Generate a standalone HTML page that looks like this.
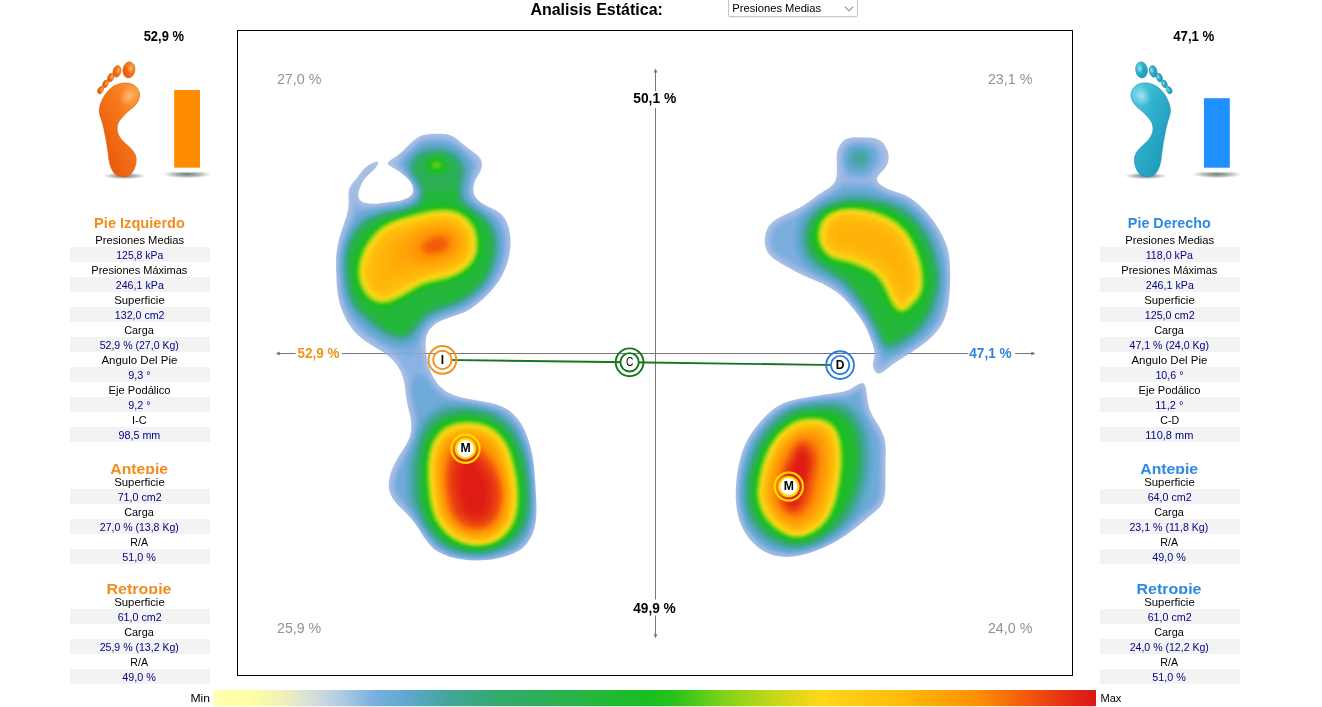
<!DOCTYPE html><html lang="es"><head><meta charset="utf-8"><title>Analisis Estática</title><style>
html,body{margin:0;padding:0;background:#fff}
body{width:1322px;height:707px;position:relative;overflow:hidden;font-family:"Liberation Sans",sans-serif;font-size:11px;color:#000}
.t{position:absolute;white-space:pre;line-height:1;transform-origin:50% 50%}
.b{font-weight:bold}
.sel{position:absolute;left:728px;top:-5px;width:128px;height:20px;border:1px solid #c6c6c6;border-radius:2px;background:#fff;box-shadow:0 1px 1px rgba(0,0,0,.06)}
.panel{position:absolute;top:0;width:140px;height:707px}
.panel div{position:absolute;left:0;width:140px}
.lb{height:15px;color:#000}
.vl{height:15px;color:#00008b;background:#f3f3f3}
svg{position:absolute;left:0;top:0}
svg text{font-family:"Liberation Sans",sans-serif}
</style></head><body>
<svg width="1322" height="707" viewBox="0 0 1322 707">
<defs><linearGradient id="cb" x1="0" y1="0" x2="1" y2="0"><stop offset="0.000" stop-color="rgb(255,255,176)"/><stop offset="0.040" stop-color="rgb(255,255,164)"/><stop offset="0.080" stop-color="rgb(238,240,185)"/><stop offset="0.120" stop-color="rgb(205,218,222)"/><stop offset="0.150" stop-color="rgb(168,200,228)"/><stop offset="0.183" stop-color="rgb(118,175,222)"/><stop offset="0.220" stop-color="rgb(95,168,205)"/><stop offset="0.262" stop-color="rgb(70,165,160)"/><stop offset="0.320" stop-color="rgb(50,170,110)"/><stop offset="0.410" stop-color="rgb(40,180,70)"/><stop offset="0.495" stop-color="rgb(25,190,30)"/><stop offset="0.523" stop-color="rgb(40,195,25)"/><stop offset="0.580" stop-color="rgb(130,210,25)"/><stop offset="0.636" stop-color="rgb(200,215,25)"/><stop offset="0.690" stop-color="rgb(255,215,25)"/><stop offset="0.784" stop-color="rgb(255,185,10)"/><stop offset="0.869" stop-color="rgb(255,140,5)"/><stop offset="0.925" stop-color="rgb(240,86,13)"/><stop offset="0.982" stop-color="rgb(224,34,20)"/><stop offset="1.000" stop-color="rgb(220,24,20)"/></linearGradient><filter id="hb" x="0" y="0" width="100%" height="100%" color-interpolation-filters="sRGB"><feGaussianBlur stdDeviation="0.9"/></filter></defs>
<rect x="237.5" y="30.5" width="835" height="645" fill="#fff" stroke="#000" stroke-width="1"/>
<g stroke="#767676" stroke-width="1" fill="#767676">
<path fill="none" d="M655.5,71 V91 M655.5,108 V599.5 M655.5,615.5 V636 M279,353.5 H295.6 M341.9,353.5 H968.5 M1015.1,353.5 H1032"/>
<path stroke="none" d="M655.5,68.6 L657.4,72.6 L653.6,72.6 Z M655.5,638.3 L657.4,634.3 L653.6,634.3 Z M275.8,353.5 L279.8,351.6 L279.8,355.4 Z M1035.3,353.5 L1031.3,351.6 L1031.3,355.4 Z"/>
</g>
<clipPath id="hc"><path d="M427.8,134.2L434.5,133.7L441.3,133.7L447.8,134.6L450.8,135.5L453.6,136.8L456.3,138.5L466.5,147.0L475.1,153.3L477.7,155.5L479.8,157.8L481.3,160.5L481.9,163.5L481.8,166.7L480.9,170.0L479.5,173.0L476.2,178.6L474.8,181.6L473.8,184.9L473.4,188.3L473.5,191.6L474.3,194.7L475.8,197.5L478.0,200.0L480.5,202.2L486.4,205.7L495.4,210.1L498.1,211.8L500.7,213.6L502.9,215.9L504.8,218.5L506.4,221.4L507.7,224.5L508.7,227.7L510.1,234.2L510.6,240.7L510.4,247.2L509.0,256.9L507.3,263.2L505.0,269.4L502.2,275.3L498.8,280.9L495.0,286.2L490.8,291.3L484.0,298.2L476.5,304.6L471.1,308.4L465.5,311.7L462.5,313.0L444.0,319.5L438.1,322.3L435.4,324.1L432.8,326.2L430.5,328.6L428.6,331.3L427.2,334.2L426.2,337.3L425.7,340.5L425.6,347.1L426.2,353.7L427.3,360.2L428.8,366.5L431.0,372.6L434.0,378.5L437.8,383.9L440.0,386.3L445.0,390.6L447.7,392.3L453.7,395.1L459.9,397.0L466.3,398.5L488.8,402.6L495.2,404.1L501.4,406.3L507.2,409.3L509.9,411.1L514.8,415.5L517.0,417.9L520.9,423.2L522.5,426.0L525.4,431.9L527.8,438.0L529.8,444.3L532.2,453.8L533.7,463.4L534.9,476.4L536.3,499.2L536.5,509.0L536.1,518.8L535.1,525.3L533.4,531.7L530.8,537.8L527.2,543.3L525.1,545.8L522.7,548.0L520.1,550.0L514.4,553.1L508.2,555.6L501.8,557.4L492.2,559.4L485.7,560.1L476.0,560.5L469.5,560.3L463.0,559.6L456.5,558.5L450.0,556.9L443.8,554.6L438.0,551.7L435.3,549.9L432.8,547.9L428.3,543.1L424.4,537.9L417.3,526.7L413.6,521.4L409.4,516.5L397.7,504.9L393.5,499.7L391.8,497.0L390.4,494.0L389.4,491.0L388.9,487.8L388.7,484.5L389.0,481.2L390.3,474.6L392.4,468.3L395.2,462.4L398.4,456.8L405.6,445.7L408.6,439.9L409.7,436.9L410.5,433.8L411.1,430.5L411.3,427.2L411.0,420.6L409.8,414.2L406.8,401.5L404.7,385.3L403.4,378.9L401.2,372.7L398.2,366.9L396.4,364.2L392.1,359.2L389.7,357.0L384.5,353.0L367.8,342.7L362.5,338.9L357.5,334.7L355.2,332.4L351.1,327.3L347.4,321.9L343.0,313.1L339.7,303.8L337.7,294.3L336.7,284.5L336.0,268.2L336.1,258.3L336.6,251.9L337.6,245.5L339.1,239.1L340.9,232.8L346.2,217.3L347.8,211.0L348.6,204.5L348.5,194.4L348.8,191.2L349.5,188.1L351.0,185.2L352.9,182.6L357.2,177.6L362.6,170.2L365.0,167.7L368.4,165.3L372.4,163.1L376.0,161.7L378.3,161.8L378.1,163.9L376.1,167.2L373.7,170.0L366.8,176.5L364.8,178.8L363.0,181.3L361.4,184.2L360.1,187.4L359.0,190.8L358.4,194.3L358.6,197.5L360.0,200.1L362.7,201.9L366.1,202.9L369.6,203.5L376.2,203.7L398.5,200.9L401.8,200.2L405.0,199.1L408.2,197.6L410.9,195.6L412.7,193.0L413.2,189.9L412.7,186.6L411.3,183.3L409.4,180.5L407.1,178.1L399.9,172.1L397.3,170.2L390.7,166.5L388.1,164.7L387.8,162.7L389.9,160.5L396.7,156.1L399.5,153.9L404.1,149.7L410.7,142.9L415.8,138.7L418.6,136.9L421.5,135.6L424.6,134.7ZM851.3,137.6L856.5,137.3L867.2,137.4L874.0,138.0L877.1,138.9L879.9,140.3L881.3,141.3L883.6,143.6L885.6,146.5L887.8,151.3L888.7,156.3L888.6,159.7L887.8,163.0L886.3,166.2L884.1,169.2L879.0,174.7L877.3,177.4L876.9,178.7L876.9,180.0L877.4,181.3L878.3,182.6L880.9,185.0L885.7,188.0L890.6,190.1L902.9,194.2L905.9,195.5L910.2,197.9L914.3,200.7L918.2,204.0L925.6,211.2L929.9,216.3L934.9,222.9L939.4,230.0L942.6,235.9L945.3,242.0L947.5,248.3L948.7,253.2L949.6,259.8L950.2,269.8L950.2,281.6L949.8,291.5L948.8,301.5L947.7,308.2L946.0,314.6L943.6,320.9L941.2,325.3L938.4,329.5L934.1,334.6L929.3,339.3L924.1,343.5L911.7,352.2L893.9,363.5L883.3,371.8L880.2,373.3L878.8,373.6L877.5,373.4L876.2,372.8L875.1,371.6L873.5,368.4L873.0,366.6L872.9,363.2L874.4,355.0L874.2,350.1L872.4,343.6L868.2,332.5L864.6,325.1L860.3,318.0L855.3,311.2L848.8,303.5L844.2,298.6L840.6,295.2L836.7,292.1L831.1,288.4L822.3,283.6L803.9,275.7L796.4,272.1L781.8,263.9L774.5,259.2L770.6,256.0L767.6,252.2L766.1,249.2L764.9,244.3L764.7,239.2L765.1,235.7L765.9,232.4L767.0,229.2L768.6,226.3L771.8,222.5L774.3,220.4L778.6,217.7L797.0,208.9L804.2,204.9L808.3,202.2L819.0,194.3L829.2,187.7L831.8,185.6L833.9,183.2L835.5,180.4L836.7,175.5L837.0,170.4L836.5,157.0L837.1,152.0L838.1,148.6L840.5,144.0L842.7,141.4L843.9,140.3L846.6,138.8ZM863.2,383.2L864.6,384.5L865.9,388.1L868.2,403.8L869.1,407.4L870.2,410.8L873.0,416.5L879.2,426.6L881.7,431.2L884.1,437.1L885.2,442.0L885.8,449.8L885.5,464.2L885.4,488.9L885.0,494.2L884.3,498.1L883.2,501.8L882.1,504.1L879.9,507.2L876.2,510.8L857.2,526.7L848.0,533.7L840.4,538.8L833.7,542.7L825.6,546.7L817.2,550.2L808.6,553.2L801.1,555.2L793.4,556.5L786.9,557.0L780.5,556.6L774.1,555.4L767.9,553.3L762.1,550.3L756.9,546.5L752.1,542.0L747.9,537.0L744.3,531.6L741.4,525.8L739.1,519.7L737.5,513.4L736.3,505.7L735.7,496.7L735.8,487.6L736.7,477.3L738.0,468.3L740.0,459.4L742.6,450.7L745.5,443.5L749.2,436.7L752.7,431.3L756.7,426.1L761.8,420.1L766.3,415.3L770.1,411.8L774.1,408.6L778.4,405.8L781.8,404.0L785.3,402.5L790.2,400.8L799.1,398.7L814.8,396.0L838.8,392.5L843.7,391.5L847.4,390.3L850.0,389.2L857.9,384.5L860.3,383.4L862.3,383.0Z"/></clipPath>
<g clip-path="url(#hc)"><g filter="url(#hb)"><rect x="320" y="120" width="650" height="455" fill="rgb(148,175,219)" fill-opacity="0.75"/>
<path fill="rgb(140,174,224)" fill-opacity="0.26" d="M491.2,560.9L482.2,561.7L472.8,561.8L461.2,560.6L448.2,557.5L441.2,554.5L436.2,551.6L431.8,548L425.9,541.2L410.2,518.4L397.3,504.2L392.4,497.2L390.1,491.8L389.2,486.8L389.5,480.8L390.6,475.2L392.5,469.8L395.4,463.2L407.8,441.4L409.8,435.6L410.8,430.2L411,418.8L406.8,399.8L404.3,378.8L402.2,372.8L398.8,366.2L396.2,362.6L391.8,358L386.7,353.8L363.8,339.2L356.2,332.6L352.4,328.2L346.7,319.8L342.4,311.2L339.5,302.8L337.4,293.2L335.7,273.8L335.7,257.8L336.4,250.8L339.5,237.2L348.8,210.8L349.5,206.2L349.7,192.8L350.5,189.2L351.8,186.2L364.1,170.8L370.2,166.2L373.8,165L374.3,165.2L374.6,166.2L373.5,168.8L364.5,178.2L361.8,182.3L359.9,186.2L358.5,191.8L358.1,195.8L358.8,198.8L360.7,201.2L362.8,202.5L365.3,203.2L374.2,203.8L397.6,200.8L404.6,198.8L408.6,196.8L410.8,194.8L412,192.2L412,188.8L410.7,185.2L408.2,181.3L398.5,171.2L391.5,165.8L390.6,164.2L390.6,162.8L392.1,160.8L400.2,153.9L414.2,140.4L420.8,136.6L426.8,134.9L438.8,134.3L446.8,135L451.8,136.6L455.8,138.6L459.8,141.4L472.2,151.6L478.2,157.2L480.8,161.8L481.3,166.2L480.1,171.2L475.8,180.5L474.4,184.8L473.8,190.2L474.8,194.7L476.8,197.9L480.3,201.2L485.3,204.8L495.2,210.1L502.2,215.8L505.1,219.8L507.5,224.8L509,229.2L510.1,234.8L510.5,239.8L510.3,248.2L509.5,255.2L507.5,263.2L503,274.8L495.1,287.2L490.9,292.2L479.8,302.7L471.2,308.9L464.8,312.5L457.8,315.5L442.8,320.8L437.8,323.2L434.1,325.8L430.6,329.2L427.8,334L426.2,338.2L425.1,344.8L426.2,357.5L427.7,364.8L429.2,369.5L435.2,380.7L440.6,387.2L447.8,392.7L452.2,394.7L462.8,397.5L486.2,401.6L494.2,403.4L499.2,405.1L506.2,408.5L513.2,413.4L520.5,421.8L525.6,430.8L530,441.8L532.6,450.8L534.6,460.8L536.2,474.2L537.8,500.8L537.6,515.2L536.4,523.8L534.6,530.8L532,537.2L528.6,542.8L525.2,546.7L521.2,550L515.2,553.6L509.8,556L501.8,558.6ZM879.8,372.6L878.2,372.5L876.7,371.8L875.4,370.2L874.4,368.2L873.9,364.8L874.6,356.2L874.2,351.7L872.2,344.6L866.2,329.8L862.8,323.2L858.8,317.1L852.8,309L845.2,300.3L839,294.2L831.3,288.8L821.2,283.2L796.2,271.5L781.2,263L775.2,259L771.2,255.7L768.5,252.2L766.7,248.2L765.6,243.2L765.8,236.8L767.5,230.8L769.9,226.2L773.2,222.6L779.2,218.3L793.1,211.8L802.8,206.2L830.6,187.2L834.8,183.3L837.2,179.8L838.1,176.8L837.2,157.2L837.6,153.2L839,148.8L841.6,144.2L844.2,141.5L848.2,139.4L853.2,138.2L866.2,138.1L873.2,139L878.8,141.2L883.2,145.2L885.4,148.8L886.7,152.2L887.4,156.8L887.2,160.8L885,166.2L877,176.8L876.3,179.2L876.7,181.2L880.1,184.8L886.1,188.2L902.2,193.9L909.2,197.5L915.8,201.9L927.1,212.8L933.1,220.2L937.6,226.8L944,238.8L948,249.8L950.1,261.2L950.9,270.8L951,280.2L949.4,299.2L948.1,307.2L946.1,314.8L944,320.2L941,325.8L933.3,335.8L929.2,339.8L923.2,344.5L912.8,352L892.6,364.2L883.8,371ZM762.8,550.9L757.2,546.9L752.2,542.3L747.9,537.2L744.6,532.2L741.4,526.2L738.9,519.8L737.1,512.8L735.8,505.2L735.2,497.8L735.2,490.8L735.9,480.2L737.5,469.2L739.6,459.8L742.4,450.8L745.5,443.2L749,436.8L757.1,425.2L766.6,414.8L774.8,407.9L783.2,403L791.8,400L802.2,397.5L843.8,391.9L849.8,389.8L859.8,384.5L861.8,384.2L863.5,384.8L865,386.2L866,388.8L868.2,403.4L870.2,410.8L873.2,417L882.1,432.2L884.1,437.2L885.3,442.8L886.1,451.8L885.6,460.8L885.5,490.2L884.4,498.2L882,504.2L876.2,511L855.8,528.5L845.2,536.6L832.8,544.5L820.2,550.5L804.8,555.5L795.8,557.1L788.8,557.7L782.8,557.5L776.8,556.5L768.8,554Z"/>
<path fill="rgb(134,173,227)" fill-opacity="0.23" d="M490.8,559.8L482.2,560.6L473.2,560.8L461.8,559.6L448.8,556.5L441.8,553.5L436.8,550.4L432.2,546.8L426.6,540.2L410.8,516.9L398.1,502.8L393.6,496.2L391.6,491.2L390.8,486.8L391.1,481.2L392.1,475.8L396.5,464.8L408.8,442.2L411.2,435.2L412.2,429.8L412.6,418.8L408.3,398.8L406.2,378.7L403.9,371.8L400.4,365.2L397.8,361.5L393.2,356.8L387.8,352.2L364.8,337.7L357.5,331.2L353.2,326.5L347.6,318.2L343.4,309.8L340.5,301.2L338.5,291.8L337,273.2L337,257.8L337.6,251.2L339,244.2L341,236.8L350.8,210.8L351.4,206.8L351.9,193.2L353.4,188.2L355.2,186L356.2,185.4L356.8,185.6L355.9,194.8L356.4,198.8L357.6,200.8L359.8,202.9L361.8,204.1L364.2,204.8L373.2,205.3L395.8,202.4L404.2,200.2L409.8,197.5L412.1,195.2L413.2,192.8L413.2,189.4L412.2,185.8L407.8,179L399.8,170.4L394.2,165.2L393.5,163.8L393.6,162.8L395.6,160.2L414.4,142.2L420.8,138.4L426.8,136.6L438.2,135.9L446.2,136.6L451.2,138.1L455.8,140.5L459.8,143.4L471.1,152.8L476.7,158.2L479,162.2L479.4,166.2L478.4,170.8L474.5,179.8L472.9,184.8L472.4,190.8L473.2,195L475.3,198.2L479.4,202.2L485.2,206.2L494.2,211.2L500.9,216.8L503.5,220.2L505.9,225.2L507.4,229.8L508.5,235.2L508.9,240.2L508.7,248.8L507.9,255.2L506.1,262.8L501.8,273.8L493.7,286.8L488.5,292.8L480.8,300L470.2,307.9L464.8,310.9L457.8,314L441.7,319.8L436.7,322.2L432.8,325L429.2,328.8L426.2,333.8L424.3,339.2L423.2,345.2L424.5,358.2L425.9,365.2L427.7,370.8L434.4,382.2L439.4,388.2L446.5,393.8L450.8,395.8L462.4,398.8L491.2,404L498.2,406.1L505.2,409.4L512.2,414.3L519.6,422.8L524.4,431.2L529.1,442.8L531.5,451.2L533.5,461.2L535.1,474.8L536.7,500.8L536.4,514.8L535.2,523.8L533.6,529.8L531,536.2L528,541.2L524.8,545.3L520.2,549.1L513.8,553L507.8,555.5L497.2,558.5ZM880.2,370.5L877.8,369.9L876,367.2L875.6,363.8L876.3,356.2L875.7,351.8L871.2,338.3L867.2,329.1L863.8,322.5L859.2,315.7L853.8,308.3L846.2,299.4L839.9,293.2L832.4,287.8L823.4,282.8L796.2,269.5L782.2,261.5L776.2,257.5L772.3,254.2L770,251.2L768.2,247.2L767.3,242.8L767.5,237.2L769.2,231.2L771.4,227.2L774.6,223.8L780.2,219.8L794.1,213.2L803.3,207.8L819.8,196.1L832,188.2L836.2,184.3L839.4,180.2L840.4,177.2L838.8,159.2L839.2,154.2L840.5,149.8L842.6,145.8L845.2,143L848.8,141L853.2,139.8L864.2,139.7L871.8,140.6L877.2,142.7L881.2,146.3L883.4,149.8L884.6,153.2L885.1,157.2L884.8,160.8L882.7,165.8L874.6,176.8L873.8,179.2L874.3,181.2L878.2,185.5L883.7,188.8L888.2,190.8L901.2,195.1L908.2,198.6L914.8,203L925.6,213.2L932.1,221.2L936.1,227.2L942,238.2L946.4,249.8L948.7,261.8L949.5,270.8L949.6,280.2L948.1,298.2L946.9,305.2L944.9,313.2L942.9,318.8L939.8,324.8L932.1,334.8L928,338.8L922.2,343.3L912.2,350.5L891.8,362.8L883.2,369.2ZM763.2,549.5L757.8,545.5L752.8,540.8L748.6,535.8L745,530.2L742.2,524.8L739.9,518.8L738.4,512.8L737,504.2L736.4,497.2L736.4,490.2L737.4,478.2L739,468.2L741.1,459.2L743.6,451.2L746.7,443.8L750.5,436.8L758.3,425.8L767.8,415.4L776.2,408.4L784.2,403.9L792.8,400.9L803.2,398.6L820.2,396L844.2,393.3L849.8,391.5L859.2,386.5L861.2,386.1L862.8,386.6L863.8,387.8L864.7,390.2L866.8,403.9L868.5,410.8L871.9,417.8L880.8,433.2L882.6,437.8L883.8,443.2L884.5,451.8L884,460.8L884,489.8L883,497.2L880.7,503.2L875.2,509.8L854.8,527.4L844.2,535.7L832.8,543.1L820.8,549L804.2,554.4L795.2,555.9L788.8,556.4L782.8,556.1L776.8,555L768.8,552.4Z"/>
<path fill="rgb(128,173,227)" fill-opacity="0.29" d="M490.8,559L475.2,560L469.8,559.8L463.2,559L449.2,555.7L442.8,553L437.8,550L433.2,546.5L426.9,539.2L410.8,515.3L399,501.8L394.8,495.8L393,491.2L392.1,486.8L392.4,481.2L393.5,475.8L397.7,465.2L409.8,442.5L412.2,435.2L413.2,429.8L413.9,418.8L409.5,398.2L408.2,387.2L408.3,380.8L407.8,377.8L405.5,371.2L401.8,364.2L398.9,360.2L394.2,355.4L388.8,350.9L378.2,344.7L365.8,336.5L358.2,329.9L354.2,325.4L348.8,317.5L344.5,309.2L341.4,300.2L339.5,291.2L337.9,271.8L337.9,257.8L338.8,249.8L342.5,235.8L352.1,212.2L353.8,202.8L354.2,202.1L355.2,201.9L359.8,205.1L362.8,206.2L372.8,206.5L399.8,202.6L406.8,200.3L411.6,197.2L413.5,194.8L414.2,192.2L414,188.8L412.8,185.2L408.8,179L396.7,165.2L396.1,163.8L396.2,162.8L398.3,159.8L414.8,143.6L421.2,139.7L427.2,137.9L438.8,137.3L446.2,138L451.2,139.6L455.2,141.7L459.2,144.6L469.8,153.3L475.1,158.8L477.2,162.2L477.8,166.2L477,170.2L473.2,179.5L471.6,185.2L471.1,190.8L472.1,195.2L474.2,198.8L478.2,202.6L484.1,206.8L493.2,211.9L499.8,217.4L502.2,220.8L504.6,225.8L507.1,235.2L507.5,240.2L507.4,248.2L506.6,255.2L504.9,262.2L500.5,273.8L492.7,286.2L487.5,292.2L479.8,299.5L469.2,307.2L456.8,313.3L441.2,318.8L435.8,321.5L431.8,324.2L428.1,328.2L424.8,333.8L422.4,340.8L421.5,345.8L422.8,358.8L424.1,365.2L426.1,371.2L433.8,383.7L438.5,389.2L445.8,394.8L450.2,397L461.8,399.7L488.8,404.3L497.2,406.7L504.2,410L511.7,415.2L518.7,423.2L523.6,431.8L528.1,442.8L530.6,451.2L532.6,461.2L534.4,475.2L536,500.8L535.6,514.8L534.4,522.8L532.9,528.8L530.4,535.2L527.4,540.2L523.8,544.8L519.8,548.2L513.8,551.9L507.8,554.5L497.8,557.5ZM880.2,368.6L878.8,368.2L877.5,366.2L877.2,363.8L877.8,357.2L877.1,352.8L872.2,338.3L868.2,329.1L864.8,322.5L860.2,315.5L854.8,308L847,298.8L840.8,292.5L832.9,286.8L825,282.2L797.2,268.2L783.1,260.2L777.2,256.4L773.5,253.2L771.2,250.4L769.7,246.8L768.8,242.8L769,237.8L770.5,232.2L772.6,228.2L775.8,224.8L780.8,221.3L794.8,214.6L804.2,208.6L819.8,197.5L833.7,188.8L842,180.2L842.8,178.8L842.9,176.8L840.6,165.2L840.3,161.2L840.4,156.2L841.1,152.2L843.1,147.8L845.8,144.5L849.8,142.2L854.2,141.1L863.2,141L870.2,141.8L875.5,143.8L879.5,147.2L881.3,150.2L882.4,153.2L882.9,157.2L882.6,160.8L880.1,166.2L872.3,176.8L871.3,179.2L871.8,181.2L876.9,186.2L881.8,189.2L887.2,191.7L900.8,196.2L907.2,199.4L914.2,204.1L924,213.2L930.6,221.2L934.4,226.8L940.9,238.8L945.3,250.2L947.6,262.8L948.4,271.2L948.5,280.2L947,297.8L945.7,305.2L943.6,313.2L941.7,318.2L938.5,324.2L934.7,329.8L930.4,334.8L919.2,344.1L911.2,349.7L890.8,361.6L882.8,367.6ZM763.8,548.4L758.2,544.4L753.8,540.2L749.5,535.2L745.9,529.8L743.1,524.2L740.7,517.8L737.9,504.2L737.3,497.2L737.4,490.2L738,481.2L739.7,469.8L741.9,459.8L744.4,451.8L747.5,444.2L751.4,437.2L759.6,425.8L768.8,415.8L776.8,409.2L785.2,404.5L793.8,401.6L803.2,399.5L820.8,396.9L844.8,394.5L850.2,392.8L859.2,388.1L861.8,388.1L862.8,389.2L863.5,391.2L865.6,404.8L867.3,411.2L870.8,418.4L879.6,433.8L881.4,438.2L882.5,443.2L883.2,451.8L882.8,460.8L882.7,489.8L881.6,497.2L879.5,502.8L874.2,508.9L865.4,516.2L853.7,526.8L843.2,535.1L831.8,542.6L819.8,548.5L804.2,553.5L795.2,555L788.8,555.4L782.8,555.1L776.8,553.9L769.2,551.4Z"/>
<path fill="rgb(123,172,224)" fill-opacity="0.40" d="M490.2,558.3L481.8,559.2L473.2,559.3L461.8,558L449.2,555L442.8,552.1L437.8,549.1L433.2,545.4L427.1,538.2L411.2,514.4L399.8,500.8L396,495.2L394.3,491.2L393.4,486.8L393.6,481.8L394.5,476.8L398.2,466.9L405.2,453.9L411,441.8L413.7,432.8L415.1,422.8L414.7,415.8L410.6,396.8L409.4,386.2L410,380.2L409.6,377.2L407.1,370.2L403.4,363.2L400.6,359.2L395.7,354.2L390.8,350.2L379.2,343.6L366.8,335.4L359.2,328.8L354.8,323.8L349.5,316.2L345.1,307.8L342.2,299.2L340.4,290.8L338.7,270.8L338.8,257.2L339.9,248.8L343.5,235.8L346.3,228.8L353.5,213.2L355.6,206.8L356.8,206.1L362.2,207.7L371.2,207.7L395.2,204.3L405.8,201.6L409.6,199.8L412.4,197.8L414.2,195.3L415,192.8L414.9,189.8L413.9,186.2L410.2,179.9L399.1,165.8L398.3,164.2L398.3,162.8L399.9,160.2L406.2,153.2L414.8,145.2L421.2,141.1L427.2,139.3L435.8,138.6L442.8,138.9L447.2,139.6L451.2,141L455.2,143.1L459.2,146L468.8,154.2L473.5,159.2L475.7,162.8L476.2,166.8L475.5,170.2L472,179.8L470.5,185.8L470,191.2L471.1,195.8L473.4,199.2L477.2,203L483.2,207.3L492.5,212.8L498.8,218.2L501.2,221.8L503.4,226.2L505.9,235.8L506.3,241.8L506,250.2L505.2,255.8L503.6,262.8L499.5,273.2L495.8,279.8L491.4,286.2L486.2,292.2L479.2,298.6L468.8,306.3L456.2,312.4L439.8,318.2L435,320.8L431.2,323.4L427.1,327.8L423.8,333.2L420.6,341.8L419.7,346.2L421,359.2L422.4,366.2L424.2,371.8L425.3,373.8L428.8,377.6L433,384.8L437.8,390.2L444.9,395.8L449.2,397.9L460.2,400.3L487.8,404.9L496.8,407.5L503.8,410.8L510.9,415.8L518,423.8L522.9,432.2L527.4,443.2L530,452.2L532.4,464.2L534.9,491.2L535.3,500.8L534.8,514.2L533.6,522.8L532,528.8L529.7,534.8L527,539.2L523.5,543.8L519.2,547.5L512.8,551.4L506.8,554L496.8,557ZM865.8,179.7L858.8,180.4L851.8,179.6L847.2,177.6L844.8,174L841.9,164.2L841.8,155.2L843,151.2L844.8,147.8L846.8,145.6L849.8,143.7L853.2,142.6L857.2,142.2L864.2,142.3L869.2,143.1L872.8,144.3L875.3,145.8L877.8,148.2L879.6,151.2L880.5,154.2L880.8,157.8L880.4,160.8L879.5,163.2L876.8,167.8L867.8,178.6ZM881.2,366.2L879.8,365.9L879.1,364.8L879.3,357.8L878.5,353.2L872.7,337.2L868.2,327.3L864.8,320.9L859.2,312.7L847.2,297.7L840.8,291.3L833.2,285.8L790.8,262.9L779.1,255.8L775.3,252.8L773.2,250.5L771.7,247.8L770.7,244.2L770.4,239.8L771.6,233.8L773.8,229.3L776.8,226L782.2,222.3L797.2,214.9L820.2,198.4L834.6,189.8L837.7,187.2L841.2,183.4L844.8,181.7L866.8,181.9L869.2,182.4L871.8,183.8L876.5,187.8L885.8,192.3L901.8,197.8L906.2,200L912.2,203.9L919,209.8L924.4,215.2L930,222.2L934.4,228.8L937.5,234.2L941.5,242.8L943.8,249.2L945.4,255.8L947.4,272.2L947.5,280.8L946.8,290.8L945.3,301.2L943.4,309.8L941,316.8L938,322.8L934.2,328.3L929.8,333.7L918.8,343.1L905.2,352.1L889.3,360.8L883.2,365.2ZM764.2,547.5L758.8,543.4L754.2,539.3L750,534.2L746.4,528.8L743.7,523.2L741.4,517.2L738.7,503.8L738.2,490.2L739,479.8L740.5,469.8L742.7,460.2L745.4,451.8L748.5,444.2L752.1,437.8L759.9,426.8L769.2,416.5L777.2,409.9L786.2,404.9L794.8,402.1L804.2,400.1L822.2,397.6L845.2,395.7L850.2,394.1L858.8,389.9L860.8,389.8L861.8,390.7L862.5,392.8L864.4,405.2L866.2,411.8L869.8,419.2L878.2,433.8L880,438.2L881.2,443.2L882,451.8L881.5,460.2L881.5,489.2L880.5,496.8L878.3,502.2L873.2,508.1L862.2,517.3L852.7,526.2L842.9,534.2L831.8,541.7L819.8,547.7L804.2,552.7L795.2,554.1L788.8,554.6L782.8,554.1L776.8,552.8L769.8,550.4Z"/>
<path fill="rgb(118,171,221)" fill-opacity="0.67" d="M410.8,356.8L392.8,349.3L380.8,342.9L369.2,335.4L359.2,326.8L351.2,316.7L347.5,310.2L345,304.8L342.9,298.2L341.4,291.2L339.6,271.8L339.6,257.8L340.3,250.8L342.9,240.2L346.5,230.8L354.8,214.6L357.8,210.3L359.8,209.7L372.8,208.7L400.2,204.1L408.8,201.2L412.2,198.9L414.3,196.8L415.5,194.2L415.8,191.8L414.4,185.8L411.2,180.2L403.6,170.2L400.9,165.8L400.2,163.8L401.3,160.8L408.2,152.8L416.8,145.1L424.2,141.3L428.2,140.5L435.2,139.9L445.2,140.5L451.8,142.6L457.8,146.3L468.1,155.2L473.7,162.2L474.5,164.8L474.5,167.8L469.5,185.2L468.9,190.8L469.6,194.8L471.3,198.2L475,202.2L481.8,207.3L492.8,214.2L497.2,218.2L500.1,222.2L503.1,229.2L504.7,236.8L505,245.2L504.3,254.2L502.1,263.8L498.8,272.2L492.7,282.8L487.2,289.8L477.8,298.6L467.2,306.1L455.8,311.6L439.2,317.4L434.2,320L430.2,322.9L426.6,326.8L423.6,331.2L415.8,348.8L411.2,356.7ZM866.2,176.1L861.8,177.1L853.2,176.7L848.8,175.1L846,171.8L843.3,163.8L843.1,155.8L844.1,152.2L845.5,149.2L847.2,147.1L849.8,145.2L852.8,144L856.2,143.5L861.8,143.4L866.8,144L870.2,145L873.2,146.5L875.2,148.3L877.1,150.8L878.2,153.8L878.6,156.8L878.5,159.8L877.6,162.8L873.2,169.4L868.8,174.2ZM882.8,362.6L881.8,362.4L881.4,361.8L881.1,357.8L879.7,353.2L872.9,335.8L867.8,324.8L862.6,316.2L857.2,308.6L846.8,295.8L841.2,290.5L834.2,285.2L827.6,281.2L811.2,272.8L779.8,253.8L775.2,249.8L773.8,247.3L772.8,244.2L772.4,239.8L773.6,234.2L775.6,230.2L778.5,227.2L782.9,224.2L795.8,217.9L816.2,202.3L822.8,198L835.2,191L839,188.2L842.2,185.2L844.2,184.3L869.8,185L878.2,190.2L885.2,193.2L901.2,198.7L905.8,201L911.2,204.5L917.8,210L923.2,215.5L929,222.8L933.1,228.8L936.3,234.2L940.1,242.2L942.4,248.8L944.2,255.2L945.5,262.8L946.5,272.2L946.6,280.8L945.9,290.2L944.3,300.8L942.3,309.2L940.1,315.8L937.1,321.8L933.2,327.6L928.8,333L924.2,337.2L916.2,343.6L900.2,353.8ZM512.8,550.5L505.8,553.6L495.2,556.7L488.8,557.9L478.2,558.7L469.8,558.5L459.8,557L450.8,554.8L443.8,551.8L435.2,546.3L428.3,538.8L424,532.8L411.8,513.7L400.3,499.2L397,494.2L395.4,490.2L394.7,486.2L395,481.2L396,476.2L399.2,467.9L404.8,457.4L411.2,443.4L413.8,435.8L415,430.2L416.3,421.8L416.4,418.2L412.2,398.8L410.7,385.2L411.8,381.1L416.2,372.6L422.8,374.9L426.2,376.8L427.8,378.5L431.7,385.2L435.4,389.8L439.8,393.6L445.8,397.8L451.2,399.6L485.8,405.3L498.2,409L504.2,412.1L510.8,416.8L516.8,423.6L520.8,429.9L524.1,436.8L527,444.2L529.4,452.8L531.6,463.2L533.1,475.8L534.3,491.2L534.7,500.8L534.2,513.2L532.1,525.8L530.1,531.8L527.9,536.2L524.5,541.2L521.8,544.3L518.1,547.2ZM764.8,546.6L759.8,543L755.1,538.8L750.8,533.6L747.2,528.2L744.6,523.2L742.2,516.8L739.4,503.2L738.9,495.2L739.3,484.2L741.4,469.2L743.6,460.2L746.3,451.8L749.5,444.2L753.1,437.8L760.9,426.8L770.2,416.7L778.2,410.2L787.2,405.3L798.2,402L812.8,399.6L830.8,397.6L845.8,396.9L850.2,395.6L858.2,391.8L860.2,392L861.4,394.2L863,405.2L864.8,411.8L868.7,419.8L877.2,434.8L878.8,438.8L879.9,443.8L880.7,451.8L880.2,460.2L880.1,489.2L879.2,496.2L877.1,501.8L872.8,506.8L864.2,513.8L852.3,525.2L842.2,533.8L831.2,541.2L819.2,547.2L804.2,552L795.2,553.4L788.8,553.7L783.2,553.3L777.2,552L770.2,549.5Z"/>
<path fill="rgb(112,170,217)" d="M394.8,348L390.8,346.4L381.8,341.8L366.8,331.6L360.8,326.2L356.2,321.3L351.8,315.3L348,308.8L345.5,303.2L343.6,297.2L341.2,282.8L340.3,271.8L340.3,258.2L341,251.8L342.2,245.8L344.6,237.8L348.5,228.8L355.8,216.1L359.2,212.5L363.2,211.1L402.2,204.4L409.8,201.5L412.8,199.5L415,197.2L416.1,194.8L416.5,192.2L415.2,186.2L412.2,180.9L404.9,170.8L402,164.2L402.2,162.2L403.3,160.2L410.6,151.8L417.8,145.8L421.8,143.7L425.2,142.4L436.2,141.2L447.2,142.3L452.8,144.4L458.2,148.1L467.3,156.2L472.2,162.8L473,165.2L473,167.8L468.3,186.2L467.8,191.2L468.4,194.8L470.1,198.2L473.1,201.8L478.8,206.2L492.3,215.2L496.8,219.8L499.7,224.2L502.3,231.2L503.7,239.8L503.4,251.8L501.8,260.8L498.1,271.2L491.9,282.2L485.8,290L477.2,297.8L468.8,304L462.8,307.4L454.8,311L440.2,316L431.2,320.8L427.9,323.8L424.9,327.2L421.5,332.8L416.8,342.2L413.2,345.6L409.2,347.5L405.8,348.3L398.8,348.4ZM864.8,174.2L862.2,174.8L858.2,174.9L852.2,174.1L849.1,172.2L846.2,168.2L844.4,162.2L844.3,158.2L844.7,154.8L847.2,149.2L849.2,147.2L851.2,146L854.2,145L857.8,144.6L866.2,145.3L871.9,147.8L873.8,149.4L875.3,151.8L876.2,154.2L876.5,157.8L875.2,163.2L873.4,166.2L870.8,169.5L867.2,172.8ZM888.2,357.6L884.8,357.8L882.8,356.2L879.2,349.4L870.8,329.2L866.9,321.8L857.2,307.4L848.8,296.8L842.8,290.6L836.2,285.4L828.8,280.7L812.8,272.2L803.3,265.8L800.4,262.8L798.6,259.8L796.5,255.2L794.5,249.2L793.4,241.8L793.5,231.8L795.5,223.2L798,218.8L802,214.8L810.8,207.5L819.2,201.5L838.8,190.5L843.8,188.4L852.2,187.5L865.8,187.5L869.8,188L883.4,193.8L900.2,199.4L904.8,201.6L909.7,204.8L920.2,213.8L929.6,225.2L934,232.2L937,238.2L940,245.2L942.4,252.8L944.3,261.8L945.3,269.8L945.5,282.2L944.7,291.8L942.7,303.2L940.2,312.2L937.2,319L934.1,324.2L929.2,330.8L925.2,334.8L918.8,340.2L911.2,345.8L899.8,352.7L894.2,355.4ZM511.6,550.2L504.8,553.2L494.2,556.2L487.8,557.4L477.2,558.1L469.2,557.9L459.2,556.3L450.8,554.1L443.8,551.1L435.8,545.8L428.2,537.6L423.8,531.3L412.2,512.9L398.8,494L397.2,490.7L396.5,486.8L396.6,482.2L397.4,477.8L399.8,470.9L412.6,442.2L415.3,433.2L417.7,420.8L417.6,414.8L413.9,398.8L412.5,386.8L412.8,383.7L413.7,382.2L415,381.2L422.2,378.1L423.8,377.9L425.2,378.4L426.8,380.2L430.4,386.2L434.8,391.5L442.2,397.6L446.2,399.7L484.2,405.7L492.2,407.7L498.2,409.9L503.8,412.8L509.9,417.2L515.4,423.2L519.5,429.2L522.8,435.8L525.9,443.2L528.5,451.8L530.7,461.8L532.6,475.8L533.7,490.8L534.1,500.8L533.7,511.8L533,517.8L531.6,524.8L529.4,531.2L527.3,535.8L523.8,540.8L520.8,544.1L516.8,547.2ZM765.3,545.8L760.2,542.1L755.5,537.8L751.2,532.7L747.6,527.2L745.1,522.2L742.7,515.8L740.1,502.8L739.7,494.8L740,484.2L742.1,469.8L744.4,460.2L747,452.2L750.1,444.8L753.7,438.2L761.5,427.2L770.8,417.2L778.8,410.8L787.8,405.9L799.2,402.5L815.2,399.9L831.2,398.4L847.8,398L851.2,397L857.2,394.2L858.9,394.2L859.8,395.8L861.4,405.8L863.1,411.2L875.8,435.5L877.2,439.4L878.2,443.7L879,451.8L878.5,460.2L878.5,488.8L877.6,495.8L875.7,500.8L871.8,505.4L863.8,512.2L851.8,524.2L841.5,533.2L830.8,540.6L819.2,546.5L804.2,551.3L795.2,552.6L789.2,552.9L783.8,552.4L777.8,551.2L770.8,548.7Z"/>
<path fill="rgb(105,170,212)" d="M394.2,346L382.2,340.4L367.8,330.5L361.8,325.2L357.2,320.4L352.8,314.5L348.7,307.8L345.8,301.2L343.9,294.8L342.4,285.8L341.4,276.2L341.1,257.2L343,245.8L345.3,238.2L349.4,229.2L356.8,217.4L360.2,214L366.2,212L404.2,204.6L410.9,201.8L413.7,199.8L415.6,197.8L416.8,195.3L417.2,192.8L416,186.8L413.7,182.2L405.9,170.8L403.5,164.2L403.8,162.2L404.9,160.2L411.2,152.6L418.2,146.9L422.2,144.8L425.8,143.6L436.8,142.6L447.2,143.6L452.8,145.8L458.2,149.5L466,156.8L469.2,160.8L470.9,163.8L471.5,166.2L471.3,169.2L467.7,183.8L466.8,189.8L467.1,194.2L468.9,198.2L471.3,201.2L475.2,204.7L488.7,213.8L492.4,216.8L496.4,221.2L499.2,226.2L501.5,233.2L502.5,241.2L502.1,252.8L500.3,261.8L496.7,271.8L490.7,282.2L484.7,289.8L476.2,297.5L467.8,303.6L461.8,306.9L454.2,310.2L439.5,315.2L430.8,320L427.5,322.8L424.4,326.2L415.8,340.7L412.2,344L408.8,345.6L405.2,346.4L398.2,346.6ZM865.2,171.5L861.2,172.6L854.2,172.3L850.8,170.8L847.6,167.2L845.8,162.2L845.8,155.8L847.9,150.8L851.2,147.5L856.8,145.9L864.2,146.2L869.7,148.2L873.1,151.8L874.1,154.2L874.4,156.8L873.5,162.2L870.2,167.5ZM890.8,355.4L887.8,356L885.8,355.8L884.2,355.1L882.8,353.4L879.5,347.8L871.6,329.2L867.1,320.8L857.7,306.8L848.2,295L842.8,289.3L836.8,284.6L829.2,279.9L813.8,271.4L805.7,265.8L801.4,260.2L797.4,250.8L795.7,242.2L795.7,233.2L797.4,224.8L800.2,218.8L803.4,215.2L810.3,209.2L817.6,203.8L825.2,199L840.8,191.4L852.2,189.6L864.8,189.6L869.8,190.1L897.2,199.4L904.8,202.8L910.8,206.8L917.2,212.3L922.5,217.8L927.2,223.8L934.4,235.2L938.1,243.2L940.7,250.8L943.8,265.2L944.5,272.8L944.7,281.2L943.8,290.8L942.1,300.8L939.9,309.2L937.3,316.2L934,322.2L929.2,328.8L925.7,332.8L920.1,337.8L912.8,343.4L897.8,352.5ZM767.2,545.8L762.2,542.4L756.9,537.8L752.8,533.1L749,527.8L746.2,522.7L743.7,516.2L741,503.8L740.5,490.2L741,482.2L742.5,471.8L744.9,461.2L747.4,453.2L750.3,446.2L753.7,439.8L761.7,428.2L771.4,417.8L779.8,411.1L789.2,406.1L795.8,404L803.8,402.3L817.8,400.3L829.8,399.3L845.8,399.6L849.1,400.2L851.8,401.4L855.8,404.4L858.8,407.6L866.2,420.7L871.6,432.2L873.1,437.2L874,443.2L874.7,451.8L874.7,460.8L873,479.2L871.5,486.8L869.1,495.8L866.5,502.8L864,507.8L859.9,513.8L856.1,518.2L850.8,523.9L842,531.8L830.8,539.8L818.8,546L804.2,550.7L790.2,552.1L784.8,551.7L778.8,550.5L771.8,548ZM509.2,550.6L502.8,553.1L492.8,555.9L483.8,557.2L476.2,557.6L468.8,557.3L459.8,555.8L451.2,553.6L445.2,551.1L436.2,545.3L428.8,537.2L423.5,529.8L406.3,501.8L404.3,496.2L403.6,489.2L403.8,470.8L405.9,461.2L413.7,441.2L416.1,433.8L418.8,422.2L420.8,416.7L423.2,413.5L428.2,409.1L438.2,403L441.8,401.8L445.8,401.5L467.2,403.7L484.8,406.5L496.2,409.9L503.2,413.5L510.2,418.8L516.6,426.2L521.5,434.8L524.8,442.2L527.4,450.2L529.5,458.8L531.1,468.2L533.3,492.2L533.5,501.2L532.9,514.2L530.5,525.8L528.4,531.8L526,536.2L522.8,540.8L519.3,544.2L514.8,547.5Z"/>
<path fill="rgb(98,168,207)" d="M394.8,344.5L383.2,339.2L368.8,329.4L362.2,323.6L357.8,318.9L353.3,313.2L349.2,306.6L346.5,300.2L344.6,293.8L343.1,284.8L342.1,275.8L341.8,257.2L343.6,246.2L346,238.8L350.2,229.8L357.2,219.3L360.8,215.7L365.8,213.6L379.2,210.1L398.5,206.8L405.8,204.9L412.2,201.8L416.1,198.2L417.2,196.2L417.8,193.8L417.7,190.8L416.9,187.8L414.6,182.8L407,171.2L405.6,167.8L405,164.8L405.1,162.8L406.3,160.2L412.1,153.2L418.8,148L422.8,146L426.2,144.8L436.8,143.9L442.8,144.2L447.2,144.9L452.8,147.1L458,150.8L465.2,157.8L469.4,164.2L469.9,166.8L469.8,169.8L466.4,185.2L465.7,190.2L466,194.2L467.8,198.3L470,201.2L473.4,204.2L490.8,216.8L495.3,221.8L498,226.8L500.3,233.8L501.3,241.2L500.9,252.8L499.2,261.8L495.6,271.8L489.9,281.8L484,289.2L476.2,296.3L467.8,302.5L461.2,306.1L454.2,309.3L438.8,314.6L430.2,319.1L423.9,325.2L414.8,339.2L411.1,342.8L407.8,344.2L404.8,344.8L398.2,344.9ZM865.8,169.1L861.8,170.5L855.8,170.5L851.8,169.1L848.8,166.2L847.1,162.2L846.9,156.8L848.5,152.2L851.2,149.1L855.8,147.3L862.2,147.1L867.2,148.5L870.8,151.4L871.8,153.2L872.4,155.8L872,161.2L869.6,165.8ZM892.2,353.5L888.8,354.3L886.8,354.3L884.8,353.3L882.8,351.1L879.8,346.3L871.9,328.2L867.3,319.8L857.8,305.5L848.2,293.7L843.2,288.6L837.2,283.8L830.2,279.3L815,270.8L807.2,265.1L803,259.8L799,250.8L797.3,242.2L797.3,233.2L798.9,225.2L801.7,219.2L804.8,215.7L810.1,210.8L817.8,204.8L825.8,199.9L840.8,193L852.2,191.2L864.2,191.2L869.8,191.7L894.2,199.4L903.8,203.5L909.8,207.3L915.2,211.9L919.7,216.2L924.8,222.2L933,234.8L936.7,242.8L939.2,249.8L941,256.2L942.7,264.8L943.6,272.2L943.8,280.8L943,289.8L941.6,298.2L939.2,307.5L936.6,314.8L933.2,321.2L929,327.2L925.6,331.2L920.2,336.2L913.8,341.4L908.2,345.1L898.2,351ZM769.2,545.7L764.2,542.7L758.8,538.2L754.8,534.1L750.7,528.8L747.4,523.2L744.9,517.2L743.3,511.8L741.9,504.8L741.2,498.2L741.6,483.2L742.9,473.2L745.4,462.2L747.8,454.8L753.2,442.2L760.8,430.8L770.5,419.8L779.2,412.3L788.8,407L794.2,405.1L801.2,403.4L820.2,400.8L836.2,400.1L844.2,400.8L847.8,401.9L852.8,405.4L857.2,409.4L860.6,413.8L864,419.2L868.9,430.2L870.5,436.2L871.5,443.2L872.2,452.2L872.2,460.8L871.5,470.2L870.1,480.8L866,496.8L859.6,511.2L856.7,515.8L851.4,521.8L839.5,532.8L829.8,539.7L817.8,545.7L804.2,550L791.2,551.3L785.8,551L780.2,549.9L774.2,548ZM506.2,551.1L496.9,554.2L490.2,555.8L481.8,556.8L474.2,557L466.8,556.5L458.8,555L451.2,553L445.2,550.4L436.8,544.9L428.8,536.2L423,527.8L408.5,503.2L407,498.2L406.3,489.8L406.4,469.8L407,462.8L407.9,459.2L414.2,442.2L419.4,424.2L421,420.2L423.8,416.8L429.2,411.7L433.8,408.5L440.2,405.1L444.8,403.5L448.8,403L466.8,404.5L484.2,407.2L496.2,410.7L505.2,415.8L510.8,420.5L516.8,427.9L522.1,437.8L524.6,443.8L527.3,452.2L530.8,469.8L532.2,483.2L533,499.2L532.1,515.2L530.8,522.3L528.9,528.2L526.5,533.8L523.8,538.1L520.7,541.8L517.2,544.8L511.2,548.7Z"/>
<path fill="rgb(91,167,197)" d="M394.8,342.8L383.8,337.9L369.8,328.4L358.8,318.1L354.2,312.5L350,305.8L347.5,300.2L345.5,293.8L343.9,285.2L342.8,275.8L342.4,257.8L344.4,246.2L346.8,238.8L351.1,230.2L357.8,221L361.8,217L367.8,214.3L379.8,210.8L399.3,207.2L406.2,205.4L412.7,202.2L416.7,198.8L417.8,196.8L418.4,194.2L418.3,191.2L417.7,188.2L415.4,183.2L408,171.8L406.8,168.8L406.2,165.8L406.4,163.2L407.4,160.8L412.8,154L419.2,149L426.2,146.1L436.8,145.1L442.8,145.5L447.2,146.2L452.8,148.4L457.8,151.9L463.6,157.8L467.8,164.2L468.4,167.2L468.3,170.8L464.6,190.8L465.1,194.8L466.9,198.8L468.8,201.2L472.1,204.2L489.9,217.2L494.2,222.2L496.9,227.2L499.2,234.2L500.1,241.8L499.8,252.8L497.9,262.2L494.5,271.8L489.2,281.2L483.2,288.8L475.2,296L466.8,302.1L460.2,305.6L453.8,308.6L438.4,313.8L429.9,318.2L423.5,324.2L414.8,336.9L412.3,339.8L410.2,341.3L407.2,342.7L404.2,343.3L398.2,343.3ZM865.8,167.3L862.2,168.7L857.2,168.9L853.2,168L850.2,165.8L848.4,162.2L848,157.8L849.2,153.5L851.8,150.3L855.8,148.5L861.2,148.1L865.9,149.2L869.1,151.8L870.7,155.2L870.6,160.2L868.9,164.2ZM893.2,351.9L889.2,352.8L886.8,352.6L884.8,351.4L882.2,348.6L879.8,344.5L872.3,327.8L867.7,319.2L858.2,305L848.1,292.2L843.8,287.8L837.8,283L815.7,269.8L808.4,264.2L804.4,259.2L800.7,251.2L798.8,242.8L798.7,233.8L800.3,225.8L803.1,219.8L810.5,211.8L818.2,205.6L826.2,200.9L840.8,194.5L852.2,192.7L864.2,192.6L869.2,193.1L892.2,199.8L903.1,204.2L909.2,208.2L918.2,216.1L923.1,221.8L927.2,227.2L931.8,234.8L935.5,242.8L937.9,249.2L939.9,256.2L941.7,264.8L942.6,271.8L942.9,280.2L942.1,289.2L940.8,296.8L938.4,306.2L935.8,313.8L932.4,320.2L928.6,325.8L924.9,330.2L919.6,335.2L909.2,343.2L898.2,349.7ZM770.2,545.1L765.2,542.2L759.7,537.8L755.3,533.2L751.5,528.2L748.2,522.9L745.8,517.2L744,511.8L742.6,504.8L742,498.2L742.3,483.2L743.6,473.8L746.1,462.8L748.5,455.2L753.9,442.8L761.4,431.2L770.8,420.5L779.8,412.9L789.2,407.6L794.8,405.7L801.8,404L819.8,401.6L835.2,401L843.2,401.9L846.8,403L851.8,406.5L856.2,410.4L860,415.2L863.2,420.5L867.6,430.8L869.1,436.8L870.1,443.8L870.7,452.8L870.7,460.8L870,470.8L868.5,481.2L864.4,496.8L857.7,511.8L855.2,515.8L850,521.8L838.3,532.8L829.2,539.2L817.4,545.2L803.8,549.4L791.8,550.6L786.2,550.2L780.8,549.1ZM505.2,550.8L496.2,553.8L489.8,555.3L481.8,556.3L473.8,556.5L466.2,555.9L458.8,554.5L451.8,552.5L445.3,549.8L436.8,544L428.8,535.2L422.7,526.2L409.8,503.2L408.5,498.8L407.7,489.2L407.8,469.8L408.4,462.2L409.4,458.2L414.9,442.8L420.2,425.2L422,421.2L424.8,417.8L430.2,412.7L434.2,410L440.8,406.4L445.8,404.7L449.2,404.2L466.8,405.2L483.8,407.8L495.8,411.4L504.4,416.2L510.3,421.2L516.4,428.8L521.8,438.8L524.4,445.2L526.9,453.2L530.3,470.8L531.7,483.2L532.5,499.2L531.4,515.2L530,522.2L528.1,528.2L525.9,533.2L523,537.8L519.8,541.6L516.2,544.5L510.5,548.2Z"/>
<path fill="rgb(82,166,181)" d="M395.2,340.7L388.2,338L384.2,335.9L371.2,327L359.2,316L354.9,310.8L350.6,304.2L348.2,298.8L346.4,292.8L344.6,283.2L343.6,274.2L343.3,257.8L345.1,247.2L347.5,239.8L352,231.2L358.2,223.1L363.2,218.6L369.2,215.5L380.2,211.8L399.8,208L406.8,206.2L412.9,203.2L417.2,199.6L418.6,197.2L419.2,194.8L419.3,191.8L418.7,188.8L416.3,183.2L409.3,172.2L407.8,167.2L407.9,164.2L408.7,161.8L410.9,158.2L413.8,155L419.8,150.6L426.8,147.8L437.2,146.9L447.2,148L452.8,150.2L457.2,153.4L462.3,158.8L465.8,164.8L466.5,168.2L466.4,172.8L463.7,186.8L463.2,191.2L463.8,195.2L465.4,198.8L467.2,201.3L470.4,204.2L488.1,217.2L491.9,221.8L495.1,227.2L497.5,234.2L498.6,242.2L498.3,252.8L496.5,262.2L493,271.8L488.1,280.8L482.3,288.2L475.2,294.6L465.8,301.3L456.8,306.1L437.7,312.8L429.8,316.9L423.2,322.6L414.2,334.7L411.2,337.8L408.8,339.6L403.8,341.1L398.8,341.2ZM863.2,166.1L860.2,166.8L856.2,166.6L853.2,165.5L851.2,163.8L850,160.8L850.1,156.8L851.3,153.8L853.8,151.3L857.2,150.1L861.8,150L865.2,151.1L867.6,153.2L868.7,156.8L868.3,160.8L866.2,164.2ZM894.2,349.6L890.8,350.6L887.8,350.5L885.2,349.4L882.5,346.8L879.3,341.2L872.6,326.2L865.2,313.6L855.2,299.2L846.2,288.5L837.7,281.2L818.1,269.2L814,266.2L808,260.8L804.4,254.8L801.8,247.2L800.8,240.2L801,232.2L803.1,224.2L807.1,217.8L812.6,211.8L818.8,206.8L826.2,202.5L841.8,196.5L847.8,195.3L854.2,194.7L864.2,194.8L869.8,195.4L892.2,201.4L899.2,204L903.2,206.1L909.2,210.1L915.8,215.7L924.7,226.2L931.6,237.8L935,245.8L938.1,255.2L940.5,266.2L941.5,275.2L941.5,281.2L940.6,290.2L939,298.2L936.6,306.8L934.3,312.8L930.9,319.2L926.4,325.8L923,329.8L916.8,335.6L910.8,340.3L902.2,345.6ZM771.2,544L766.2,541L760.8,536.7L756.7,532.8L752.4,527.2L749.3,522.2L746.7,516.2L745.1,511.2L743.6,504.2L743,498.2L743.4,483.2L744.6,474.2L748.4,459.2L751.2,451.2L754.9,443.2L762.2,432L771.2,421.7L780.2,413.9L789.8,408.5L795.2,406.6L801.8,405L819.8,402.6L834.2,402.3L842.2,403.4L845.8,404.6L850.3,407.8L854.9,411.8L858.5,416.2L861.9,421.8L865.8,431.2L867.4,437.8L868.2,444.2L868.9,460.2L868.1,470.2L866.7,480.8L862.6,496.2L855.9,511.2L853.4,515.2L848.3,521.2L837,532.2L828.8,538.3L816.8,544.5L803.8,548.5L792.2,549.4L787.2,549.1L781.8,548ZM504.2,550.1L495.8,553L489.2,554.5L481.8,555.5L474.2,555.8L466.2,555.1L459.2,553.8L452.2,551.7L446.2,549.2L437.4,543.2L429.1,534.2L422.6,524.2L411.9,503.8L410.5,499.2L409.7,492.2L409.6,472.2L410.4,461.8L412.4,454.2L420.5,429.2L423.5,422.2L426.8,418.4L431.8,413.9L441.2,408.3L445.8,406.6L449.8,405.9L466.8,406.4L483.2,408.7L495.2,412.4L504.3,417.8L510.8,423.6L516.8,431.6L521.7,441.2L524.5,448.8L526.7,456.2L528.8,466.2L530.2,475.8L531.7,499.2L530.5,515.2L529.1,521.8L527.1,527.8L524.8,532.8L521.8,537.2L518.8,540.8L515.2,543.8L509.8,547.4Z"/>
<path fill="rgb(73,165,165)" d="M395.2,339L388.8,336.6L384.8,334.6L371.8,325.6L358.8,313.6L354.1,307.8L351.3,303.2L348.8,297.8L346.9,291.2L345.4,282.8L344.3,272.8L344.1,257.8L345.9,247.2L348.5,239.8L353.2,231.2L359.2,223.9L364.8,219.4L370.2,216.4L380.8,212.6L399.9,208.8L407.8,206.7L414.3,203.2L418.2,199.8L419.3,197.8L419.9,195.2L420,191.8L419.5,188.8L417.1,183.2L410.5,172.8L408.9,167.8L409.1,164.8L409.9,162.2L412.1,158.8L414.7,155.8L420.8,151.5L427.8,149.1L437.8,148.2L447.2,149.5L452.2,151.4L456.8,154.6L461,159.2L464.1,164.8L464.9,168.8L465,173.2L462.5,186.8L462.1,191.8L462.8,195.7L464.2,198.9L466.3,201.8L469.5,204.8L482.2,213.7L487.1,217.8L490.8,222.2L493.9,227.8L496.4,235.2L497.4,242.8L497.2,252.8L495.3,262.2L491.9,271.8L487.2,280.2L481.5,287.8L474.2,294.2L465.2,300.5L455.8,305.5L437.6,311.8L429.6,315.8L423.6,320.8L420.2,324.6L413.8,333.4L408.2,338.1L405.8,339.1L402.8,339.6L398.2,339.6ZM864.2,162.8L862.2,164L859.8,164.5L856.8,164.3L854.2,163.2L852.8,161.6L852.2,159.2L852.5,156.8L853.5,154.8L855.2,153.2L858.2,152.2L861.3,152.2L864.2,153.3L865.9,155.2L866.4,157.8L865.8,160.8ZM896.8,347L892.8,348.5L889.2,349L886.2,348.2L883.8,346.4L880.6,341.8L873.8,326.8L869.2,318.5L859.8,303.8L851.2,292.5L845.8,286.4L839.7,281.2L815.8,265.6L810.1,260.2L806.6,254.8L803.9,247.8L802.7,240.2L802.9,232.8L804.6,225.8L808.3,218.8L812.9,213.2L818.8,208.2L825.8,204.1L841.2,198.5L853.8,196.6L863.8,196.6L868.8,197.1L884.2,200.4L890.2,202.1L901.8,206.7L908.2,211L913.8,215.6L921.9,224.8L929.6,236.8L933.1,244.8L936.2,253.8L938.6,263.2L940,271.2L940.5,279.2L939.9,286.2L938.6,294.2L936.5,302.2L933.5,310.8L930.5,316.8L927.5,321.8L922.9,327.8L916.8,333.8L910.8,338.7ZM772.2,542.9L766.8,539.6L761.3,535.2L757.3,531.2L753.2,526.1L750.2,521.2L747.6,515.2L744.6,503.8L744,497.2L744.2,486.8L745.6,474.8L749.4,459.8L752.1,452.2L756,443.8L763.5,432.2L772.2,422.2L781.2,414.6L790.8,409.2L795.8,407.4L802.2,405.9L820.2,403.6L833.8,403.5L840.6,404.8L844.8,406.1L849.2,409.2L853.8,413.1L857.2,417.6L860.4,422.8L864.3,432.2L866.5,444.8L867.1,460.2L866.3,470.2L864.9,480.8L861.1,495.2L854.4,510.2L852,514.2L847.2,520.2L836.2,531.4L828.2,537.5L816.8,543.6L804.2,547.5L793.2,548.4L788.2,548L782.8,546.8ZM503.2,549.4L495.8,552.1L489.2,553.7L482.8,554.6L474.8,555.1L467.2,554.5L460.8,553.3L453.8,551.4L447.8,548.9L443.8,546.7L438.3,542.8L430.2,534.3L423.5,524.2L415.6,508.2L412.4,499.8L411.4,490.2L411.5,469.8L412.2,461.8L414.1,453.8L420.9,432.2L424.8,423.6L427.8,420L432.8,415.4L442.2,409.8L446.8,408.2L450.8,407.5L466.8,407.5L482.8,409.6L494.8,413.5L498.8,415.5L503.8,418.9L510.1,424.8L516.1,432.8L521.2,442.8L523.9,449.8L526,457.2L528.1,466.8L529.5,476.8L531,499.2L529.6,514.8L528.2,521.2L526.1,527.2L523.8,532.2L521,536.2L517.8,540.1L514.2,543L508.7,546.8Z"/>
<path fill="rgb(66,166,151)" d="M395.8,338.1L385.8,333.9L380.8,330.9L372.8,325L359.3,312.8L354.5,306.8L352,302.8L349.5,297.2L347.6,290.8L346,281.8L345,272.2L344.8,257.8L346.5,247.8L349.3,239.8L353.9,231.8L359.8,224.8L365.8,220L370.8,217.2L380.8,213.4L400.6,209.2L408.1,207.2L414.9,203.8L418.7,200.2L419.9,198.2L420.6,195.8L420.8,191.8L420.3,188.8L417.9,183.2L411.3,172.8L409.9,168.2L410,165.8L410.9,162.8L413,159.2L415.2,156.7L421.2,152.5L428.2,150.1L438.2,149.3L447.2,150.6L452.2,152.6L456.2,155.6L460,159.8L463,165.2L463.8,169.2L463.9,173.2L461.6,186.2L461.3,191.8L461.8,195.4L463.2,198.9L465.2,201.8L468.3,204.8L481.8,214.3L486.5,218.2L490.1,222.8L493.1,228.2L495.4,235.2L496.5,242.8L496.4,252.2L494.4,262.2L491,271.8L486.6,279.8L480.9,287.2L474.2,293.2L464.8,299.8L455.8,304.6L436.6,311.2L428.9,315.2L424.8,318.5L421.2,322.1L412.6,333.2L407.8,337.1L402.8,338.6ZM862.1,158.8L860.8,160.2L858.8,160.6L856.8,159.8L856.4,158.2L857.2,156.7L859.8,156L861.8,156.8ZM896.2,346L892.2,347.4L889.2,347.7L886.2,346.9L884,345.2L881,340.8L874.8,326.9L869.8,317.8L860.7,303.8L851.8,291.7L846.2,285.6L840,280.2L816.8,264.9L811.1,259.2L807.9,254.2L805.1,246.8L804,239.8L804.3,232.8L805.9,226.2L809.4,219.2L813.8,213.8L819.2,209L825.8,205.1L832.2,202.5L841.8,199.6L854.2,197.9L863.2,197.9L868.8,198.5L883.8,201.4L889.8,203L901.2,207.7L907.8,212L913.2,216.6L921,225.2L928.4,236.8L932.1,245.2L935,253.8L937.5,263.2L939,271.2L939.5,277.8L939.4,282.2L938.2,291.2L935.9,300.2L933.4,307.8L931,313.2L927.7,319.2L922.2,326.8L916.2,332.8L910.2,337.7ZM773.8,542.1L768.2,538.9L763.2,535.1L758.8,530.9L754.6,525.8L751.3,520.8L748.6,514.8L745.7,503.8L745,497.8L745.1,486.8L746.5,475.2L750.2,460.8L753,452.8L757,444.2L764,433.2L772.2,423.7L781.8,415.5L791.2,410L796.2,408.2L802.8,406.7L820.2,404.6L833.2,404.7L838.2,405.7L843.8,407.6L848.2,410.6L852.4,414.2L855.8,418.5L859,423.8L862.6,432.8L864.8,445.2L865.4,459.8L864.6,469.8L863.2,480.2L859.4,494.8L853,509.2L850.6,513.2L845.3,520.2L835.4,530.8L827.2,537.1L816.2,543L804.2,546.6L793.8,547.4L784.2,546ZM496.2,551.1L484.8,553.7L477.2,554.4L472.2,554.3L465.2,553.5L458.8,552.1L452.8,550.2L446.8,547.5L437.9,541.2L429.7,532.2L423.6,522.8L416.6,507.2L414.5,500.8L413.6,495.8L413.1,489.2L413.1,472.2L414,461.2L418,444.2L422.6,431.2L427.1,423.2L430.8,419.4L434.8,416.1L444.2,410.8L448.2,409.6L453.2,408.9L467.8,408.5L482.8,410.6L488.8,412.3L495.2,414.9L504.2,420.8L511.2,427.8L516.9,436.2L522.4,448.2L524.9,456.2L527.1,465.8L529.6,483.8L530.2,500.8L529.5,509.8L527.9,518.8L526,524.8L523.6,530.2L521.1,534.2L517,539.2L513.2,542.4L507.2,546.5Z"/>
<path fill="rgb(61,167,138)" d="M396.2,337.3L389.8,335L385.8,333L373.2,324.4L359.8,312.2L355.4,306.8L352.5,302.2L350.1,296.8L348.3,290.8L346.7,281.8L345.6,272.2L345.5,257.8L347.1,248.2L349.8,240.2L354.4,232.2L360.2,225.4L366.2,220.7L371.8,217.5L381.2,213.9L401,209.8L408.4,207.8L415.2,204.3L419.2,200.8L421.1,196.2L421.4,191.8L421.1,188.8L418.8,183.2L412.2,172.8L410.8,168.2L410.9,165.8L411.7,163.2L415.8,157.5L421.2,153.6L428.8,151L437.8,150.2L446.8,151.5L451.8,153.4L455.8,156.4L459.5,160.8L462.1,165.8L462.9,169.8L463,173.2L460.7,185.8L460.5,191.8L461.1,195.8L462.6,199.2L464.8,202.3L467.8,205.2L481.2,214.8L486,218.8L489.5,223.2L492.5,228.8L494.9,236.2L495.8,243.2L495.6,252.8L493.5,262.8L490,272.2L485.7,279.8L480.4,286.8L473.8,292.7L464.2,299.3L455.2,304.1L436,310.8L428.3,314.8L422.8,319.4L419.2,323.3L412.8,332L407.8,336.2L405.2,337.3L402.8,337.8ZM896.2,344.9L892.2,346.4L889.2,346.8L886.8,346.2L884.2,344.4L881.6,340.2L875.2,326.3L870.2,317.3L861.2,303.2L852.4,291.2L846.8,285L840.6,279.8L817.8,264.5L812.4,259.2L809.1,254.2L806.3,247.2L805,239.8L805.2,233.8L806.8,226.8L810.2,219.8L814,214.8L819.2,209.9L825.8,206L831.8,203.5L841.2,200.6L854.2,198.8L863.2,198.9L868.8,199.5L883.2,202.1L889.8,203.9L900.8,208.4L907.2,212.7L912.8,217.3L919.9,225.2L927.7,237.2L931.4,245.8L934.4,254.8L938.2,271.2L938.8,278.2L938.5,282.8L937.4,290.8L935,300.2L930.5,312.2L926.9,318.8L921.5,326.2L915.5,332.2L909.8,336.9ZM778.8,543L773.2,540.4L768.2,537.4L763.2,533.5L758.8,529.1L754.9,524.2L752,519.8L749.1,513.2L747.5,507.8L745.9,497.8L746,486.2L746.7,479.8L750.4,463.2L756.1,448.2L758.9,442.8L762.4,437.2L771.1,426.2L776.7,420.8L781.8,416.6L791.2,410.9L796.2,409.1L802.8,407.5L819.8,405.5L832.2,405.7L836.8,406.6L842.2,408.5L846.2,411L850.7,414.8L856,421.8L858.5,426.2L860.5,431.2L863,442.8L863.9,458.2L862.4,475.8L861,483.2L858.6,492.2L854,503.8L848.8,513.2L844.1,519.8L839,525.8L829.1,534.8L818.8,541L808.2,544.9L799.2,546.5L793.8,546.6L789.2,546.1ZM494.2,551L483.8,553.2L476.8,553.8L471.8,553.7L465.2,552.9L458.8,551.5L452.8,549.5L446.8,546.7L438,540.2L429.9,531.2L424,521.8L418.1,508.2L416.1,501.2L415.1,495.8L414.6,489.2L414.6,473.2L415.6,460.2L419,444.2L423.4,432.2L428.3,424.2L431.8,420.6L436.2,416.9L445.2,412.1L455.2,409.9L467.8,409.5L482.8,411.5L488.2,413.2L495.2,416L504.2,422.2L510.6,428.8L516.6,437.8L522,449.8L524.2,456.8L526.5,466.8L528.9,484.2L529.5,500.8L528.8,509.8L527,518.8L525,524.8L522.5,530.2L519.5,534.8L515.8,539L511.2,542.7L505.8,546.3Z"/>
<path fill="rgb(56,168,125)" d="M396.2,336.6L390.2,334.5L386.2,332.5L381.2,329.4L373.2,323.5L360.2,311.7L355.8,306.2L353,301.8L350.6,296.2L348.9,290.2L347.3,281.8L346.2,271.8L346.1,257.8L347.7,248.2L350.5,240.2L355.2,232.2L360.8,225.8L367.2,220.8L372.2,218L381.8,214.4L401.1,210.2L408.8,208.2L415.6,204.8L419.5,201.2L421.7,196.8L421.9,188.8L419.6,183.2L413,172.8L411.6,168.2L411.8,165.8L412.7,163.2L416.2,158.2L421.8,154.3L429.2,151.7L437.8,150.9L446.2,152.2L451.2,154.2L454.9,156.8L458.5,160.8L461.1,165.8L462,169.8L462.1,173.2L460,185.2L459.9,191.8L460.4,195.8L461.9,199.2L464.2,202.7L467.2,205.6L480.8,215.2L485.6,219.2L489.1,223.8L491.9,229.2L494.1,235.8L495.1,243.2L495,252.2L493,262.2L489.5,271.8L485.6,278.8L480,286.2L473.8,291.9L463.8,298.9L454.8,303.6L436.8,309.8L428.2,314L422.5,318.8L418.8,322.9L412.1,331.8L407.2,335.7L402.8,337.1ZM895.8,344.3L892.2,345.6L889.2,346L886.8,345.3L884.8,343.9L882,339.8L875.8,325.9L870.8,316.9L861.8,302.8L853.2,291.2L847.2,284.5L841.2,279.2L823.8,267.9L817.8,263.5L812.6,258.2L809.5,253.2L807,246.8L805.8,239.8L806,233.8L807.5,227.2L811.1,219.8L815,214.8L819.8,210.4L826.2,206.4L832.2,204L841.2,201.4L854.8,199.6L862.8,199.7L868.8,200.3L883.2,202.9L889.2,204.5L900.2,208.9L906.8,213.2L912.2,217.8L920.5,227.2L927.1,237.8L930.6,245.8L933.6,254.8L936.1,264.2L937.5,271.8L938.1,278.2L937.9,282.2L936.7,290.8L934.5,299.2L932,306.8L929.6,312.2L926,318.8L920.8,325.9L915,331.8L909.2,336.4ZM780.2,542.6L774.8,540.1L769.2,536.9L764.2,533L759.8,528.7L753.1,519.8L750,513.2L748.4,508.2L747.2,502.2L746.7,497.8L746.8,486.8L747.4,480.2L751.2,463.8L756.6,449.2L759.6,443.2L763,437.8L771.7,426.8L777.2,421.3L782.2,417.3L791.8,411.6L796.2,409.9L802.8,408.3L819.8,406.3L831.8,406.5L836.2,407.5L841.2,409.3L844.8,411.4L849.2,415L854.6,421.8L857.2,426.2L859.1,430.8L861.6,441.8L862.8,457.2L861.4,473.8L858.5,488.2L856.5,494.8L853.6,501.8L848.1,512.2L843.6,518.8L838.7,524.8L829.1,533.8L819.2,539.9L810.8,543.5L804.8,545.1L799.8,545.8L790.2,545.4ZM492.2,550.9L485.2,552.4L478.2,553.2L467.8,552.7L456.2,550.1L446.8,545.9L438.2,539.5L433.6,534.8L430,530.2L424.5,521.2L419,507.8L416.9,499.8L415.9,491.8L415.7,472.8L417,458.2L420.4,442.8L424.5,432.2L429.8,424.2L433.2,420.8L437.2,417.7L442.8,414.5L446.8,412.9L456.2,410.8L468.2,410.3L475.8,411.1L482.8,412.3L488.2,414L495.2,417L504.7,423.8L511.1,430.8L517,440.2L522.1,452.2L526.5,470.2L528.2,482.8L528.9,492.8L528.9,499.8L528.3,507.8L525.9,519.8L523.9,525.2L521.5,530.2L518.4,534.8L514.8,538.8L508.8,543.6L504.8,546.1Z"/>
<path fill="rgb(51,170,112)" d="M396.2,336L389.8,333.6L385.8,331.5L373.8,323.1L360.8,311.4L356.2,305.8L353.7,301.8L351.4,296.8L349.5,290.2L347.9,281.8L346.7,271.8L346.6,258.2L348.2,248.8L350.9,240.8L355.5,232.8L361.2,226.2L367.8,221.2L372.2,218.7L381.8,215L408.6,208.8L414.8,205.9L418.8,203L420.8,200.5L422,197.8L422.7,188.8L420.5,183.2L414.8,174.3L413,170.8L412.5,167.2L413.6,163.2L415.8,160L418.2,157.5L421.8,155.2L426.2,153.3L430.8,152.2L435.8,151.7L440.2,151.8L445.2,152.8L450.2,154.6L454.2,157.3L457.8,161.2L460.4,166.2L461.2,169.8L461.3,173.2L459.1,186.8L459.5,194.8L461.5,199.8L464,203.2L467.1,206.2L480.2,215.5L484.8,219.3L488,223.2L491.1,228.8L493.5,235.8L494.5,243.2L494.3,252.2L492.5,261.8L489.1,271.2L484.9,278.8L479.7,285.8L473.2,291.5L463.8,298.2L454.8,303L436.4,309.2L428.2,313.3L422.1,318.2L418.1,322.8L411.8,331.2L407.2,334.9L402.8,336.4ZM895.8,343.6L892.2,344.9L889.8,345.3L887.2,344.8L885.1,343.2L882.5,339.2L876.3,325.8L871.2,316.6L861.8,301.8L853.2,290.3L847.8,284.1L841.2,278.5L818.5,263.2L813.5,258.2L810.5,253.8L807.9,247.2L806.6,240.2L806.7,234.2L808.1,227.8L811.6,220.2L815.2,215.4L820.2,210.8L826.2,207.1L832.2,204.6L841.2,202L854.8,200.2L862.8,200.3L868.2,200.9L882.8,203.5L888.8,205.1L899.8,209.4L906.2,213.7L910.8,217.3L918.2,225.2L922.5,231.2L926.4,237.8L930,246.2L933.1,255.2L936.8,271.8L937.4,278.2L937.2,282.2L936,290.8L934,298.8L931.7,305.8L929.1,311.8L925.5,318.2L920.2,325.5L914.8,331L909.2,335.6ZM780.8,542L775.2,539.5L769.8,536.2L764.8,532.3L760.2,528L753.7,519.2L750.6,512.8L749.1,507.8L747.4,497.8L747.5,486.8L748.1,480.8L749.4,473.8L752,463.8L757,450.2L762.6,439.8L767.2,433.2L771.8,427.7L777.2,422.3L782.2,418.2L791.8,412.4L796.2,410.6L802.8,409L819.8,407L830.8,407.2L835.2,408.1L840.2,409.9L843.8,411.9L848.2,415.4L853.5,421.8L856.1,426.2L858,430.8L860.6,441.2L861.9,456.8L860.6,473.2L859.4,480.2L857.5,488.2L853,500.8L847.3,511.8L842.5,518.8L838.1,524.2L828.8,533.2L819.8,538.9L811.2,542.7L804.8,544.5L800.2,545.2L790.8,544.8ZM489.8,551L483.8,552.1L476.8,552.7L466.8,552L456.2,549.5L446.8,545.1L438.2,538.6L434,534.2L430.5,529.8L426.6,523.8L424.1,518.8L419.7,507.2L417.9,499.8L416.8,491.2L416.7,472.8L418.2,456.8L421.5,441.8L425.5,432.2L428.3,427.8L431.6,423.8L438.8,417.9L443.8,415.1L448.2,413.4L458.8,411.4L466.2,411L473.8,411.5L484.2,413.5L495.2,417.9L500.8,421.6L505.2,425.2L512,433.2L517.9,443.8L522.4,455.8L525.1,466.2L526.5,474.2L528.3,493.2L527.7,507.8L526.4,515.2L524.9,520.8L522.5,526.8L520,531.2L516.2,536.2L513.2,539.2L503.8,545.9L496.2,549.1Z"/>
<path fill="rgb(49,171,104)" d="M396.8,335.5L390.8,333.4L382.2,328.7L374.2,322.8L361.2,311.1L356.9,305.8L354.2,301.6L352,296.8L350,290.2L348.4,281.2L347.3,271.8L347.1,258.2L348.8,248.8L351.5,240.8L355.9,233.2L361.8,226.5L368.2,221.6L372.8,219.1L381.8,215.6L408.8,209.2L415.2,206.2L419.3,203.2L421.3,200.8L422.6,197.8L423.5,188.8L421.2,182.8L415.8,174.3L413.9,170.8L413.3,167.2L414.4,163.8L416.3,160.8L418.8,158.2L422.2,155.9L426.8,154L430.8,152.9L435.8,152.4L440.2,152.5L444.8,153.4L449.7,155.2L453.5,157.8L457.1,161.8L459.5,166.2L460.3,169.8L460.4,173.2L458.3,186.2L459.1,195.2L461.1,200.2L463.7,203.8L466.8,206.7L480.2,216.2L484.4,219.8L487.7,223.8L490.4,228.8L492.9,235.8L493.9,243.2L493.8,251.8L492,261.2L488.7,270.8L484.8,277.9L479.2,285.4L473.2,290.8L463.2,297.8L454.2,302.6L436.2,308.8L427.8,313L421.8,317.8L417.8,322.3L411.4,330.8L406.8,334.5L402.2,335.9ZM895.8,342.9L892.8,344.1L889.8,344.7L887.2,344.1L885.5,342.8L883.1,339.2L876.8,325.3L871.7,316.2L862.5,301.8L853.8,289.9L848.2,283.8L841.8,278.1L818.9,262.8L813.9,257.8L811,253.2L808.4,246.8L807.2,239.8L807.3,234.2L808.8,227.8L812,220.8L815.7,215.8L820.5,211.2L826.8,207.4L832.2,205.1L841.2,202.5L854.8,200.8L862.8,200.9L868.2,201.6L882.8,204.1L889.2,205.9L899.8,210.1L906.2,214.4L911.4,218.8L918.9,227.2L925.9,238.2L929.4,246.2L932.4,255.2L936.2,271.8L936.8,278.2L936.7,281.8L935.5,290.2L933.5,298.2L931.2,305.2L928.6,311.2L925.1,317.8L919.8,325.1L914.2,330.7L908.8,335.2ZM781.8,541.6L775.8,538.9L770.8,536L765.8,532.2L761,527.8L754.5,519.2L751.6,513.2L749.9,508.2L748.1,498.2L748.1,487.2L748.6,481.8L749.9,474.8L752.4,464.8L757.5,450.8L763.1,440.2L767.6,433.8L772.2,428.2L777.7,422.8L782.8,418.6L791.8,413.1L796.8,411.1L802.8,409.7L819.8,407.6L830.8,407.9L835.2,408.8L839.8,410.5L843.2,412.5L847.8,416L852.8,422.2L855.4,426.8L857.4,431.2L859.9,441.8L861.1,456.2L859.9,472.2L857.1,486.8L855.1,493.2L852.5,499.8L847,510.8L838.4,522.8L830,531.2L821.8,537.1L812.2,541.7L801.2,544.5L791.8,544.4ZM489.2,550.6L483.8,551.7L476.8,552.3L466.8,551.5L456.2,548.9L446.8,544.4L438.8,538.2L434.4,533.8L430.9,529.2L427.3,523.8L424.6,518.2L420.4,507.2L418.6,499.2L417.6,490.8L417.4,473.2L418.9,456.8L422.1,442.2L426,432.8L428.9,428.2L432.2,424.2L439.2,418.5L444.2,415.8L448.8,414.1L459.2,412.1L466.2,411.6L473.8,412.2L484.8,414.4L495.2,418.7L504.8,425.8L511.8,434.2L517.6,444.8L521.9,456.2L524.5,466.8L526,474.8L527.7,493.8L527,508.2L525.6,515.8L524,521.2L521.5,527.2L519.2,531.2L515.3,536.2L512.2,539.2L503.2,545.5L495.2,548.9Z"/>
<path fill="rgb(47,173,98)" d="M396.8,334.9L390.8,332.8L386.8,330.7L374.5,322.2L361.7,310.8L357.3,305.2L354.7,301.2L352.4,296.2L350.5,289.8L347.8,271.8L347.7,258.2L349.2,249.2L351.9,241.2L356.2,233.7L361.8,227.2L368.3,222.2L372.8,219.7L381.8,216.2L409.2,209.5L415.8,206.5L419.8,203.6L421.8,201L423,198.2L424.3,188.2L422,182.2L416.8,174.2L414.8,170.3L414.3,167.2L415.2,164.2L417.2,161L419.6,158.8L422.8,156.7L427.2,154.7L431.2,153.6L435.2,153.1L439.2,153.1L443.8,153.9L448.7,155.8L452.6,158.2L455.9,161.8L458.5,166.2L459.3,169.8L459.5,173.2L457.4,186.2L458.6,195.8L460.8,200.7L462.9,203.8L466.2,207L479.8,216.5L484.1,220.2L487.3,224.2L490,229.2L492.4,236.2L493.4,243.2L493.3,251.8L491.5,261.2L488.1,270.8L484.2,277.8L478.8,285.1L472.8,290.5L463.2,297.2L454.2,302L435.8,308.3L427.2,312.6L421.2,317.5L417.2,322L411.1,330.2L406.8,333.9L402.2,335.3ZM895.2,342.5L892.2,343.7L889.8,344L887.8,343.6L885.8,342.2L883.5,338.8L877.4,325.2L872.2,316L863.2,301.8L854.3,289.8L848.5,283.2L842.2,277.8L819.2,262.3L814.3,257.2L811.4,252.8L808.9,246.2L807.7,239.2L808,233.8L809.4,227.8L812.7,220.8L816.4,215.8L821.2,211.3L827.2,207.7L832.8,205.4L841.8,202.9L854.8,201.3L862.2,201.4L867.8,202.1L882.8,204.7L888.8,206.3L899.2,210.5L905.7,214.8L910.5,218.8L917.5,226.2L925.3,238.2L928.7,246.2L931.8,255.2L935.7,271.8L936.3,278.2L936.1,281.8L935,289.8L933,297.8L928.2,310.8L924.7,317.2L919.3,324.8L913.8,330.3L908.2,334.8ZM781.8,541L775.8,538.2L770.8,535.2L761.5,527.2L755,518.8L752.1,512.8L750.5,507.8L748.7,497.8L748.7,487.2L749.4,481.2L753.1,464.8L758,451.2L763.5,440.8L768,434.2L772.5,428.8L777.8,423.5L783.2,419L792.2,413.5L796.8,411.8L803.2,410.2L819.8,408.3L830.8,408.6L834.8,409.4L839.2,411.1L842.8,413L846.8,416.1L852,422.2L854.6,426.8L856.6,431.2L859.2,441.8L860.4,456.2L859.2,472.2L856.5,486.2L854.5,492.8L852,499.2L846.5,510.2L838.3,521.8L829.8,530.6L821.8,536.4L812.2,541.2L801.2,544L791.8,543.8ZM488.2,550.4L476.2,551.8L466.8,551.1L456.2,548.4L447.2,544.1L438.8,537.4L431.3,528.8L427.8,523.2L425,517.8L421,506.8L419.1,498.2L418.2,490.2L418.1,473.2L419.7,456.2L422.9,441.8L427.1,432.2L429.8,428.2L433.2,424.2L436.8,421.1L440.8,418.4L445.2,416.1L449.8,414.6L456.8,413L464.8,412.3L474.2,412.9L484.8,415.1L495.2,419.5L504.7,426.8L511.4,434.8L517.2,445.2L521.6,457.2L524,467.2L525.5,475.8L527.2,494.2L526.4,508.2L525,515.8L523.4,521.2L521,526.8L518.4,531.2L514.5,536.2L511.2,539.3L506.2,543.1L502.2,545.5L494.8,548.6Z"/>
<path fill="rgb(45,175,91)" d="M396.8,334.3L390.8,332.1L386.2,329.8L374.7,321.8L362,310.2L355.2,301.1L353,296.2L351.1,289.8L349.5,281.2L348.4,271.8L348.2,258.2L349.8,249.3L352.3,241.8L356.9,233.8L362.6,227.2L368.8,222.6L373.2,220.1L382.2,216.6L409.8,209.7L416.3,206.8L420.2,203.8L422.2,201.3L423.4,198.8L425.4,187.8L423,181.8L416.2,170.8L415.5,167.8L416.2,164.8L417.8,162.2L420.1,159.8L423.8,157.2L427.9,155.2L435.2,153.7L442.8,154.4L447.2,156L451.5,158.8L454.9,162.2L457.2,166.3L458.2,169.8L458.3,173.2L456.3,185.8L457.3,189.8L458.1,196.2L460.4,201.2L462.6,204.2L465.8,207.2L479.2,216.8L483.3,220.2L486.3,223.8L489.2,228.9L491.8,236L492.8,243.2L492.7,251.8L491,260.8L487.8,270L483.8,277.2L478.3,284.8L472.8,289.8L462.9,296.8L454.2,301.3L435.2,307.9L427.2,312L420.8,317.2L410.7,329.8L406.2,333.5L402.2,334.8ZM895.2,341.8L892.2,343L889.8,343.4L887.8,342.9L886.2,341.8L884.2,338.8L878,325.2L872.7,315.8L863.5,301.2L854.8,289.4L848.9,282.8L842.2,277L819.8,261.9L815.1,257.2L812,252.8L809.5,246.2L808.4,239.8L808.5,234.2L809.8,228.2L813.1,221.2L816.7,216.2L821.2,211.9L827.2,208.1L832.8,205.9L841.8,203.3L855.2,201.8L867.8,202.6L882.6,205.2L888.8,206.9L899.2,211.2L905.2,215.2L910.2,219.3L917.2,226.9L924.9,238.8L928.3,246.8L931.2,255.5L935.1,271.8L935.7,278.2L935.5,281.8L934.4,289.8L932.4,297.8L930.1,304.8L927.6,310.8L924.2,316.8L918.9,324.2L913.5,329.8L908,334.2ZM782.2,540.6L776.2,537.8L771.2,534.9L766.6,531.2L761.9,526.8L755.5,518.2L752.6,512.2L751.1,507.8L749.3,497.8L749.3,487.8L749.9,481.8L751,475.2L753.6,465.2L758.6,451.2L764.2,440.8L772.8,429.2L778.2,423.9L783.2,419.8L792.2,414.2L796.8,412.4L802.8,410.9L819.8,408.9L830.2,409.1L834.8,410.1L838.8,411.6L842.2,413.5L846.2,416.5L848.9,419.2L851.5,422.8L854.1,427.2L856.1,431.8L858.5,441.8L859.7,456.2L858.6,471.8L855.9,485.8L854,492.2L851.5,498.8L846,509.8L837.9,521.2L829.3,530.2L821.2,536.1L812.2,540.6L805.8,542.6L801.2,543.5L791.8,543.3ZM488.2,550L476.2,551.4L466.8,550.6L456.2,547.9L447.2,543.5L438.8,536.8L431.6,528.2L428.1,522.8L425.5,517.2L421.5,506.2L419.8,498.2L418.9,490.2L418.8,473.2L420.3,456.2L423.4,442.2L427.6,432.8L430.2,428.7L433.6,424.8L437.2,421.6L441.2,418.9L445.2,416.8L450.2,415.1L457.2,413.6L464.8,412.9L473.8,413.4L484.2,415.6L494.8,419.9L504.2,427.1L511,435.2L516.7,445.8L521.1,457.8L523.5,467.8L524.9,475.8L526.6,494.2L525.9,507.8L524.5,515.2L522.9,520.8L520.6,526.2L518.1,530.8L514.2,535.8L510.8,539L502.2,544.9L494.8,548.1Z"/>
<path fill="rgb(44,176,84)" d="M397.2,333.8L388.2,330.2L383.2,327.3L375.7,321.8L362.8,310.2L358.3,304.8L355.8,300.8L353.6,296.2L351.8,290.2L349.2,274.4L348.7,268.8L348.7,259.2L350.2,249.8L352.8,242.2L357.2,234.3L362.8,227.9L368.9,223.2L373.3,220.8L382.2,217.2L410.2,210L416.8,207.1L420.8,204.1L422.6,201.8L423.9,199.2L425.1,192.2L427.2,186.8L424.9,180.8L418.2,170.1L417.7,167.8L418.2,165.5L420.3,162.2L422.6,159.8L428.2,156L434.8,154.4L438.8,154.4L442.2,155L446.2,156.5L449.5,158.8L452.8,162.8L455.2,167.1L456.2,172.8L454.3,184.8L456.5,189.2L457.7,196.8L459.7,201.2L461.9,204.2L465.2,207.5L478.8,217.2L483,220.8L485.9,224.2L488.8,229.2L491.2,236.2L492.2,243.2L492.2,251.2L490.5,260.2L487.2,269.7L483.8,276.3L478.2,284L472.5,289.2L462.6,296.2L453.8,300.9L436.2,306.9L428.2,310.6L420.4,316.8L410.4,329.2L407.2,332.1L405.2,333.4L402.8,334.1ZM895,341.2L892.2,342.4L889.8,342.8L887.8,342.2L886.1,340.8L884.3,337.8L877.9,323.8L869.5,309.2L858.9,293.8L850.6,283.8L841.5,275.8L820.4,261.8L815.4,256.8L812.5,252.2L810,245.8L808.9,239.2L809.1,233.8L810.6,227.8L813.7,221.2L817.3,216.2L821.8,212.1L827.8,208.4L833.2,206.1L841.8,203.7L855.2,202.2L867.8,203.1L882.2,205.8L888.8,207.5L899.1,211.8L905.1,215.8L909.9,219.8L916.8,227.3L924.2,238.9L927.8,246.9L930.7,255.8L934.4,271.2L935,280.8L934,288.8L932.2,296.2L929.9,303.8L927.2,310.1L923.8,316.5L918.6,323.8L913.2,329.2L907.8,333.7ZM783.2,540.5L776.8,537.5L771.8,534.5L762.8,526.8L756.2,518.2L753.5,512.8L751.9,508.2L750,498.2L750.2,483.8L751.4,476.2L753.6,467.2L758.6,452.8L764.2,441.8L769,434.8L773.1,429.8L778.2,424.6L783.2,420.5L791.8,415.1L796.8,413L802.8,411.5L819.2,409.5L829.8,409.7L833.8,410.4L837.8,411.9L841.2,413.6L845.2,416.5L848.1,419.2L850.7,422.8L853.4,427.2L855.4,431.8L857.9,441.8L859.1,456.2L857.9,471.8L855.2,485.8L851,498.2L845.5,509.2L838.7,519.2L830,528.8L821.8,535.1L812.2,540.1L801.8,542.9L792.2,542.9ZM489.2,549.3L483.2,550.5L476.8,551L467.8,550.3L457.2,547.7L448.2,543.5L440.1,537.2L432.6,528.8L427.5,520.2L425,514.8L422.4,507.2L420.6,499.2L419.5,490.2L419.4,473.8L420.9,456.8L423.7,443.2L427.7,433.8L433.5,425.8L440.8,419.9L445.2,417.5L449.8,415.9L456.8,414.3L464.2,413.6L473.8,414L483.8,416L494.2,420.3L503.8,427.5L510.2,435.2L515.8,445.2L520.2,456.8L522.8,467.2L524.3,475.2L526.1,494.2L525.3,507.8L524,514.8L522.5,520.2L520.2,525.8L517.7,530.2L514.2,534.9L510.9,538.2L502.2,544.4L495.2,547.5Z"/>
<path fill="rgb(42,178,78)" d="M446.3,173.8L442.8,176.1L438.8,177.2L432.8,177.1L428.2,175.4L425.3,172.8L423.2,168.8L422.8,164.2L423.9,160.8L425.5,158.8L427.5,157.2L430.2,156L433.2,155.2L440.2,155.2L445.8,157.2L448.9,160.2L450.2,164.8L449.2,169.8ZM390.8,330.8L384.4,327.2L376.8,321.8L365.2,311.8L358.7,304.2L354.7,297.2L352.8,291.8L351.5,285.8L349.3,268.2L349.8,255.5L351.1,248.8L353.2,242.6L357.2,235.4L361.8,229.8L365.7,226.2L371.7,222.2L382.8,217.7L409.3,210.8L415.5,208.2L419.2,206.2L421.8,204L423.7,201.2L424.8,198.2L425.8,192.6L427.8,189.9L430.2,189.2L441.2,189.1L451.8,187.5L453.8,187.7L455.8,189.6L457.5,198.2L461.1,204.2L465.8,208.6L478.5,217.8L482.6,221.2L485.9,225.2L488.8,230.8L491.2,239.8L491.6,249.8L489.8,260.8L486.8,269.3L484.2,274.3L479.2,281.8L476.7,284.8L472.1,288.8L462.2,295.8L453.7,300.2L434.2,307L426.2,311.2L420,316.2L409.8,329L406.2,332.1L403.2,333.4L399.8,333.6L396.2,332.9ZM894.8,340.7L891.8,341.9L889.8,342.1L888.2,341.7L886.5,340.2L884.8,337.2L878.6,323.8L869.9,308.8L859.7,293.8L851,283.2L841.8,275.2L820.8,261.2L816.2,256.8L813.1,252.2L810.6,245.8L809.5,239.2L809.7,234.2L811.1,228.2L814,221.8L817.6,216.8L821.8,212.7L827.8,208.8L833.2,206.5L841.8,204.2L855.2,202.7L867.8,203.7L882.2,206.4L888.8,208.2L898.7,212.2L904.7,216.2L909.6,220.2L916.8,228.3L923.8,239.2L927.2,247.4L930.2,256.2L933.9,271.8L934.5,278.2L934.3,281.8L933.2,289.5L931.2,297.5L928.8,305L926.2,310.7L923.2,316.2L917.8,323.8L912.8,328.8L907.3,333.2ZM783.2,539.9L772.2,534.2L763.1,526.2L756.8,518L753.9,512.2L752.4,507.8L750.5,497.8L750.5,488.2L751,482.8L752.1,475.8L754.5,466.2L759.4,452.2L765.2,441.2L773.8,429.8L783.8,420.8L792.2,415.4L797.2,413.4L803.2,411.9L819.8,410.1L829.8,410.3L833.8,411.1L837.8,412.5L841,414.2L845.1,417.2L847.8,419.8L850.3,423.2L854.8,431.9L857.3,442.2L858.5,456.2L857.3,471.8L854.7,485.2L852.8,492L850.3,498.2L844.8,509.2L837.1,520.2L828.6,529.2L820.8,535.1L811.8,539.7L801.2,542.5L792.2,542.4ZM489.2,548.9L483.2,550.1L476.8,550.6L467.8,549.9L457.8,547.4L448.8,543.2L440.4,536.8L436.5,532.8L432.9,528.2L427.9,519.8L423.1,507.2L421.3,499.8L420.1,490.2L420,474.2L421.3,457.8L424.2,443.8L428.1,434.2L433.9,426.2L440.8,420.7L445.2,418.2L449.8,416.6L459.8,414.6L466.2,414.1L473.2,414.6L483.2,416.5L494.2,421L503.2,427.8L509.9,435.8L515.4,445.8L519.7,457.2L522.3,467.8L523.8,475.8L525.5,494.2L524.8,507.2L522,519.8L519.9,525.2L517.4,529.8L514.1,534.2L510.7,537.8L502.2,543.9L495.2,547.1Z"/>
<path fill="rgb(40,180,71)" d="M446.2,171.8L443.2,174.3L439.2,175.7L433.8,175.8L429.8,174.6L426.7,172.2L424.7,168.8L424.1,164.8L425,161.2L426.4,159.2L428.2,157.8L432.8,156L439.2,155.7L444.2,157.2L447.2,159.8L448.7,163.8L448.4,167.8ZM391.2,330.2L384.9,326.8L377.2,321.3L365.8,311.3L359.2,303.8L355.2,296.8L352.2,286.2L350,268.2L350.4,256.2L351.7,249.2L353.8,243.2L357.8,235.9L362.2,230.3L366.2,226.8L372.2,222.8L383.2,218.1L410.2,210.9L416.2,208.4L420.1,206.2L422.4,204.2L424.5,201.2L425.6,198.2L426.4,193.2L427.2,191.8L428.2,191L430.8,190.6L441.8,190.5L451.8,188.9L453.8,189.1L455.2,190.8L457.1,199.2L460.2,204.2L464.4,208.2L482.1,221.8L485.3,225.8L488.2,231.4L489.8,235.9L490.7,240.8L490.9,250.2L489.2,259.9L485.8,269.8L482.8,275.4L478.2,281.9L475.8,284.7L471.6,288.2L461.7,295.2L453.1,299.8L434.8,306L426.2,310.3L419.5,315.8L409.2,328.5L405.8,331.5L402.8,332.7L399.2,332.8ZM895.1,339.8L891.8,341.2L889.8,341.4L888.2,340.9L886.8,339.4L879.1,323.2L870.4,308.2L860.2,293.2L851.5,282.8L842.2,274.7L821.2,260.8L816.7,256.2L813.6,251.8L811.2,245.5L810.2,239.2L810.3,234.2L811.7,228.2L814.7,221.8L818.2,216.8L822.4,212.8L828.2,209L834.2,206.6L842.2,204.5L855.8,203.2L862.8,203.5L882.2,207L888.5,208.8L898.2,212.8L904.3,216.8L909.1,220.8L916.2,228.7L923.2,239.7L926.3,246.8L929.2,255.4L933.2,272.2L933.7,281.2L932.8,288.5L930.8,296.8L928.2,304.4L925.8,310.2L922.7,315.8L917.3,323.2L912.2,328.4L906.9,332.8ZM783.2,539.4L777.2,536.6L772.2,533.6L763.4,525.8L757.2,517.7L754.3,511.8L752.8,507.2L751.1,497.2L751,488.2L751.6,482.2L755.2,465.8L760,452.2L765.5,441.8L774,430.2L783.8,421.4L792.2,416.1L797.2,414L803.2,412.5L819.8,410.7L829.8,411L833.8,411.8L837.7,413.2L841.2,415.2L845.2,418.2L850.2,424.2L854.2,432.4L856.7,442.8L857.8,456.8L856.6,471.8L853.9,485.8L849.8,497.9L844.2,508.9L836.7,519.8L828.3,528.8L820.4,534.8L811.2,539.4L801.2,542.1L792.2,542ZM489.8,548.4L483.8,549.6L477.2,550.2L468.2,549.6L458.2,547.1L449.2,543L441.1,536.8L437.2,532.8L433.6,528.2L428.6,519.8L426.1,514.2L423.7,507.2L422,499.8L420.8,490.2L420.6,474.2L421.9,458.2L424.5,444.8L428.6,434.8L434.2,426.8L441,421.2L445.6,418.8L449.8,417.2L459.8,415.2L466.2,414.7L473.2,415.2L483.2,417.1L493.8,421.4L502.9,428.2L509.2,435.8L514.8,445.8L518.9,456.8L521.6,467.2L523.1,475.2L524.9,493.8L524.2,507.2L521.6,519.2L519.5,524.8L517.1,529.2L513.9,533.8L510.5,537.2L502.2,543.5L495.8,546.5Z"/>
<path fill="rgb(38,181,64)" d="M445.4,171.2L442.8,173.5L439.2,174.7L434.2,174.9L430.2,173.8L427.2,171.4L425.6,168.2L425.1,164.8L426.1,161.2L428.8,158.2L433.2,156.5L438.8,156.3L443.7,157.8L446.4,160.2L447.7,163.8L447.4,167.8ZM391.2,329.3L385,325.8L378.1,320.8L366.5,310.8L360.2,303.6L356.2,296.8L354.2,291.2L352.8,284.6L350.8,268.8L351.2,256.2L352.8,249L354.8,243.1L358.2,236.8L362.8,231.1L366.4,227.8L372.3,223.8L384.2,218.5L410.8,211.1L416.7,208.8L421.3,206.2L423.5,204.2L425.2,201.8L426.4,198.8L427.2,193.8L428.6,192.2L430.8,191.8L441.8,191.7L451.2,190.3L453.2,190.4L454.4,191.8L456.1,199.2L459.1,204.2L462.8,207.8L481.4,222.2L484.3,225.8L487.2,231.3L488.8,235.8L489.8,240.7L490,250.2L488.2,260.2L484.8,269.9L481.8,275.3L477.2,281.7L470.8,287.8L461.6,294.2L453.1,298.8L433.8,305.5L425.8,309.6L418.8,315.2L408.7,327.8L405.3,330.8L402.8,331.8L399.2,331.9ZM894.3,339.2L890.2,340.5L888.8,340.1L887.3,338.8L880,323.2L871,307.8L860.4,292.2L852.5,282.8L842.8,274.1L821.8,260.2L817.2,255.8L814.2,251.3L811.8,244.8L810.9,238.8L811.2,233.2L812.6,227.8L815.3,221.8L818.9,216.8L823.1,212.8L828.7,209.2L834.2,207L842.2,204.9L855.8,203.6L862.8,204L878.5,206.8L887.8,209.2L897.8,213.4L903.6,217.2L907.9,220.8L914.8,228.1L922.4,239.8L925.8,247.5L928.8,256.4L932.3,271.2L932.9,280.8L931.9,288.8L930.2,295.6L927.8,303.5L925.2,309.4L921.8,315.8L916.8,322.7L911.8,327.8L906.2,332.2ZM783.8,539.1L777.7,536.2L772.8,533.3L763.8,525.3L757.7,517.2L754.8,511.2L753.3,506.8L751.6,496.8L751.6,488.2L752.2,482.2L755.7,466.2L760.4,452.8L765.8,442.2L774.3,430.8L783.8,422.1L792.2,416.7L797.2,414.6L803.2,413.1L819.2,411.4L829.2,411.6L833.2,412.4L837.1,413.8L840.2,415.4L844.2,418.2L849.2,424.1L853.4,432.2L855.9,442.2L857.1,456.2L856,471.2L853.2,485.5L849.2,497.2L843.8,508.3L836.3,519.2L828,528.2L820.2,534.2L811.2,538.9L801.8,541.6L792.8,541.6ZM488.2,548.4L482.8,549.4L476.2,549.9L467.2,549L457.2,546.3L449,542.2L441.2,536.2L437.2,532L433.8,527.5L428,517.2L424.2,506.8L422.7,499.8L421.5,490.2L421.2,474.2L422.5,457.8L425.2,444.5L429.2,434.8L431.9,430.8L435.2,426.8L442.3,421.2L446.2,419.2L450.8,417.6L460.2,415.7L466.2,415.3L473.2,415.8L483.2,417.7L493.8,422.1L502.8,428.9L509.2,436.8L514.6,446.8L518.8,458.2L521.2,468.2L522.7,476.8L524.3,494.2L523.6,507.8L522.3,514.8L520.7,520.2L518.7,525.2L516.2,529.8L512.8,534.2L509.2,537.8L501.2,543.5L494.8,546.4Z"/>
<path fill="rgb(35,183,57)" d="M445.2,170.1L442.8,172.5L439.2,173.9L434.8,174.1L431.2,173.3L428.3,171.2L426.6,168.8L426,165.2L426.5,162.2L428.8,159.3L432.2,157.4L437.8,156.9L442.2,157.9L445.2,160L446.8,163.2L446.8,166.8ZM392.7,328.2L386.3,324.8L379.3,319.8L367.2,309.4L360.8,301.8L356.8,294.7L354.8,288.8L353.2,282.3L351.8,269.2L352.8,255.6L354.2,249.1L356.2,243.5L359.8,237.2L364.2,231.7L368.8,227.8L374.8,223.8L385.4,218.8L412.9,210.8L419,208.2L423.4,205.8L426.6,202.2L427.8,199.2L428.7,194.8L429.8,193.8L441.8,193.4L450.2,192.1L452.2,192.2L453.2,193.8L454.9,200.2L457.1,203.8L477.6,220.2L482.2,225.4L485.8,231.6L487.2,235.9L488.2,240.9L488.5,249.8L486.8,259.9L483.8,268.4L480.2,274.8L474.8,282.2L470.2,286.2L461.1,292.8L450.6,298.2L434.8,303.4L429.8,305.5L425.2,308.1L418.1,313.8L413.6,318.8L407.2,327.1L403.9,329.8L401.8,330.4L399.2,330.4ZM894.9,337.8L890.8,339.3L889.2,339L888.2,338.1L880.4,321.8L872,307.2L861.4,291.8L853.1,281.8L843.2,273.1L827.5,263.2L822.6,259.8L818.2,255.6L815.2,251.2L812.8,244.8L811.8,238.8L811.9,233.8L813.1,228.2L815.6,222.2L819.1,217.2L823.2,213.2L828.5,209.8L834.2,207.4L841.8,205.4L854.8,204.1L866.2,204.9L876,206.8L884.8,209L896.5,213.8L905.2,219.8L909.6,223.8L913.2,227.8L917.2,233.3L921.2,239.9L924.8,247.9L927.2,255.2L931.2,271.4L931.9,280.2L931.2,286.2L929.8,293.5L927.2,301.7L924.8,307.9L921.2,314.5L916.2,321.5L911.2,326.7L906.4,330.8ZM783.8,538.7L777.8,535.8L772.9,532.8L764,524.8L758.1,516.8L755.4,511.2L753.8,506.2L752.2,496.2L752.2,488.2L752.8,482.2L756.2,466.2L761,452.8L766.4,442.2L774.5,431.2L784.2,422.4L792.2,417.3L797.2,415.2L802.8,413.7L817.2,412.2L828.2,412.3L836.2,414.2L839.3,415.8L843.2,418.6L848.2,424.1L850.8,428.3L852.8,432.8L855.1,442.2L856.3,456.2L855.2,470.4L852.8,484.1L848.8,496.3L843.2,507.6L835.7,518.8L827.7,527.8L820.2,533.6L811.2,538.4L801.8,541.1L797.2,541.4L792.2,541.1ZM488.8,547.9L483.2,549L476.8,549.5L467.8,548.7L457.8,546.1L449.2,541.9L441.5,535.8L437.7,531.8L434.2,527.2L428.7,517.2L424.9,506.8L423.3,499.2L422.2,490.2L421.9,474.8L423,458.8L425.6,445.2L429.5,435.8L432.2,431.4L435.2,427.7L442.2,422L446.6,419.8L450.9,418.2L460.8,416.3L466.2,416L473.2,416.4L483.2,418.3L493.2,422.5L497.8,425.5L502.2,429.2L508.5,436.8L514,446.8L518,457.8L520.6,468.2L522.1,476.2L523.7,493.8L523.1,506.8L520.5,519.2L518.3,524.8L515.9,529.2L512.6,533.8L509.2,537.2L501.2,543.1L494.8,546.1Z"/>
<path fill="rgb(33,185,50)" d="M444.2,170.2L441.8,172.2L438.8,173.2L434.8,173.3L431.2,172.5L428.9,170.8L427.3,168.2L426.7,165.2L427.4,162.2L429.8,159.4L433.2,157.8L438.2,157.5L442.2,158.6L444.8,160.8L446.1,163.8L445.8,167.2ZM359.5,295.8L355.9,288.2L353.6,278.8L352.9,268.8L353.5,262.8L354.5,257.2L356.1,252.2L359,245.8L363.5,238.2L371.3,228.8L375.2,225.2L379.2,222.5L386.8,218.9L410.8,211.9L427.2,205.4L436.2,203.9L445.8,203.7L454.8,204.9L460.2,207.6L467.8,212.8L472.6,216.8L476.5,220.8L479,224.2L481.6,230.2L483.1,237.2L483.6,245.2L482.4,254.8L479.9,261.2L476.1,267.2L470.8,272.7L464.2,277.5L457.8,281L449.8,284L426.3,289.8L420,292.8L398.8,304.6L392.8,307.1L387.8,308.4L379.2,308.6L371.8,306.5L365.8,302.7L361.8,298.8ZM915.8,313.4L909.8,318L905.8,319.5L902.2,319.9L898.2,319.6L893.8,317.9L889.4,314.2L885.4,309.2L881.9,303.2L875.2,288.9L872.2,284.4L868.7,280.8L864.1,277.8L857.9,274.8L840.2,268.1L829.8,263.4L824.9,260.2L820.2,256.2L817.2,252.2L814.7,247.2L813.2,241.8L812.6,235.8L813.5,229.8L815.5,223.8L818.1,219.2L821.8,215L825.2,212.2L829.2,209.8L833.8,207.9L839.2,206.3L844.2,205.3L851.8,204.6L862.8,204.9L877.2,207.6L883.8,209.4L889.8,211.8L895.2,214.4L900.8,217.9L908.6,224.8L912.4,229.2L916.2,234.8L919.5,240.2L922,245.8L927.1,260.8L929.7,274.8L929.5,286.2L927.2,295.8L925.2,300.5L922.8,304.9L919.2,309.7ZM784.2,538.4L778.2,535.5L773.2,532.4L764.8,524.8L758.8,516.6L755.9,510.8L754.4,506.2L752.7,496.2L752.7,488.8L753.3,482.8L756.7,466.8L761.3,453.2L766.7,442.8L774.8,431.7L784.2,423L792.2,417.9L796.8,415.9L802.2,414.4L814.8,413.1L827.2,413.3L832.2,414.1L835.7,415.2L838.8,416.8L842.3,419.2L847.2,424.6L849.8,428.8L851.8,433.3L853.9,442.2L855.2,456.2L854.2,469.3L851.8,483.5L847.8,495.8L842.2,507.2L834.4,519.2L826.9,527.8L820.2,533.1L811.2,537.9L801.8,540.7L792.8,540.7ZM488.8,547.6L483.2,548.6L477.2,549.1L468.2,548.4L458.2,545.8L449.9,541.8L442.2,535.8L438.2,531.6L434.9,527.2L429.7,518.2L425.8,507.2L423.3,493.8L422.5,475.2L423.5,459.2L426.1,445.8L430,436.2L432.8,431.9L435.8,428.2L439.2,425L443.2,422.3L447.2,420.2L451.7,418.8L457.2,417.4L463.7,416.8L473.2,417L483.2,419L493.2,423.2L497.8,426.2L502,429.8L508.2,437.2L513.4,446.8L517.5,458.2L521.6,476.8L523.1,493.8L522.6,506.8L521.4,513.8L519.9,519.2L517.8,524.8L515.3,529.2L512.2,533.4L508.8,537L501,542.8L494.8,545.7Z"/>
<path fill="rgb(30,187,43)" d="M444,169.2L441.8,171.3L438.8,172.5L434.8,172.6L431.8,171.9L429.4,170.2L428.1,168.2L427.5,165.2L428,162.8L429.8,160.2L433.2,158.5L437.2,158.1L441.2,158.9L443.8,160.6L445.2,163.2L445.3,166.2ZM361.1,295.8L357,288.2L354.6,279.2L353.8,269.8L354.4,263.8L355.6,258.2L358.4,250.2L361,244.8L364.4,239.2L372.1,229.8L376.2,225.9L380.2,222.9L384.8,220.4L388.8,218.8L410.2,212.5L424.2,207.5L431.8,205.9L440.8,205.1L450.8,205.5L455.8,206.6L459.2,207.9L468.8,214.2L473.2,218.2L476.4,222.2L479.7,228.8L481.5,235.8L482.2,244.2L481.3,253.2L479.1,259.8L475.5,265.8L470.8,270.8L464.2,275.9L457.8,279.4L449.8,282.6L429.6,287.2L425.1,288.8L419,291.8L399.8,302.6L393.2,305.4L388.2,306.9L380.2,307.3L372.8,305.4L366.8,301.8ZM914.2,310.1L908.8,314.4L905.2,316L900.2,316.3L895.8,315L892.3,312.2L889,308.2L885.1,301.8L877.8,286.2L874.2,281.3L870.6,277.8L865.1,274.2L855,269.8L837.2,265L830.2,262.4L826.2,260L821.2,255.7L818.2,251.8L815.5,246.2L814,240.8L813.5,235.2L814.3,229.2L816.1,223.8L818.7,219.2L822.2,215.2L825.8,212.4L829.8,210L839.2,206.7L844.2,205.7L851.8,205.1L862.8,205.4L876.2,207.9L883.2,210L888.2,212L894.2,215L900.2,219L907.1,225.2L911,229.8L914.1,234.2L917.9,240.8L920.9,247.2L924,255.8L925.9,262.8L927.8,274.8L927.8,286.2L926,294.2L922.6,300.8ZM787.8,539.1L782.2,537L776.2,533.8L772.5,531.2L768,527.2L763.7,522.8L760.5,518.2L755.8,508.8L753.5,498.8L753.4,487.8L755.4,474.2L759.7,458.8L765.2,446.2L772.1,435.8L779.2,427.9L788.8,420.4L796.8,416.5L805.8,414.4L819.8,413.7L825.8,414.5L830.6,415.8L837.4,419.2L842.9,424.8L847.2,432.8L849.6,441.8L850.9,455.8L850.2,468.8L848.1,483.2L844.1,497.8L840.1,507.8L834.4,517.8L828.5,525.2L821.9,531.2L813.2,536.5L803.8,539.9L795.2,540.5ZM488.8,547.2L483.2,548.2L477.2,548.7L468.8,548.1L458.8,545.5L450.2,541.4L442.8,535.6L438.6,531.2L435.1,526.8L429.9,517.2L426.5,507.2L424,493.2L423.2,475.2L424.1,459.2L426.8,445.8L430.8,436.2L433.4,432.2L436.8,428.2L440.2,425.1L444.2,422.5L448.2,420.6L453.2,419L458.2,418L464.8,417.3L474.8,417.9L480.2,418.8L485.2,420.2L490.3,422.2L494.2,424.5L502.2,430.8L508.2,438.2L513.2,447.8L517.2,459.2L521.1,477.2L522.5,493.2L522.1,506.2L520.8,513.8L519.3,519.2L517.4,524.2L515,528.8L511.8,533.2L508.4,536.8L500.8,542.5L494.8,545.3Z"/>
<path fill="rgb(27,189,36)" d="M443.2,169L441.2,170.7L438.8,171.7L435.2,171.9L432.2,171.3L430.2,170L428.8,167.9L428.2,165.8L428.6,163.2L430.3,160.8L433.2,159.2L437.2,158.7L440.8,159.4L443.2,161.2L444.4,163.2L444.5,166.2ZM913.8,309.1L908.8,313.2L905.2,314.9L900.2,315.3L896.2,314.1L892.8,311.2L889.6,307.2L886,301.2L878.8,285.8L875.2,280.9L871,276.8L865.4,273.2L855.3,268.8L837.2,264L830.2,261.5L826.8,259.3L822,255.2L818.9,251.2L816.5,246.2L814.9,240.8L814.3,234.8L815,229.2L816.5,224.2L819,219.8L822.3,215.8L829.2,210.7L833.5,208.8L838.8,207.2L843.8,206.1L855.8,205.4L862.2,205.8L875.2,208.2L886.2,211.9L893.2,215.4L899.2,219.4L905.8,225.3L911.9,232.8L916.5,240.2L919.4,246.2L922.6,254.8L924.5,261.2L926.7,273.8L926.8,285.8L925.1,293.8L921.6,300.2ZM362.1,295.8L358.1,288.8L356.5,284.2L355.3,279.2L354.6,269.8L355.3,263.2L356.5,258.2L358.1,253.2L361,246.8L365.5,239.2L372.8,230.3L376.8,226.5L381.2,223.1L385.8,220.6L390.3,218.8L410.8,212.8L421.8,209L431.2,206.8L440.2,205.9L450.8,206.4L455.8,207.4L459.8,209L468.2,214.5L472.3,218.2L475.5,222.2L478.9,229.2L480.6,235.8L481.3,244.2L480.5,253.2L478.1,259.8L474.4,265.8L469.8,270.6L463.2,275.5L456.8,279L448.8,282L430.1,286.2L425.3,287.8L419,290.8L399.8,301.6L393.2,304.5L388.2,306.1L380.2,306.5L373.2,304.6L367.8,301.5ZM790.2,539.4L781.2,536L775.5,532.8L771.5,529.8L766.8,525.3L763.3,521.2L759.9,516.2L757.2,510.8L754.4,501.2L753.8,490.8L754.9,479.8L758.1,465.8L762.9,452.2L768.8,441.4L776.5,431.2L786.2,422.7L794.8,417.8L803.2,415.3L816.8,414.4L824.8,415.5L828.8,417L833.2,419.6L838.2,424.2L842.1,430.8L845.1,440.8L846.3,451.2L846.3,466.2L844.5,483.2L841,499.8L838,508.8L834.1,516.8L829,523.8L822.4,530.2L813.8,535.8L805.2,539L798.2,540.1ZM488.2,547L477.2,548.4L468.8,547.7L459.1,545.2L450.8,541.2L443.2,535.4L439.2,531.2L435.8,526.8L431,518.2L427.4,508.2L424.9,494.2L423.9,477.2L424.4,461.8L425.5,453.8L427.2,446.2L429,441.2L431.5,436.2L434.3,432.2L437.8,428.3L441.3,425.2L445.2,422.8L454.2,419.5L465.2,418L476.8,418.8L486.2,421.2L494.8,425.4L501.9,431.2L507.9,438.8L512.8,448.2L516.7,459.8L520.6,477.8L521.9,492.8L521.5,506.2L520.3,513.8L518.6,519.8L516.6,524.8L514.1,529.2L511.1,533.2L507.7,536.8L500.2,542.3L494.2,545.1Z"/>
<path fill="rgb(26,190,30)" d="M430.8,169.4L429.2,167.1L429.1,164.2L430.2,161.9L432.2,160.3L435.2,159.5L438.8,159.6L441.7,160.8L443.2,162.5L443.9,164.8L443.6,166.8L442.5,168.8L440.8,170.2L438.2,171.1L435.2,171.2L432.8,170.7ZM913.2,308.5L908.2,312.6L904.8,314.2L900.2,314.5L896.2,313.2L892.9,310.2L889.9,306.2L886.9,301.2L879.2,285.2L875.8,280.3L871.6,276.2L866.1,272.8L856.1,268.2L850,266.2L837.2,263.2L830.8,260.9L827.2,258.8L822.5,254.8L819.5,250.8L817,245.8L815.6,240.8L815,234.8L815.7,228.8L817.3,223.8L819.6,219.8L822.9,215.8L829.9,210.8L834.2,208.9L839.2,207.4L844.2,206.4L851.8,205.9L862.8,206.4L875.2,208.8L885.8,212.4L892.8,216L898.8,220L905.6,226.2L912,234.2L915.9,240.8L919,247.2L922,255.2L924,262.2L926,274.2L926,285.8L924.4,293.2L921,299.8ZM362.6,295.2L358.6,288.2L356,279.2L355.2,270.2L355.9,263.8L357,258.8L358.6,253.8L361,248.2L366,239.8L373.2,230.8L377.2,227L381.8,223.6L386.6,220.8L391.8,218.8L420.8,209.9L431.8,207.4L440.2,206.6L450.2,207L455.2,208L459.8,209.6L467.8,214.8L471.9,218.8L475,222.8L478.4,229.8L480,236.2L480.6,244.8L479.8,253.2L477.6,259.2L473.9,265.2L469.7,269.8L463.2,274.7L457.2,278L449.2,281.1L429.8,285.6L424.8,287.2L418.5,290.2L399.2,301.1L393.8,303.6L388.2,305.4L380.2,305.8L373.8,304.1L368.2,301ZM790.8,539.1L782.2,536L776.2,532.6L772.2,529.7L764,521.2L760.6,516.2L757.9,510.8L755.2,502.2L754.3,492.2L755.3,480.8L758.1,467.8L761.8,456.2L767.8,443.8L775.8,432.8L784.5,424.8L788.8,421.6L793.2,419.1L801.8,416.1L806.8,415.4L815.2,415.1L822.8,416L830.2,419L833.8,421.3L836.3,423.8L839,427.2L840.8,430.8L843.9,440.2L845.2,451.2L845.2,466.2L843.4,482.8L840.4,497.8L837.5,507.2L833.4,516.2L829.1,522.8L822.8,529.2L814.7,534.8L806.2,538.3L799.2,539.6ZM488.2,546.6L477.8,548L469.2,547.4L459.8,545L451.7,541.2L444.3,535.8L436.8,527.2L431.8,518.8L428.4,509.2L425.9,495.8L424.5,478.2L424.9,462.2L426,454.2L427.7,446.8L429.5,441.8L432,436.8L434.8,432.7L438.2,428.8L441.8,425.8L445.2,423.5L448.8,421.9L454.8,420L465.8,418.6L477.8,419.5L486.8,421.9L494.8,426.1L501.8,431.9L507.6,439.2L512.2,448.2L516.1,459.8L519.9,477.2L521.2,490.8L521,505.8L519.8,513.2L518.2,519.2L516.3,524.2L513.9,528.8L510.9,532.8L507.2,536.6L499.8,542.1L494.2,544.7Z"/>
<path fill="rgb(34,193,27)" d="M442.2,167.8L440.8,169.2L438.8,170.2L436.2,170.5L433.8,170.2L431.8,169.2L430.4,167.8L429.9,166.2L429.9,164.2L431,162.2L433.2,160.7L436.2,160.1L439.2,160.4L441.2,161.4L442.7,163.2L443,165.8ZM912.6,308.2L907.8,312.1L904.8,313.6L900.2,313.8L896.8,312.7L893.8,310.2L890.6,306.2L887.4,300.8L879.8,284.8L876.2,279.9L872,275.8L866.2,272.1L855.8,267.4L837.8,262.6L831.2,260.4L827.8,258.4L822.8,254.1L819.9,250.2L817.5,245.2L816.1,239.8L815.6,234.2L816.4,228.2L817.9,223.8L820.1,219.8L823.5,215.8L827.2,212.8L830.7,210.8L839.8,207.7L844.8,206.8L852.2,206.3L862.8,206.8L874.8,209.2L885.2,212.9L892.2,216.4L898.2,220.4L905.2,226.8L911.5,234.8L915.4,241.2L918.5,247.8L921.5,255.8L923.4,262.8L925.4,274.8L925.4,286.2L923.6,293.8L920.2,299.8ZM363,294.8L359,287.8L356.5,278.8L355.8,269.8L357.6,258.8L359.4,253.2L361.9,247.8L366.7,239.8L373.8,231.1L377.8,227.3L382.2,223.9L387.2,221L394.5,218.2L420.2,210.6L431.8,208L440.2,207.2L450.2,207.6L455.2,208.6L459.8,210.2L467.6,215.2L471.6,219.2L474.3,222.8L477.6,229.2L479.4,236.2L480,244.8L479.1,253.2L477,259.2L473.6,264.8L469.2,269.3L462.8,274.3L456.8,277.6L448.8,280.6L429.8,285L424.4,286.8L418.2,289.8L399.2,300.4L392.8,303.4L387.8,304.9L380.2,305.2L373.8,303.5L368.2,300.3ZM790.8,538.7L782.2,535.5L776.2,532.1L772.5,529.2L767.8,524.8L764.3,520.8L761.2,516.1L758.5,510.8L755.8,502.2L754.8,492.2L755.8,481.2L758.5,468.2L762.1,456.8L768.1,444.2L775.8,433.5L784,425.8L791.8,420.5L796.2,418.3L800.8,416.9L805.8,416L817.2,415.7L821.8,416.5L829.2,419.4L833.2,421.9L835.7,424.2L838.1,427.2L840,430.8L843,440.2L844.4,451.2L844.4,466.2L842.5,483.2L839.6,497.8L836.5,507.8L832.6,516.2L828.3,522.8L822.2,529.1L814.2,534.5L805.8,538L798.8,539.2ZM488.2,546.3L479.2,547.6L470.2,547.2L460.8,545L452.2,541.1L445,535.8L437.8,527.8L432.6,519.2L429.1,509.8L426.5,495.8L425.2,478.2L425.4,462.8L426.5,454.2L428.3,446.8L432.4,437.2L435.2,433.1L438.8,429.2L442.2,426.2L445.8,424L455.2,420.5L465.8,419.2L477.8,420.1L486.8,422.5L494.8,426.8L501.3,432.2L507.2,439.8L511.8,448.8L515.7,460.2L519.3,477.2L520.7,490.2L520.5,505.2L519.3,513.2L517.7,519.2L515.7,524.2L513.3,528.8L510.3,532.8L507,536.2L499.8,541.7L494.2,544.3Z"/>
<path fill="rgb(47,196,25)" d="M442,166.2L441.1,167.8L439.8,168.9L437.8,169.5L435.2,169.6L433.2,169.1L431.8,168.1L430.8,166.2L430.7,164.8L431.3,163.2L432.9,161.8L435.2,161L437.8,160.9L439.8,161.5L441.4,162.8L442.1,164.2ZM911.8,308.2L907.2,311.8L904.2,313.1L900.2,313.3L896.8,312L893.2,308.8L889.4,303.2L882.2,288L879.2,282.9L876,278.8L872.4,275.2L866.2,271.4L856.2,267L850.8,265.2L837.8,262L831.2,259.8L827.8,257.7L823.2,253.7L820.3,249.8L818,244.8L816.7,239.8L816.2,234.2L816.9,228.8L818.4,223.8L820.7,219.8L824.2,215.8L828,212.8L831.6,210.8L840.8,207.8L845.8,207.1L853.8,206.7L863.2,207.4L874.8,209.7L885.2,213.5L891.8,216.8L898.2,221.1L904.9,227.2L908.8,231.8L915,241.8L918.1,248.2L921,256.2L922.9,263.2L924.8,274.8L924.8,285.8L923.1,293.2L919.5,299.8ZM363.7,294.8L359.6,287.8L357,278.8L356.4,270.2L358.1,259.2L359.6,254.2L362.1,248.8L367,240.2L373.9,231.8L378.1,227.8L382.2,224.6L388.2,221.1L399.2,217.2L422.2,210.6L432.2,208.5L439.8,207.7L449.8,208.1L454.8,209L459.2,210.6L466.8,215.2L470.9,219.2L473.7,222.8L477,229.2L478.9,236.2L479.5,244.2L478.7,252.8L476.6,258.8L473.2,264.2L469.1,268.8L462.8,273.7L456.8,276.9L448.8,280.1L429.8,284.5L424.2,286.2L418,289.2L399.2,299.8L393.2,302.6L388.2,304.2L380.8,304.7L374.2,303.1L368.8,300ZM790.8,538.2L782.2,535L776.2,531.5L772.7,528.8L764.8,520.4L761.7,515.8L758.9,510.2L756.3,502.2L755.4,492.2L756.4,481.2L759.1,468.2L762.5,457.2L768.4,444.8L775.4,434.8L783.8,426.6L791.8,421L796.2,418.9L800.8,417.5L809.2,416.3L816.8,416.3L821.2,417L828.8,419.9L832.8,422.4L835.2,424.7L837.6,427.8L839.5,431.2L842.3,440.2L843.7,451.2L843.7,465.8L842,482.2L839,497.2L836.1,506.8L832.2,515.8L828,522.2L821.8,528.8L813.8,534.2L805.8,537.6L798.8,538.8ZM487.8,546L478.2,547.3L469.8,546.7L460.8,544.5L452.6,540.8L445.2,535.3L438.4,527.8L433.2,519.2L429.8,510.2L427.4,497.8L425.8,478.2L426,462.8L427,454.8L428.7,447.2L432.8,437.8L435.5,433.8L439.1,429.8L442.8,426.6L446.2,424.4L455.2,421.2L465.8,419.8L471.2,419.9L477.8,420.7L486.8,423.1L494.5,427.2L501.1,432.8L506.8,440L511.2,448.8L515.1,460.2L518.8,477.2L520.1,490.2L520,505.2L518.8,513.2L517.2,519.2L515.2,524.2L512.7,528.8L509.8,532.7L506.3,536.2L502.1,539.8L498.8,541.8L493.5,544.2Z"/>
<path fill="rgb(71,200,25)" d="M440.8,166.2L438.8,168.2L435.2,168.7L432.5,167.2L431.8,164.8L432.6,163.2L433.8,162.4L435.8,161.8L437.8,161.9L440.4,163.2L441.1,164.8ZM911.5,307.8L907.2,311.1L904.2,312.5L900.2,312.7L897.2,311.7L893.5,308.2L889.7,302.8L882.8,287.8L879.8,282.8L876.7,278.8L872.8,274.9L866.8,271.1L856.2,266.4L838.2,261.6L831.8,259.4L828.2,257.4L823.5,253.2L821,249.8L818.6,244.8L817.2,239.8L816.7,234.2L817.4,228.8L819,223.8L821.3,219.8L824.8,215.8L828.7,212.8L832.2,210.9L841.2,208.1L853.8,207.1L863.2,207.8L875.2,210.4L886.2,214.6L891.8,217.4L898.2,221.8L904.6,227.8L908.5,232.2L911.5,236.8L917.5,248.2L920.4,256.2L922.4,263.2L924.2,274.8L924.3,285.8L922.5,293.2L919.2,299.2ZM363.9,294.2L360,287.2L358.4,282.8L357.5,278.2L356.9,269.8L358.8,258.8L360.4,253.8L363.1,247.8L367.6,240.2L374.2,232.1L378.3,228.2L382.8,224.9L389.8,221L402.1,216.8L422.2,211.1L432.2,209L439.8,208.3L449.8,208.6L454.8,209.6L459.2,211.2L466.8,215.9L470.7,219.8L473.4,223.2L476.6,229.8L478.3,236.2L479,244.2L478.2,252.8L476,258.8L472.6,264.2L468.3,268.8L462.2,273.4L456.2,276.6L448.2,279.7L429.8,283.9L424.2,285.6L417.8,288.8L398.8,299.5L392.8,302.2L387.8,303.8L380.8,304.2L374.2,302.5L368.8,299.3ZM791.2,537.9L782.8,534.8L773.4,528.8L768.7,524.2L765.3,520.2L762,515.2L759.5,510.2L756.9,502.2L755.9,492.8L756.9,481.8L759.4,469.2L762.7,458.2L768.4,445.8L775.1,435.8L778.7,431.8L783.2,427.7L791.2,421.9L795.8,419.7L800.2,418.1L808.2,416.9L816.2,416.9L820.8,417.5L828.2,420.3L831.8,422.4L834.4,424.8L838.6,430.8L841.6,439.8L843.1,451.2L843.1,465.8L841.5,481.8L838.6,496.2L835.8,505.8L832,514.8L827.6,521.8L821.8,528.2L813.8,533.7L805.8,537.1L799.2,538.4ZM487.8,545.7L478.2,546.9L469.8,546.3L460.8,544.1L452.8,540.4L445.8,535.1L438.8,527.4L433.8,519.2L430.4,510.2L428,497.8L426.3,478.2L426.5,463.2L427.5,455.2L429.2,447.8L430.9,442.8L433.2,438.1L439.4,430.2L442.8,427.3L446.2,425.1L455.8,421.6L466.2,420.3L478.2,421.3L486.8,423.7L494.3,427.8L500.8,433.2L506.3,440.2L510.8,449.2L514.6,460.8L518.3,477.8L519.6,490.2L519.4,505.2L518.2,513.2L516.6,519.2L514.6,524.2L512.2,528.6L509.2,532.6L505.8,536.2L501.4,539.8L493.2,544Z"/>
<path fill="rgb(94,204,25)" d="M439.3,165.8L437.8,167.2L435.8,167.4L434.1,166.8L433.3,165.2L434.2,163.7L436.8,163.1L438.8,163.8L439.4,164.8ZM911.2,307.2L907.2,310.5L904.2,311.9L900.2,312.2L897.2,311L893.8,307.8L890.1,302.2L883.2,287.6L880.2,282.5L876.8,278L872.8,274.2L866.8,270.5L856.8,266L850.8,264.1L838.2,261.1L831.8,258.8L828.2,256.7L823.8,252.8L821,248.8L818.9,244.2L817.7,239.2L817.2,234.2L818,228.8L819.3,224.2L821.5,220.2L824.9,216.2L828.2,213.6L831.8,211.5L840.2,208.7L845.2,207.9L852.8,207.6L862.8,208.3L874.7,210.8L885.2,214.7L891.3,217.8L897.8,222.1L904.2,228.1L908.2,232.8L911.5,237.8L917.1,248.8L919.9,256.2L921.8,263.2L923.7,274.8L923.8,285.8L922.2,292.8L918.8,299ZM364.2,293.8L360.3,286.8L358,278.2L357.4,269.8L359.3,258.8L360.9,253.8L363.4,248.2L367.9,240.8L374.8,232.4L379.1,228.2L383.2,225.2L390.2,221.4L402.8,217L422.2,211.6L432.2,209.5L440.2,208.8L450.2,209.2L455.2,210.2L459.2,211.7L466.4,216.2L470.4,220.2L473.1,223.8L476.3,230.2L477.9,236.8L478.4,244.8L477.6,252.8L475.7,258.2L472.2,263.8L468.2,268.1L462.2,272.8L456.2,276L448.2,279.2L429.8,283.4L423.9,285.2L417.6,288.2L398.8,298.9L392.8,301.7L387.8,303.2L380.8,303.7L374.2,301.9L369.2,299ZM791.2,537.5L782.8,534.3L773.6,528.2L765.8,520L762.7,515.2L759.9,509.8L757.4,501.8L756.4,492.2L757.5,481.2L760,468.8L763.2,458.2L768.9,445.8L775.8,435.8L778.9,432.2L783.9,427.8L791.8,422.2L796.2,420L800.8,418.5L808.8,417.4L816.2,417.4L820.8,418.1L828.2,420.9L831.8,423.1L834.1,425.2L838.2,431.2L841.1,440.2L842.6,451.2L842.6,465.8L840.9,481.8L838,496.2L835,506.2L831.4,514.8L827.3,521.2L821.5,527.8L813.8,533.1L805.8,536.7L799.2,537.9ZM488.2,545.2L479.8,546.5L471.2,546.2L462.2,544.2L453.4,540.2L446.2,535L439.6,527.8L434.4,519.2L431,510.2L428.7,498.2L426.9,478.2L427,463.2L428,455.2L429.7,447.8L431.5,442.8L433.8,438.2L439.8,430.7L443.2,427.7L446.8,425.5L455.8,422.2L466.2,420.9L478.2,421.9L486.8,424.3L494.2,428.4L500.5,433.8L506,440.8L510.2,449.2L514.1,460.8L517.8,477.8L519.1,490.2L518.9,505.2L517.8,512.8L516.2,518.8L514.3,523.8L511.9,528.2L505.8,535.6L499.1,540.8L493.8,543.4Z"/>
<path fill="rgb(118,208,25)" d="M910.8,307L906.8,310.2L904.2,311.4L900.8,311.7L897.8,310.7L894.2,307.5L890.7,302.2L883.6,287.2L880.7,282.2L877.2,277.8L873.2,273.9L867.2,270.2L856.8,265.5L850.8,263.5L838.2,260.5L832.2,258.5L828.8,256.4L824.2,252.5L821.6,248.8L819.5,244.2L818.3,239.8L817.8,234.2L818.5,228.8L819.9,224.2L822.2,220.1L825.5,216.2L829.2,213.4L832.8,211.5L841.2,208.9L845.8,208.2L853.8,208L863.2,208.8L875.2,211.5L881.8,213.7L891.8,218.6L897.8,222.8L904.2,228.8L907.9,233.2L911.2,238.4L916.8,249.2L919.5,256.8L921.4,263.8L923.2,275.2L923.2,285.8L921.6,292.8L918.2,298.8ZM364.8,293.8L360.9,286.8L358.5,278.2L357.9,269.8L359.8,258.9L363.8,248.8L368.2,241.1L375.1,232.8L379.2,228.8L383.2,225.8L390.6,221.8L403.2,217.3L422.2,212.1L432.2,210L439.8,209.3L449.8,209.6L454.8,210.6L458.8,212.1L466.2,216.8L472.5,223.8L475.5,229.8L477.3,236.2L477.9,244.2L477.2,252.2L475.2,258.1L471.8,263.7L467.8,267.9L461.8,272.5L455.7,275.8L447.9,278.8L429.2,283L423.8,284.7L417.2,287.9L398.2,298.6L392.8,301.1L387.8,302.7L380.8,303.2L374.8,301.6L369.7,298.8ZM791.2,537.1L782.8,533.8L773.8,527.8L766.2,519.8L763,514.8L760.3,509.2L757.9,501.8L756.9,492.2L758,481.2L760.6,468.8L763.7,458.2L769.5,445.8L776.2,435.9L784.2,428.1L791.8,422.7L796.2,420.6L800.8,419L808.8,417.9L816.2,418L820.8,418.7L827.8,421.3L831.2,423.4L833.8,425.8L837.8,431.8L840.7,440.8L842.1,451.8L842,465.8L840.3,481.8L837.5,496.2L834.6,505.8L830.8,514.8L826.7,521.2L820.8,527.7L813.2,532.9L805.2,536.4L799.2,537.5ZM488.2,544.8L480.2,546.1L471.8,545.9L462.8,544L453.8,539.9L446.7,534.8L440.2,527.7L435,519.2L431.7,510.8L429.4,499.8L427.4,478.2L427.6,463.2L428.5,455.2L430.1,448.2L431.9,443.2L434.1,438.8L436.9,434.8L440.2,431L446.8,426.1L455.8,422.8L465.8,421.4L471.2,421.5L477.8,422.3L486.2,424.7L493.8,428.7L500.2,434.2L505.7,441.2L509.9,449.8L513.5,460.8L517.2,477.8L518.6,490.2L518.4,504.8L517.4,512.2L515.9,518.2L514,523.2L511.7,527.8L505.5,535.2L498.8,540.5L493.8,543Z"/>
<path fill="rgb(139,211,25)" d="M910.2,306.8L906.4,309.8L903.8,311L900.8,311.2L897.8,310.1L894.3,306.8L891,301.8L884.2,287.2L881.2,282.1L877.8,277.5L873.8,273.7L867.2,269.6L857.2,265.1L851.2,263.1L838.2,260L832.2,257.9L828.8,255.8L824.8,252.2L822.2,248.8L819.9,243.8L818.7,239.2L818.3,234.2L819,228.8L820.4,224.2L822.7,220.2L825.8,216.6L829.2,213.9L832.8,211.9L841.2,209.3L845.8,208.7L853.8,208.4L862.8,209.2L874.8,211.8L886.1,216.2L891.2,218.9L897.2,223L903.5,228.8L907.3,233.2L910.2,237.8L916.2,249.2L919,256.8L920.9,263.8L922.7,275.2L922.7,285.8L921,292.8L917.6,298.8ZM365.2,293.5L361.4,286.8L359,278.2L358.4,270.2L359.1,264.2L360.2,259L364.2,248.9L368.8,241.2L375.3,233.2L379.5,229.2L383.8,226L390.7,222.2L403.2,217.7L428.2,211.3L440.2,209.7L449.8,210.1L454.8,211.2L458.8,212.6L465.8,217L469.5,220.8L472.2,224.2L475.2,230.2L476.9,236.8L477.4,244.8L476.7,252.2L474.8,257.8L471.4,263.2L467.7,267.2L461.8,271.9L455.5,275.2L447.8,278.2L429.2,282.5L423.2,284.4L416.8,287.6L398.8,297.8L392.8,300.6L387.8,302.2L381.2,302.7L375.2,301.2L369.9,298.2ZM791.2,536.6L783.2,533.6L774.2,527.5L766.5,519.2L763.3,514.2L760.6,508.8L758.3,501.2L757.4,491.8L758.6,481.2L761.2,468.2L764.3,458.2L767.2,451.2L770.4,445.2L777.2,435.5L785.2,427.9L792.8,422.8L797.2,420.7L801.8,419.3L810.2,418.4L816.8,418.5L820.8,419.2L827.8,421.9L831.2,424.1L833.6,426.2L837.4,432.2L840.1,440.8L841.5,451.8L841.5,465.2L839.8,481.8L836.9,496.2L834.1,505.8L830.4,514.2L826.4,520.8L820.5,527.2L813.2,532.4L805.2,535.9L799.2,537.1ZM487.2,544.7L478.8,545.8L470.2,545.3L461.9,543.2L453.8,539.4L446.9,534.2L440.1,526.8L435.3,518.8L432,509.8L429.6,497.2L427.9,477.8L428.1,463.2L429.1,455.2L430.7,448.2L432.5,443.2L434.8,438.8L440.7,431.2L443.8,428.6L447.2,426.4L456.2,423.2L466.2,421.9L477.8,422.8L486.2,425.2L493.8,429.3L500,434.8L505.2,441.6L509.5,450.2L513.1,461.2L516.7,477.8L518.1,490.2L517.9,504.8L516.8,512.2L515.2,518.8L511.1,527.8L504.9,535.2L500.8,538.8L496.5,541.2L492.2,543.2Z"/>
<path fill="rgb(158,212,25)" d="M910,306.2L906.3,309.2L903.8,310.4L900.8,310.6L898.2,309.8L895,306.8L891.6,301.8L884.5,286.8L881.6,281.8L878.2,277.2L874.1,273.2L867.8,269.2L857.2,264.5L851.2,262.6L838.8,259.6L832.8,257.6L829.2,255.5L825.2,252L822.5,248.2L820.4,243.8L819.2,239.2L818.8,234.2L819.5,228.8L821,224.2L823.3,220.2L826.3,216.8L829.5,214.2L833,212.2L841.2,209.7L845.8,209.1L853.8,208.9L862.8,209.7L874.8,212.4L881.2,214.6L891.2,219.6L897.2,223.7L903.2,229.2L907,233.8L910.2,238.7L915.8,249.5L920.4,263.8L922.2,275.2L922.3,285.2L920.7,292.2L917.3,298.2ZM365.7,293.2L361.8,286.2L359.4,277.8L358.9,269.8L360.7,259.2L364.8,249L369.2,241.5L375.8,233.5L379.8,229.7L383.8,226.7L390.8,222.8L403,218.2L422.2,213.2L432.2,211.1L439.8,210.3L449.2,210.6L454.2,211.5L458.2,213L465.2,217.3L469.2,221.2L471.6,224.2L474.6,230.2L476.4,236.8L476.9,244.8L476.2,252.2L474.3,257.8L471.2,262.8L467.2,267L461.2,271.6L455.2,274.8L447.6,277.8L429.2,281.9L423.2,283.8L416.8,287L397.8,297.7L392.2,300.2L387.8,301.7L381.2,302.2L375.4,300.8L370.2,297.9ZM791.5,536.2L783.6,533.2L774.7,527.2L767.2,519.2L763.9,514.2L761.2,508.8L758.9,501.2L757.9,492.2L759,481.8L761.5,469.2L764.6,458.8L770.2,446.4L776.8,436.8L784.2,429.4L791.8,423.9L796.2,421.7L800.8,420.1L808.2,418.9L815.8,419L820.2,419.6L827.2,422.3L832.8,426.2L836.8,432.2L839.6,440.8L841,451.8L841,465.2L839.3,481.2L836.5,495.8L833.7,505.2L830.1,513.8L826.1,520.2L820.3,526.8L813.2,531.8L805.2,535.5L799.2,536.7ZM487.5,544.2L479.2,545.4L471.2,545L462.8,543.1L454.2,539.2L447.2,534L440.7,526.8L435.9,518.8L432.5,509.8L430.2,497.8L428.4,477.8L428.6,463.2L429.5,455.8L431.1,448.8L432.9,443.8L435.1,439.2L440.8,432L443.8,429.2L447.2,427L456.2,423.7L466.2,422.4L477.8,423.4L486.2,425.8L493.5,429.8L499.3,434.8L504.8,441.8L508.9,450.2L512.6,461.2L516.2,477.8L517.5,490.2L517.4,504.8L516.3,512.2L514.8,518.2L510.9,527.2L504.8,534.8L500.8,538.3L496.6,540.8L492.3,542.8Z"/>
<path fill="rgb(177,213,25)" d="M909.2,306.2L905.8,308.9L902.8,310.1L899.5,309.8L896.8,307.9L894.2,304.9L891.3,300.2L885.1,286.8L882,281.2L877,275.2L872.2,271.3L866.8,268.2L857.2,264L851.2,262L838.8,259L832.8,257L829.2,254.9L825.3,251.2L822.8,247.6L820.8,243.2L819.7,238.8L819.3,233.8L820.1,228.8L821.6,224.2L823.9,220.2L827,216.8L830.3,214.2L833.8,212.4L841.8,210.1L853.8,209.4L862.8,210.2L874.8,212.9L881.2,215.2L886.8,217.7L897.2,224.2L903,229.8L906.7,234.2L909.8,238.9L915.3,249.8L919.8,263.8L921.7,275.8L921.7,285.2L920.1,292.2L916.7,298.2ZM366,292.8L362.2,286L360,277.8L359.5,269.8L361.3,259.2L365.2,249.2L369.8,241.7L376.2,233.8L380.5,229.8L384.2,227L392.1,222.8L404.6,218.2L429,212.2L440.2,210.8L449.8,211.2L454.2,212.1L458.2,213.5L465,217.8L468.8,221.5L471.2,224.7L474.2,230.7L475.8,236.8L476.4,244.8L475.7,252.2L473.8,257.6L470.5,262.8L466.7,266.8L460.8,271.2L455.2,274.2L447.5,277.2L428.8,281.5L422.8,283.5L416.8,286.4L397.4,297.2L392,299.8L387.3,301.2L381.2,301.7L375.2,300.1L370.4,297.2ZM791.3,535.8L783.6,532.8L774.9,526.8L767.5,518.8L764.2,513.8L761.5,508.2L759.3,500.8L758.5,491.8L759.6,481.2L762.2,468.8L765.2,458.8L770.9,446.2L777.4,436.8L785.2,429.2L792.2,424.2L796.8,422L801.2,420.5L808.8,419.4L816.2,419.5L820.2,420.2L827.2,422.8L830.3,424.8L832.8,426.9L836.5,432.8L839.2,441.2L840.5,451.8L840.5,465.2L838.8,481.2L836,495.8L833.1,505.2L829.5,513.8L825.4,520.2L819.8,526.6L812.4,531.8L804.8,535.1L798.8,536.3ZM487.8,543.8L479.8,545L471.8,544.7L463,542.8L454.3,538.8L447.7,533.8L441.2,526.6L436.5,518.8L433,509.8L430.8,498.2L428.9,477.8L429.1,463.2L430,455.8L431.6,448.8L433.4,443.8L435.7,439.2L441.2,432.2L444.2,429.6L447.8,427.4L456.2,424.2L466.2,422.9L477.8,423.9L486,426.2L493.2,430.2L499.1,435.2L504.2,441.9L508.4,450.2L512.1,461.2L515.6,477.8L517,490.2L516.9,504.8L515.8,512.2L514.3,518.2L510.3,527.2L504.2,534.7L500.2,538.1L496.7,540.2L492.5,542.2Z"/>
<path fill="rgb(196,215,25)" d="M908.9,305.8L905.2,308.6L902.8,309.5L899.8,309.2L897.2,307.6L894.8,304.8L892,300.2L885.5,286.2L882.3,280.8L877.3,274.8L872.8,271L866.8,267.5L857.2,263.4L851.2,261.5L838.8,258.5L833.2,256.6L830,254.8L826.1,251.2L823.5,247.8L821.4,243.2L820.3,238.8L819.9,234.2L820.5,229.2L822,224.8L824.2,220.7L827.2,217.2L830.4,214.8L833.8,212.9L841.8,210.5L846.2,210L853.8,209.8L862.8,210.8L874.8,213.5L881.2,215.8L886.6,218.2L896.8,224.6L902.7,230.2L906.2,234.6L909.3,239.2L914.9,250.2L919.2,263.8L921.2,275.8L921.2,285.2L919.5,292.2L916,298.2ZM366.3,292.2L362.8,285.7L360.5,277.2L360,269.8L361.9,259.2L365.8,249.5L370.2,241.9L376.6,234.2L380.8,230.2L384.8,227.3L392.3,223.2L404.6,218.8L429.3,212.8L440.2,211.3L449.2,211.6L453.8,212.5L457.8,213.9L464.7,218.2L470.8,225L473.7,230.8L475.3,236.8L475.8,244.2L475.2,251.8L473.3,257.2L470.2,262.1L466.4,266.2L460.8,270.6L455,273.8L447.2,276.7L428.8,281L422.8,282.9L416.2,286L397.2,296.8L391.8,299.2L387.2,300.7L381.2,301.1L375.8,299.7L370.8,296.8ZM791.8,535.4L783.8,532.3L775.6,526.8L768.1,518.8L764.8,513.8L762.1,508.2L759.9,501.2L759,492.2L760.1,481.8L762.7,468.8L765.7,458.8L771.2,446.6L777.6,437.2L785.3,429.8L792.8,424.5L797.2,422.3L801.8,420.9L809.8,419.9L816.2,420L820.2,420.7L826.9,423.2L830.1,425.2L832.3,427.2L836.2,433.2L838.7,441.8L840,452.2L840,465.2L838.3,481.2L835.4,495.8L832.6,505.2L828.9,513.8L824.8,520.2L819.4,526.2L812.3,531.2L804.8,534.7L799.2,535.8ZM487.8,543.4L479.8,544.6L471.8,544.3L463.2,542.4L454.8,538.5L447.9,533.2L441.6,526.2L436.8,518.2L433.6,509.8L431.3,498.2L429.4,477.8L429.6,463.8L430.6,455.8L432,449.2L433.8,444.2L436,439.8L441.2,432.9L444.3,430.2L447.8,428L456.2,424.8L466.2,423.4L477.2,424.3L485.8,426.7L492.8,430.5L498.8,435.7L503.9,442.2L507.8,450.2L511.5,461.2L515.1,477.8L516.5,490.2L516.4,504.2L515.4,511.8L513.9,517.8L510,526.8L504.2,534.1L500.2,537.6L496.8,539.8L492.7,541.8Z"/>
<path fill="rgb(212,215,25)" d="M908.2,305.6L904.8,308.2L902.2,309L899.8,308.6L897.2,306.8L892.3,299.8L886.1,286.2L883,280.8L878.1,274.8L873.2,270.6L867.8,267.4L857.8,263L833.8,256.2L830.2,254.2L826.4,250.8L823.8,247L821.8,242.8L820.8,238.2L820.5,233.8L821.2,228.8L822.6,224.8L825.2,220.3L827.9,217.2L834.2,213.2L842.8,210.8L854.2,210.4L863.2,211.4L875.2,214.2L886.3,218.8L896.2,225L902.4,230.8L905.8,234.9L908.9,239.8L914.3,250.2L918.8,264.1L920.6,275.8L920.6,285.2L918.9,292.2L915.2,298.2ZM366.7,291.8L363,284.8L361,276.8L360.6,269.2L362.6,258.8L366.8,248.8L371.2,241.6L377.2,234.4L381.7,230.2L385.2,227.8L393.7,223.2L404.8,219.2L429.7,213.2L440.2,211.9L449.4,212.2L457.8,214.6L464.2,218.6L470.2,225.3L473.2,231.2L474.8,237.1L475.3,244.8L474.6,251.8L472.8,257.1L469.8,261.8L466.1,265.8L460.3,270.2L453.5,273.8L446.8,276.2L428.2,280.5L422.2,282.5L416.2,285.4L396.9,296.2L387.2,300.1L381.2,300.5L375.8,299.1L371,296.2ZM791.8,534.9L783.8,531.8L775.8,526.2L768.4,518.2L765.1,513.2L762.5,507.8L760.4,500.8L759.5,491.8L760.7,481.2L763.2,468.8L766.2,458.8L771.8,446.8L778.2,437.3L785.8,430L793.2,424.8L801.8,421.4L809.8,420.4L816.2,420.5L820.2,421.3L827.2,424.1L832.2,427.9L835.8,433.8L838.2,442L839.5,452.2L839.5,465.2L837.8,481.2L834.9,495.8L832.2,504.8L828.6,513.2L824.8,519.4L819.2,525.8L812.2,530.8L804.8,534.2L798.8,535.3ZM486.8,543.2L478.8,544.2L470.8,543.7L462.8,541.7L454.5,537.8L448.1,532.8L441.5,525.2L436.9,517.2L433.8,508.8L431.7,497.2L430,477.8L430.1,463.8L431.1,455.8L432.6,449.2L436.3,440.2L441.8,433.2L445.1,430.2L448.2,428.3L456.8,425.2L466.8,423.9L477.2,424.9L485.7,427.2L492.8,431.1L498.6,436.2L503.5,442.8L507.5,450.8L511.1,461.8L514.7,478.2L516,490.8L515.8,504.8L514.8,512.2L513.2,518.2L509.5,526.8L503.4,534.2L499.8,537.4L495.8,539.8L491.5,541.8Z"/>
<path fill="rgb(227,215,25)" d="M907.8,305.2L904.8,307.5L902.2,308.3L899.8,307.9L897.5,306.2L892.8,299.3L886.8,286.2L883.4,280.2L878.5,274.2L873.8,270.2L868.2,267L858.2,262.5L833.8,255.5L830.2,253.5L826.8,250.2L824.3,246.8L822.4,242.8L821.4,238.2L821.1,233.8L821.8,229.2L823.2,224.8L825.6,220.8L828.2,217.7L834.3,213.8L842.8,211.4L854.2,210.9L863.2,212L874.8,214.8L886,219.2L895.8,225.4L902,231.2L905.3,235.2L908.5,240.2L913.8,250.8L918.2,264.6L920,275.8L920,285.2L918.4,291.8L914.9,297.8ZM367.1,291.2L363.7,284.8L361.6,276.8L361.3,269.2L363.2,258.8L367.2,249.2L371.8,241.9L377.8,234.8L385.5,228.2L394.1,223.8L405.1,219.8L430.2,213.8L440.2,212.5L449.2,212.8L453.8,213.8L457.7,215.2L464,219.2L469.8,225.6L472.6,231.2L474.1,237.2L474.6,244.8L474,251.8L472.2,256.8L469.2,261.4L465.8,265.3L459.9,269.8L454.3,272.8L447.8,275.3L428.2,279.8L422.2,281.8L415.8,284.9L396.5,295.8L387.2,299.4L381.8,299.9L376.2,298.6L371.4,295.8ZM791.8,534.4L784.2,531.5L776.1,525.8L768.8,517.8L765.7,513.2L763,507.8L760.9,500.8L760,492.2L761.1,481.8L763.8,468.9L766.8,458.9L772.2,446.9L778.2,438.1L785.8,430.7L793.2,425.4L801.8,422L809.2,421L815.8,421L820,421.8L826.8,424.4L831.8,428.2L835.2,433.8L837.8,442.2L839,452.2L838.9,465.2L837.2,481.1L834.3,495.8L831.6,504.8L828,513.2L824.2,519.2L818.8,525.4L812.1,530.2L804.8,533.7L798.8,534.9ZM486.8,542.7L478.8,543.8L470.9,543.2L462.8,541.2L454.8,537.3L448.3,532.2L442.1,525.2L437.5,517.2L434.4,508.8L432.2,497.2L430.5,477.8L430.6,463.8L431.5,456.2L433,449.8L436.8,440.6L441.9,433.8L448.2,428.9L456.8,425.7L466.8,424.5L477.2,425.4L485.2,427.6L492.2,431.4L498.2,436.7L503.2,443.2L507.1,451.2L510.7,462.2L514.1,478.2L515.5,490.8L515.4,504.2L514.3,511.8L512.8,518L509.2,526.2L503.2,533.8L499.2,537.2L495.8,539.3L491.6,541.2Z"/>
<path fill="rgb(242,215,25)" d="M907.3,304.8L904.7,306.8L902.2,307.6L899.8,307.1L897.8,305.6L893.2,298.8L887.5,286.2L884.1,280.2L879.2,274.2L874.2,269.8L867.8,266L858.2,261.8L834.2,255L831,253.2L827.7,250.2L825.2,247.1L823.2,243.1L822.1,238.8L821.7,234.2L822.3,229.8L823.7,225.2L826,221.2L828.8,218.1L834.8,214.2L842.8,212L854.2,211.6L863.2,212.7L874.3,215.2L885.6,219.8L895.2,225.8L901.6,231.8L907.8,240.2L913.2,251L917.6,264.8L919.4,275.8L919.4,285.2L917.7,291.8L914.2,297.5ZM367.2,290.3L363.8,283L362.1,275.2L361.8,271.2L362.2,266.8L364.1,258.2L368,249.2L372.8,241.7L378.8,234.8L383.2,230.8L386.8,228.3L395.8,223.8L405.7,220.2L429.8,214.6L440.2,213.1L449.2,213.5L457.2,215.8L463.6,219.8L469.2,226.1L472,231.8L473.6,237.8L474,245.2L473.3,251.8L471.5,256.8L468.5,261.2L464.8,265.2L459.4,269.2L453.8,272.2L447.3,274.8L428.2,279.2L422.2,281.1L416.2,283.9L396,295.2L386.8,298.9L381.2,299.2L376,297.8L371.2,294.8ZM791.8,533.9L784.2,530.9L776.4,525.2L769.2,517.6L766.1,512.8L763.4,507.2L761.3,500.2L760.5,491.8L761.7,481.8L764.2,469.2L767.2,459.2L772.7,447.2L778.8,438.3L785.9,431.2L793.2,426L801.8,422.5L809.2,421.5L815.8,421.6L819.8,422.2L826.3,424.8L829.4,426.8L831.5,428.8L834.8,434.2L837.2,442.5L838.4,452.2L838.4,465.2L836.8,480.8L833.8,495.8L831,504.8L827.4,513.2L823.5,519.2L818.2,525.1L811.8,529.8L804.4,533.2L798.8,534.4ZM486.8,542.3L478.8,543.3L470.8,542.8L462.8,540.8L455.2,537L448.8,532L442.4,524.8L437.8,516.8L434.8,508.2L432.7,496.8L431,477.2L431.2,463.8L432.1,456.2L433.5,449.8L437.3,440.8L442.2,434.2L445.6,431.2L448.8,429.3L456.8,426.3L466.8,425L477.2,425.9L485.2,428.2L492.2,432.1L497.8,436.9L502.8,443.5L506.7,451.8L510.1,462.2L513.6,478.2L515,490.8L514.8,504.2L513.8,511.8L512.3,517.8L508.6,526.2L502.8,533.6L499,536.8L494.9,539.2Z"/>
<path fill="rgb(255,214,25)" d="M907.2,303.9L904.2,306.2L902.2,306.9L900.2,306.6L898.2,305.1L894,298.8L888,285.8L884.6,279.8L879.3,273.2L874.2,269L867.2,265L858.2,261.1L834.2,254.3L831.2,252.6L828.1,249.8L825.8,246.6L823.8,242.8L822.8,238.8L822.4,234.2L823,229.8L824.2,225.7L826.5,221.8L829.2,218.5L835,214.8L842.8,212.6L854.2,212.2L862.8,213.2L873.8,215.8L885.1,220.2L894.7,226.2L901.2,232.2L907.3,240.8L912.8,251.5L916.8,264.2L918.7,275.8L918.7,284.8L917.2,291.2L914,296.8ZM367.8,289.8L364.2,282.2L362.7,274.2L363,266.2L364.9,258.2L368.8,249.3L373.8,241.5L380.2,234.3L387.3,228.8L396.4,224.2L406.4,220.8L430.2,215.2L440.8,213.8L449.4,214.2L457.2,216.6L463.2,220.4L468.8,226.6L471.3,231.8L472.8,237.8L473.3,244.8L472.7,251.2L471.2,255.8L468.2,260.5L464.8,264.3L459.2,268.5L453.1,271.8L447.2,274L427.8,278.6L421.8,280.5L415.8,283.4L395.4,294.8L386.8,298.1L381.2,298.5L376.2,297.1L371.8,294.2ZM792.2,533.5L785.1,530.8L777.2,525.2L769.8,517.3L766.7,512.8L764.2,507.8L762,500.8L761.1,492.2L762.2,481.8L764.7,469.8L767.8,459.3L773.2,447.4L779.1,438.8L786.1,431.8L793.8,426.3L801.8,423.1L808.8,422.1L815.2,422.1L819.5,422.8L826.2,425.4L829.2,427.2L831.2,429.2L834.4,434.8L836.7,442.8L837.9,452.2L837.9,464.8L836.2,480.4L833.5,494.8L830.8,503.9L827.2,512.3L823.6,518.2L818.4,524.2L812.5,528.8L805.2,532.4L799.2,533.8ZM486.8,541.7L478.8,542.8L471.2,542.3L463.2,540.4L455.8,536.7L449.2,531.7L443.1,524.8L438.6,517.2L435.4,508.2L433.2,496.8L431.6,477.8L431.7,463.8L432.6,456.2L434,450.2L437.6,441.2L442.5,434.8L448.8,429.9L456.8,426.8L466.8,425.6L476.8,426.4L484.8,428.6L491.8,432.4L497.3,437.2L502.3,443.8L506.1,451.8L509.6,462.2L513,478.2L514.4,490.8L514.3,504.2L513.3,511.2L511.8,517.2L508.2,525.7L502.8,532.9L498.8,536.2L494.8,538.7Z"/>
<path fill="rgb(255,209,22)" d="M906.8,303.4L904.2,305.3L902.2,306L900.2,305.7L898.4,304.2L894.5,298.2L888.6,285.2L885.2,279.2L879.8,272.8L874.8,268.5L867.8,264.5L858.8,260.6L834.8,253.8L831.8,252.1L828.8,249.4L826.2,246L824.4,242.2L823.3,237.8L823.1,233.8L823.8,229.2L825.2,225.3L827.4,221.8L830,218.8L835.8,215.2L843.8,213.1L854.8,212.9L863.8,214.2L874.4,216.8L885.5,221.2L894.2,226.8L900.7,232.8L906.8,241.2L912.2,252.2L916.2,265L918,275.8L918,284.8L916.4,291.2L913.2,296.5ZM368.7,289.8L365.2,282.8L363.6,275.2L363.6,267.2L365.5,258.8L369.1,250.2L373.8,242.8L379.3,236.2L387.2,229.8L395.9,225.2L406.8,221.4L430.2,215.9L439.8,214.6L448.8,214.9L456.2,216.9L462.5,220.8L467.9,226.8L470.5,231.8L472.1,237.8L472.5,244.8L471.9,251.2L470.3,255.8L467.5,260.2L464.2,263.8L459.1,267.8L453.2,270.9L447.2,273.2L427.8,277.8L421.2,279.9L414.8,283.1L395.2,294L386.8,297.4L381.8,297.8L377.2,296.6L372.8,294ZM792.2,532.9L785.2,530.2L777.5,524.8L770.2,517L767.1,512.2L764.6,507.2L762.5,500.2L761.7,492.2L762.8,482L765.2,469.8L768.2,459.6L773.7,447.8L779.4,439.2L786.4,432.2L793.8,427L801.8,423.7L808.8,422.6L815.2,422.7L819.2,423.3L825.8,425.8L828.8,427.7L830.8,429.6L833.8,434.8L836.1,442.8L837.3,452.2L837.3,464.8L835.8,479.8L832.8,495.2L830.2,503.8L826.6,512.2L823.2,517.8L818.1,523.8L812.2,528.2L805.2,531.8L799.2,533.3ZM486.6,541.2L478.8,542.3L471,541.8L463.1,539.8L455.2,535.7L449.2,530.9L443.1,523.8L438.8,516.2L435.8,507.8L433.8,496.3L432.1,477.8L432.2,464.2L433.1,456.8L434.4,450.8L438,441.8L442.8,435.2L446.2,432.2L449.2,430.3L457.2,427.3L466.8,426.1L476.8,427L484.8,429.2L491.2,432.8L497,437.8L501.8,444L505.7,452.2L509.1,462.8L512.5,478.2L513.9,490.8L513.7,504.2L512.7,511.2L511.3,517.2L507.8,525.5L502.1,532.8L498.6,535.8L494.6,538.2Z"/>
<path fill="rgb(255,205,20)" d="M906.3,302.8L904.2,304.4L902.2,305.1L900.3,304.8L898.8,303.4L895.2,298L889.5,285.2L885.8,278.8L880.8,272.6L875.8,268.3L868.8,264.1L859.8,260.1L853.2,257.9L840.2,254.8L835.2,253.1L831.9,251.2L829.2,248.8L826.8,245.4L825.2,242.2L824.2,238.2L823.9,233.8L824.5,229.8L825.9,225.8L828.2,221.8L830.6,219.2L836.2,215.8L843.8,213.9L854.8,213.7L863.8,214.9L873.8,217.4L884.7,221.8L893.6,227.2L900.2,233.4L906.2,241.9L911.7,252.8L915.3,264.2L917.2,275.8L917.2,284.8L915.8,290.8L912.8,295.9ZM369.2,289.2L365.8,281.8L364.3,274.2L364.5,266.8L366.3,258.8L369.8,250.7L374.8,242.8L380.2,236.5L387.9,230.2L395.8,226.2L406.8,222.2L430.2,216.8L439.8,215.4L448.8,215.7L456.1,217.8L461.9,221.2L467.3,227.2L469.8,232.1L471.3,237.8L471.7,244.8L471.1,251.2L469.5,255.8L466.8,259.9L463.2,263.6L458.4,267.2L452.8,270.2L447.7,272.2L427.2,277.1L420.8,279.3L414.2,282.4L395,293.2L386.8,296.5L381.8,297L377.2,295.8L373.1,293.2ZM792,532.2L784.8,529.2L777.8,524.2L770.8,516.7L767.8,512.2L765.1,506.8L763.1,500.2L762.2,492.2L763.3,482.2L765.9,469.8L769.2,458.8L774.2,448L780.2,439.2L787.2,432.2L794.5,427.2L802.2,424.1L810.2,423.2L815.8,423.3L819.8,424.1L826.2,426.8L830.5,430.2L833.6,435.8L835.7,443.8L836.7,452.8L836.7,464.8L835.2,479L832.2,494.8L829.8,503.2L826.2,511.8L822.8,517.4L817.7,523.2L811.9,527.8L804.8,531.4L798.8,532.7ZM486.2,540.7L478.8,541.8L471.2,541.2L463.4,539.2L455.8,535.4L449.8,530.6L443.8,523.7L439.4,516.2L436.4,507.8L434.3,496.2L432.7,477.8L432.8,464.2L433.7,456.8L434.9,451.2L438.4,442.2L443.2,435.8L449.2,431L457.2,427.9L466.8,426.7L476.2,427.5L484.2,429.7L490.8,433.2L496.2,437.9L501.2,444.4L505.2,452.7L508.5,462.8L511.8,477.8L513.3,490.8L513.2,503.8L512.2,510.8L510.8,516.9L507.2,525.2L501.8,532.2L498.2,535.3L494.3,537.8Z"/>
<path fill="rgb(255,200,17)" d="M906.1,301.8L903.8,303.6L902.2,304.1L900.8,303.8L899.2,302.7L895.8,297.2L890.2,284.8L886.5,278.2L881.2,271.9L876.2,267.6L870.2,263.9L862.8,260.4L853.2,257L836.8,252.8L833.2,251.1L830.2,248.6L827.8,245.4L826.2,242.2L825.2,238.8L824.7,234.2L825.2,230.3L826.4,226.8L828.3,223.2L830.8,220.2L836.2,216.8L843.8,214.8L854.8,214.6L863.4,215.8L873.7,218.2L883.8,222.2L892.8,227.7L899.2,233.6L905.2,241.9L910.8,252.8L914.2,263.7L916.3,275.2L916.4,284.2L915.2,289.8L912.2,295.1ZM369.8,288.3L366.5,281.2L365.1,273.8L365.4,266.2L367.3,258.8L370.8,250.7L375.8,242.9L381.2,236.8L388.7,230.8L396.6,226.8L408.1,222.8L430.2,217.6L439.8,216.2L448.2,216.5L455.8,218.5L461.7,222.2L466.8,228L469.1,232.8L470.5,238.2L470.9,244.8L470.2,251L468.8,255.2L466.2,259.2L462.9,262.8L458.2,266.3L452.8,269.3L447.2,271.5L427.2,276.2L420.2,278.6L414.2,281.5L394,292.8L386.2,295.7L381.8,296.1L377.2,294.8L373.2,292.2ZM792.2,531.7L785.2,528.8L778.3,523.8L771.2,516.2L768.2,511.8L765.7,506.8L763.8,500.2L762.9,492.2L764,481.8L766.6,469.2L770.2,457.8L775.2,447.5L780.8,439.5L787.6,432.8L794.9,427.8L802.5,424.8L810.8,423.9L815.8,424L819.8,424.7L825.8,427.2L828.2,428.9L830.2,431L833.2,436.8L835.2,444.8L836.1,452.8L836,465.2L834.2,481.2L831.4,495.2L828.8,504L825.2,512.1L821.8,517.7L817.2,522.8L811.5,527.2L804.5,530.8L798.8,532ZM486.8,540L479.2,541.1L472,540.8L463.8,538.8L456.7,535.2L450.3,530.2L444.5,523.8L440.2,516.6L437.2,508.2L435,496.8L433.3,477.8L433.4,464.8L435.2,452.5L438.2,444L440.2,440.4L442.8,437.2L445.8,434.2L449.2,431.8L456.8,428.7L466.2,427.4L475.8,428.1L483.8,430.2L490.4,433.8L495.8,438.3L500.8,444.8L504.2,451.9L507.8,462.4L511.2,478.1L512.7,490.8L512.6,503.8L511.7,510.2L510.3,516.2L507,524.2L501.8,531.5L498.2,534.5L494.8,536.8Z"/>
<path fill="rgb(255,195,15)" d="M905.7,300.8L902.2,302.8L901.2,302.7L899.8,301.6L896.8,296.8L891.1,284.2L887.4,277.8L882,271.2L876.8,266.7L870.8,263L863.2,259.5L853.8,256.1L837.2,251.9L833.8,250.3L831.2,248.2L828.8,245L827,241.8L826.1,238.2L825.7,234.2L826.2,230.5L827.3,227.2L829.2,223.7L831.7,220.8L836.5,217.8L843.9,215.8L854.8,215.6L863.3,216.8L873.5,219.2L883.6,223.2L891.8,228.2L898.8,234.6L904.3,242.2L909.8,253L913.2,263.9L915.3,274.8L915.4,283.8L914.2,289.4L911.2,294.7ZM370.6,287.8L367.2,280.3L366.1,273.2L366.5,266.2L368.2,258.9L371.8,250.9L376.8,243.3L381.6,237.8L389,231.8L396.7,227.8L408,223.8L430.2,218.5L439.8,217.2L448.2,217.4L455.2,219.3L460.9,222.8L465.8,228.2L468.1,232.8L469.6,238.2L470,244.8L469.4,250.8L468,254.8L465.2,259L462.1,262.2L457.4,265.8L451.8,268.8L446.6,270.8L426.8,275.4L420.2,277.6L413.2,280.9L393.8,291.8L386.2,294.7L381.8,295.1L377.8,293.9L373.8,291.3ZM792.2,530.9L785.7,528.2L778.8,523.2L771.7,515.8L768.7,511.2L766.2,506.2L764.3,499.2L763.6,492.2L764.7,481.8L767.2,469.8L770.2,459.7L775.2,448.9L780.8,440.6L787.5,433.8L794.5,428.8L802.2,425.5L809.2,424.6L815.2,424.7L818.8,425.2L825.1,427.8L829.2,431L832.2,436.2L834.3,443.8L835.3,452.2L835.3,464.8L833.8,479.7L830.8,495L828.2,503.2L824.8,511.5L821.2,517.1L816.8,522.2L810.9,526.8L804.2,530.1L798.8,531.3ZM486.2,539.4L478.8,540.5L471.2,540L463.8,538L456.3,534.2L450.2,529.3L444.8,522.9L440.8,516.1L437.7,507.8L435.7,496.8L434,477.8L434.1,464.8L435.8,453.2L438.8,444.5L440.8,440.9L443.2,437.7L446.2,434.8L449.7,432.2L457.2,429.2L466.2,428L475.5,428.8L483.2,430.8L489.9,434.2L495.2,438.8L500.2,445.4L503.8,452.5L507.2,463.1L510.6,478.2L512.1,490.8L511.9,503.8L509.8,515.8L506.3,524.2L501.2,531.1L494.2,536.3Z"/>
<path fill="rgb(255,190,13)" d="M905.2,299.2L902.2,301L900.2,299.8L897.8,295.8L892.4,283.8L888.4,276.8L882.9,270.2L877.2,265.4L870.8,261.4L863.2,258L853.8,254.6L838.2,250.8L834.8,249.2L832.2,247.2L829.8,244L828.2,241L827.1,234.2L827.7,230.2L828.8,227.3L830.6,224.2L832.7,221.8L837.7,218.8L844.8,217L854.8,216.9L863.8,218.2L872,220.2L882.5,224.2L890.8,229.2L897.2,235L903.2,243.2L908.2,253L911.3,261.8L913.8,273.8L914.1,282.8L913.2,288.2L910.6,293.2ZM371.8,287.1L368.8,280.6L367.4,272.8L367.8,266.2L369.8,258.6L372.8,251.8L377.8,244L382.4,238.8L389.7,232.8L397.4,228.8L408.6,224.8L429.5,219.8L439.8,218.2L447.8,218.4L454.8,220.3L460.2,223.6L465.2,229.2L467.2,233.5L468.6,238.8L468.9,245.2L468.2,250.8L466.8,254.8L464.4,258.2L461.6,261.2L457,264.8L451.4,267.8L446.3,269.8L426.2,274.4L418.8,276.9L392.9,290.8L386.2,293.3L382.2,293.8L378.4,292.8L374.8,290.4ZM792.8,530.2L785.8,527.4L779.2,522.6L772.3,515.2L769.3,510.8L767.1,506.2L765.2,499.8L764.3,492.2L765.4,482.8L767.8,470.8L771.2,459.3L776.2,448.7L781.6,440.8L788,434.2L795.1,429.2L802.6,426.2L810.2,425.4L815.2,425.5L819.2,426.2L825.1,428.8L829.1,432.2L831.8,437.4L833.8,445.8L834.5,453.2L834.5,465.2L833.2,477.3L830.1,494.2L827.8,502.1L824.2,510.6L821.2,515.7L816.8,521.1L811.7,525.2L804.8,529L798.8,530.5ZM486.1,538.8L478.8,539.8L471.2,539.3L463.8,537.3L456.8,533.7L450.7,528.8L445.2,522.4L441.2,515.5L438.2,507L436.3,495.8L434.7,477.8L434.8,464.8L436.8,452.5L439.8,444.2L441.8,440.8L444.2,437.8L450.2,432.9L457.8,429.9L467.2,428.8L476.2,429.7L483.5,431.8L489.9,435.2L495,439.8L499.8,446.1L503.2,453.3L506.8,464.2L509.8,477.8L511.4,490.8L511.2,503.5L509,515.8L505.8,523.7L500.8,530.6L493.8,535.8Z"/>
<path fill="rgb(255,185,10)" d="M374.1,285.2L371.2,278.7L370.2,272.2L370.8,265.4L372.8,258.1L376.2,250.7L380.8,244L387.2,237.2L392.7,233.2L400.9,229.2L410.8,225.8L431.1,220.8L439.8,219.5L447.8,219.8L454.6,221.8L459.4,224.8L463.8,229.8L465.8,233.8L467.2,239.2L467.5,245.2L466.9,250.2L465.7,253.8L463.2,257.5L460,260.8L456,263.8L450.4,266.8L444.9,268.8L425.8,273L417.8,275.5L392.1,288.2L385.8,290.5L382.8,290.9L379.8,290.1L376.8,288.2ZM906.2,294.4L903.2,296.7L902.2,296.7L901.2,296L899.2,292.8L894,281.2L889.8,274.2L883.5,267.2L878.2,263L871.8,259.1L864.2,255.6L854.2,252.1L839.2,248.4L836.2,247.1L834.2,245.6L832.2,243.1L830.8,240.3L829.7,234.8L830.8,229.2L834,224.2L838.2,221.3L844.8,219.6L853.8,219.4L861.2,220.4L871.4,222.8L880.7,226.2L887.8,230.3L894.2,235.5L899.8,242.5L904.8,251.4L908.2,260.6L910.3,268.8L911.6,277.2L911.4,284.8L909.7,289.8ZM792.8,529.2L785.8,526.3L779.6,521.8L772.8,514.4L770,510.2L767.8,505.5L766,499.2L765.3,492.2L766.3,482.8L768.8,470.5L772.2,459.3L777.2,448.8L782.4,441.2L788.7,434.8L795.8,429.9L802.8,427.2L809.8,426.4L815.2,426.6L818.7,427.2L824.5,429.8L828.2,433.1L830.8,438.2L832.8,446.5L833.5,453.8L833.4,465.2L831.8,480.1L828.8,494.8L826.2,503.1L823.2,510.3L820.2,515.3L815.8,520.6L809.8,525.2L803.9,528.2L798.2,529.5ZM485.8,538L478.2,539L471.2,538.5L464.2,536.6L456.8,532.8L450.8,527.7L445.8,521.8L442.2,515.7L439.1,507.2L437.1,496.2L435.5,477.8L435.6,465.2L437.2,454.1L440.2,445.3L444.2,439.1L447.7,435.8L450.6,433.8L458,430.8L467.2,429.7L476.2,430.6L483.3,432.8L490.2,436.8L494.9,441.2L499.8,448.1L503.2,455.9L506.8,467.4L509.4,479.8L510.7,491.8L510.4,503.8L509.5,510.2L508.1,516.2L504.8,523.8L499.9,530.2L493,535.2Z"/>
<path fill="rgb(255,178,9)" d="M381.2,278.8L379.5,274.2L379,268.2L380.1,260.8L382.4,254.2L385.9,247.8L390.7,241.2L395.8,236.8L401,233.2L409.2,229.2L418.9,225.8L432.2,222.4L440.8,221.3L447.8,221.7L453.9,223.8L458.4,226.8L462.5,231.8L464.2,235.7L465.3,240.2L465.4,245.8L464.7,250.2L463.2,253.8L460.8,257.2L457.2,260.4L453.8,262.8L447.8,265.7L442.2,267.5L415.2,272.9L387.8,280.8L383.8,280.9L382.2,280ZM905.2,286.6L904.2,287.5L902.8,287L893,270.2L885.8,262.7L880.8,258.8L874.2,254.8L866.2,251.1L855.8,247.4L841.8,244L837.8,241.9L835.5,238.8L834.7,235.2L835.2,231.5L837.1,228.2L840.7,225.8L845.8,224.4L853.2,224.3L860.6,225.2L869.3,227.2L877.8,230.3L883.2,233.3L889.4,237.8L892.8,241.2L896.6,246.8L900.4,253.8L902.8,259.6L905.3,268.8L906.6,277.2L906.6,282.8ZM792.8,527.9L786.2,525.2L779.8,520.4L773.8,514L771.2,510.2L768.8,505.2L767,498.8L766.4,492.2L767.4,482.8L769.7,471.2L773.2,459.8L777.8,450.3L782.8,442.6L788.8,436.1L795.6,431.2L802.2,428.6L808.8,427.6L817.2,428.4L823,430.8L826.8,434L829.2,438.8L831.3,446.8L832.1,453.8L832.1,464.8L830.8,477.2L827.8,493.1L825.2,501.5L822.2,509L819.2,514.2L815.1,519.2L810.3,523.2L804.1,526.8L798.2,528.2ZM485.8,537L478.8,538.1L471.8,537.6L464.5,535.8L457.7,532.2L451.6,527.2L446.8,521.6L442.8,514.8L440,506.8L437.9,495.2L436.4,477.8L436.6,465.2L438.2,454.5L441.2,445.8L445.2,439.8L451.1,434.8L458.2,431.8L467.2,430.7L475.9,431.8L483.5,434.2L489.8,438.2L495.2,443.8L499.2,449.9L502.8,457.8L506.2,469.3L508.8,481.2L509.9,492.2L509.6,503.8L508.7,509.8L507.2,515.8L504.2,522.8L499.2,529.5L492.8,534.3Z"/>
<path fill="rgb(255,170,8)" d="M389.2,267.8L388.7,263.8L390,257.2L392.1,251.8L395.5,245.8L399.3,241.2L403.7,237.2L408.8,233.8L414.8,230.6L422.2,227.6L431.8,224.9L438.8,223.8L444.2,223.8L449.8,224.9L454.6,227.2L458.4,230.8L460.9,234.8L462.3,238.8L462.8,242.8L462.5,247.2L461.3,251.2L459.2,254.8L456.4,257.8L453.2,260.1L448.2,262.8L443.8,264.5L437.2,266.2L421.8,268.1L393.8,269.3L390.8,269ZM793.2,526.3L786.8,523.8L781.2,520L775.1,513.8L770.8,506.4L768.7,500.2L767.8,493.2L768.4,484.8L770.3,474.8L773.7,462.8L777.2,454.4L782.8,444.9L788.2,438.3L794.8,433.2L800.8,430.6L807.8,429.3L815.2,430L820.8,432.1L824.8,435.3L827.4,440.2L829.5,448.2L830.3,455.2L830.2,464.7L829.1,475.8L826.2,491.2L823.8,499.8L820.9,507.2L817.9,512.8L814,517.8L809.3,521.8L803.8,525L798.2,526.5ZM485.2,536L478.2,537L471.8,536.5L464.9,534.8L458.1,531.2L452.2,526.5L447.8,521.2L444,514.8L441,506.2L438.8,494.2L437.5,477.8L437.7,465.8L439.4,455.2L442.2,446.9L446.2,440.8L451.8,436L458.8,433L467.2,432L475.2,433.1L482.2,435.5L488.8,439.8L494.8,446.1L498.8,452.4L502.2,460.4L505.8,471.8L508,482.8L508.9,493.8L508.5,504.8L506.2,515.8L503,522.8L498.2,528.9L492.2,533.3Z"/>
<path fill="rgb(255,162,7)" d="M399.8,258.2L399.4,255.2L400.7,251.2L404,245.2L407.4,240.8L411,237.2L415.2,234.2L420.2,231.5L425.8,229.3L432.2,227.4L437.8,226.4L442.2,226.3L446.8,226.9L450.8,228.3L454.2,230.5L457.1,233.8L458.9,237.2L459.8,240.8L459.9,244.8L459.2,248.6L457.9,251.8L455.6,254.8L452.7,257.2L444.2,261.6L433.8,264.1L426.8,264.7L420.8,264.5L413.8,263.6L407,261.8L401.8,259.9ZM793.8,524.5L787.8,522.4L782.2,518.9L776.5,513.2L772.8,507.2L770.5,501.2L769.4,493.8L769.8,486.2L771.3,477.2L773.8,467.7L777.2,458.2L782.7,447.8L787.9,440.8L793.2,436L799.2,432.7L806.2,431.2L813.2,431.8L818.8,433.7L822.7,436.8L825.2,441.4L827.3,448.8L828.2,455.2L828.3,463.8L827.2,474.2L824.7,487.8L822.5,496.8L819.7,504.8L816.8,510.7L813.5,515.2L809.2,519.3L803.8,522.9L798.8,524.5ZM484.2,534.9L477.8,535.8L470.8,535.1L464.2,533.2L457.9,529.8L452.2,524.9L448.2,519.8L444.8,513.8L442,505.2L439.8,492.2L438.7,477.2L439.1,465.8L440.8,455.8L443.6,447.8L447.5,441.8L452.8,437.2L459.8,434.3L467.8,433.5L475.2,434.8L482.2,437.6L488.6,442.2L494.2,448.6L498.5,455.8L502.2,464.7L505.6,476.2L507.4,486.2L507.9,497.8L507,507.8L504.8,516.3L501.8,522.5L497.1,528.2L491.2,532.4Z"/>
<path fill="rgb(255,154,7)" d="M409.4,253.8L408.9,251.2L409.6,248.2L411.6,243.8L414,240.2L417.1,237.2L420.6,234.8L429.2,230.8L434.2,229.5L439.2,228.8L443.2,228.9L446.8,229.6L449.8,230.9L452.8,233L455.1,235.8L456.4,238.8L457.1,241.8L457.1,245.2L456.3,248.2L454.8,251.2L452.7,253.8L450.2,255.8L442.2,259.6L433.2,261.5L427.8,261.8L423.2,261.4L418.9,260.2L415.4,258.8L411.7,256.2ZM793.8,522.5L788.2,520.8L783.2,517.7L778.1,512.8L774.4,507.2L772.1,501.2L771.1,494.8L771.3,487.2L772.4,479.2L774.8,469.8L778.2,460L783.1,450.2L788.2,442.8L792.8,438.2L798.2,434.8L804.8,433.2L810.8,433.5L816.2,435.1L820.2,437.8L822.8,441.8L824.9,448.2L826.1,454.8L826.3,462.8L825.5,471.2L823.4,483.2L821.4,492.8L818.8,501.2L816,507.8L812.8,512.8L808.6,517.2L803.2,520.9L798.2,522.6ZM484.2,533.6L477.8,534.5L471.2,534L464.8,532.1L458.8,528.8L453.3,524.2L449.3,519.2L446,513.2L443.3,505.2L440.9,491.8L440,477.2L440.4,466.2L442.1,456.8L444.8,449L448.4,443.2L453.8,438.5L460.2,435.7L467.8,435.1L474.2,436.3L480.8,439L487.3,443.8L493,450.2L497.6,457.8L501.5,466.8L504.7,477.2L506.3,486.8L506.8,497.2L505.9,507.2L503.6,515.8L500.7,521.8L496.2,527.2L490.8,531.2Z"/>
<path fill="rgb(255,146,6)" d="M416.8,253.2L415.8,251.2L415.5,248.8L416.2,245.2L417.5,242.2L419.5,239.8L422.3,237.2L429.2,233.4L437.8,231.3L441.2,231.2L444.8,231.7L447.8,232.8L450.2,234.4L452.4,236.8L453.7,239.2L454.4,242.2L454.4,244.8L452.5,249.8L448.8,253.7L442.8,256.8L434.8,258.8L426.8,258.9L423.8,258.2L420.8,256.9ZM793.8,520.6L788.8,519.1L783.9,516.2L779.2,511.8L775.9,506.8L773.8,501.2L772.7,495.2L772.8,487.8L773.9,480.2L776.1,470.8L779.5,461.2L784.5,451.2L788.9,444.2L793.2,439.7L798.2,436.5L803.8,435.1L809.1,435.2L814.1,436.8L817.8,439L820,441.8L821.9,446.2L823.5,452.2L824.2,458.8L824,465.8L822.7,475.2L820.3,487.8L818.2,496.2L815.5,503.8L812.7,509.2L808.3,514.8L803.2,518.7L798.2,520.6ZM484.2,532.2L477.8,533.2L471.2,532.7L465.2,530.9L459.4,527.8L454.1,523.2L450.2,518.4L447.2,512.8L444.5,504.8L442.1,490.8L441.3,477.2L441.8,467L443.3,458.2L445.8,450.6L449.3,444.8L454.2,440L460.2,437.3L467.2,436.6L473.2,437.8L479.2,440.3L485.9,445.2L491.8,451.8L496.5,459.2L500.4,467.8L503.5,477.8L505.1,486.2L505.7,496.2L504.7,506.8L502.7,514.8L499.8,520.8L495.3,526.2L490.2,529.9Z"/>
<path fill="rgb(254,137,5)" d="M420.4,252.2L419.5,250.2L419.2,247.8L419.6,245.2L420.6,242.8L424.8,238.4L430.2,235.3L437.2,233.5L443.2,233.6L448.3,235.8L450.2,237.7L451.5,239.8L452.1,244.2L450.5,248.8L447.2,252.1L442.2,254.7L435.2,256.6L428.8,256.8L423.8,255.4ZM793.2,518.6L788.6,517.2L784.2,514.5L779.9,510.2L777.1,505.8L775.3,500.8L774.3,494.8L774.4,487.8L775.4,480.8L777.6,471.2L780.9,462.2L785.8,452.2L790.1,445.2L794.2,440.8L798.2,438.2L803.2,437L807.8,437L812.2,438.4L816,440.8L818,443.2L820,447.8L821.5,453.2L822.1,459.2L821.9,465.8L820.8,474.2L816.2,495.2L813.6,502.8L810.8,508.2L806.9,513.2L802.2,517L797.8,518.7ZM483.2,531.1L477.2,531.9L471.2,531.4L465.2,529.5L459.8,526.5L454.8,522.2L451,517.2L448.2,511.8L445.6,503.8L443.2,489.8L442.6,477.2L443.1,467.2L444.7,458.8L447.2,451.2L450.8,445.5L455.8,441L461.2,438.7L467.8,438.2L473.2,439.6L478.8,442.3L485.1,447.2L491.2,454.3L495.8,461.3L499.4,469.2L502.7,479.2L504.1,487.8L504.6,496.8L503.5,506.8L501.4,514.8L498.2,520.7L493.8,525.8L488.8,529.2Z"/>
<path fill="rgb(250,122,8)" d="M422.4,251.2L421.6,249.2L421.4,247.2L422.7,243.2L426.2,239.6L431.2,236.9L437.8,235.2L442.8,235.4L447.2,237.4L448.8,238.9L449.8,240.8L450.2,244.2L448.5,248.2L445.8,250.9L441.2,253.1L434.8,254.8L429.2,255L425.2,253.9ZM792.8,516.6L788.2,515.2L784.2,512.6L780.8,509L778.3,504.8L776.8,500.2L775.9,494.8L776,487.8L776.9,480.8L779.2,471.8L782.5,462.8L787.1,453.2L791.2,446.3L794.8,442.4L798.2,439.9L802.2,438.8L806.8,438.9L810.8,440.2L814.2,442.6L816.3,445.2L818.3,449.8L819.5,454.2L820.1,459.8L819.9,465.8L818.8,473.2L814.4,493.8L812,501.2L809.3,506.8L805.5,511.8L801.3,515.2L797.2,516.8ZM482.8,529.8L477.2,530.6L471.2,530.1L465.4,528.2L460.2,525.2L455.2,520.9L451.8,516.2L449.3,511.2L446.8,503.2L444.5,489.8L443.9,478.2L444.4,468.8L445.8,460.8L448.3,452.8L451.5,447.2L456.2,442.6L461.8,440.1L467.2,439.8L472.8,441.3L477.8,443.9L484.2,449.2L490.2,456.1L494.8,462.8L498.2,470L501.7,480.2L503,488.8L503.4,496.8L502.3,506.8L500.2,514.2L497.3,519.8L492.9,524.8L488.2,527.9Z"/>
<path fill="rgb(246,108,10)" d="M423.9,249.8L423.6,246.2L425.2,243.2L428.8,240.2L433.2,238.2L438.8,237L442.8,237.4L446.2,239.1L448,241.8L448,244.8L446.4,247.8L443.8,249.9L439.5,251.8L434.2,253L429.8,253.2L426.2,252.2ZM792.2,514.7L788.8,513.7L784.8,511L781.7,507.8L779.5,503.8L778.2,499.2L777.5,494.2L777.6,487.8L778.5,480.8L780.7,472.2L783.9,463.8L792.1,447.8L795.2,443.9L798.2,441.7L801.8,440.6L805.8,440.6L809.2,441.9L812.4,444.2L814.7,447.2L816.4,451.2L817.5,455.2L818,460.2L817.9,465.2L816.9,472.2L812.3,493.2L810.1,500.2L807.4,505.8L803.8,510.7L800.2,513.6L796.8,514.9ZM482.8,528.5L477.2,529.2L471.2,528.7L465.8,527L460.8,524.1L456.4,520.2L453,515.8L450.7,511.2L448.2,503.2L446.3,493.8L445.4,484.8L445.3,473.8L446.7,463.2L449.2,454.8L452,449.2L456.7,444.2L461.8,441.7L466.8,441.3L471.8,442.7L476.3,445.2L482.9,450.8L489.2,457.8L493.8,464.2L497.2,471.2L500.5,480.8L501.8,488.2L502.3,496.2L501.2,505.8L499.2,513.2L496.4,518.8L492.2,523.5L487.8,526.6Z"/>
<path fill="rgb(242,93,12)" d="M426.3,248.2L426.3,246.2L428.1,243.8L430.9,241.8L434.6,240.2L438.2,239.5L441.2,239.6L443.8,240.4L445.3,242.2L445.5,244.2L444.2,246.4L441.8,248.2L438.2,249.6L433.8,250.7L430.2,250.8L427.8,250ZM792.2,513L788.8,511.9L785.6,509.8L782.8,506.8L780.9,503.2L779.7,499.2L779.1,494.2L779.1,488.2L779.9,481.8L781.6,474.8L783.6,468.8L786.8,461.2L793,449.2L795.6,445.8L798.2,443.4L801.2,442.3L804.2,442.2L807.2,443.2L810.1,445.2L812.5,448.2L814.2,451.8L815.5,455.8L816,459.8L815.2,469.8L810.7,491.2L808.4,498.8L806.2,503.8L803.2,508.2L799.8,511.6L796.2,513ZM481.8,527.3L476.2,527.9L470.8,527.2L465.2,525.3L460.8,522.4L456.8,518.8L453.7,514.2L451.6,509.8L449.2,501.9L447.6,493.2L446.7,484.8L446.7,474.2L448.2,463.8L450.5,455.8L453.4,450.2L457.8,445.5L460.2,444L462.8,443.1L467.8,443.1L472.8,445.2L478.8,449.8L484.8,455.6L489.8,461.3L493.8,467.4L497.8,476.3L499.5,482.2L500.8,490.1L501,496.2L499.8,506.2L497.8,513.2L495.1,518.2L491,522.8L486.8,525.5Z"/>
<path fill="rgb(238,79,14)" d="M792.2,511.4L789.2,510.4L786.1,508.2L783.8,505.5L782.1,502.2L781.1,498.2L780.6,493.8L780.6,488.2L781.4,482.2L784.8,470.1L788,462.2L794.2,450.2L796.2,447.2L798.8,444.9L801.2,443.8L803.8,443.8L806.2,444.8L808.7,446.8L811,449.8L812.7,453.2L814.2,460.2L813.5,468.8L809,489.8L806.9,497.2L805,501.8L802.2,506.4L799.2,509.8L796.2,511.2ZM481.2,525.8L476.2,526.4L471.1,525.8L465.8,523.8L461.2,520.9L457.8,517.5L454.8,513L452.8,508.3L450.8,501.5L449,492.8L448.2,484.8L448.2,474.8L449.5,465.2L451.8,457.2L454.5,451.8L458.8,447L463.2,444.8L467.8,444.9L472.5,447.2L479,452.8L486.2,460.1L490.2,465L493.4,470.2L496.8,478L498.2,483.2L499.4,491.2L499.6,496.2L498.4,505.8L496.5,512.2L494.2,516.8L490.2,521.3L485.8,524.2Z"/>
<path fill="rgb(234,65,16)" d="M792.2,509.7L789.5,508.8L786.8,506.8L785.1,504.8L783.6,501.8L782.6,497.8L782.1,493.2L782.8,482.8L786.2,470.8L789.3,463.2L795.1,451.8L797.2,448.4L799.2,446.4L801.2,445.5L803.2,445.5L805.3,446.2L807.6,448.2L809.4,450.8L811.1,454.2L812.5,460.8L811.8,468.2L807.3,489.2L803.5,500.8L800.9,505.2L798.2,508.3L795.2,509.7ZM479.8,524L474.8,524.3L469.8,523.3L465.2,521.2L460.8,517.8L458.2,514.8L455.8,510.5L453.3,503.2L451.8,496.7L450.2,487L450,479.8L450.3,473.8L451.8,465L453.8,458.2L456.2,453.2L459.8,449L463.8,446.9L467.2,447.1L471.3,449.2L478.7,455.8L485.6,462.8L488.8,466.8L491.8,471.8L495.1,479.2L496.5,484.2L497.6,492.2L497.7,496.2L496.6,505.2L494.6,511.8L492.1,516.2L488.3,520.2L484.2,522.7Z"/>
<path fill="rgb(229,52,18)" d="M792.2,507.9L789.8,506.9L787.7,505.2L786.2,503.2L784.9,500.2L783.7,492.2L784.6,482.8L787.6,471.8L795.8,454.2L799.2,448.8L800.8,447.7L802.8,447.4L804.8,448.2L806.4,449.8L809.5,455.2L810.7,461.2L810,467.8L805.7,488.2L802.2,499.2L799.8,503.8L797.2,506.7L794.8,507.9ZM479.2,521.1L475.2,521.4L470.8,520.5L466.2,518.4L462.8,515.6L460.2,512.6L458.2,508.8L456.2,502.8L454.5,495.8L453.3,487.8L452.9,482.2L453,475.8L454.2,467.4L456.2,460.2L458.2,455.8L461.2,451.8L464.2,450.1L466.8,450.3L470.2,452.2L477.8,459L484.2,465.8L487.2,469.8L489.8,474.2L492.4,480.2L493.7,485.2L494.7,492.2L494.8,496.2L493.8,504.2L492,510.2L489.9,514.2L486.8,517.7L483.2,519.9Z"/>
<path fill="rgb(225,38,19)" d="M792.8,505.7L790.8,505L789.2,503.8L787.8,501.8L786.8,499.2L785.8,491.8L786.6,483.2L788.9,474.2L793.3,463.8L799.2,452.3L801.2,450.3L802.8,450L804.2,450.7L805.6,452.2L807.9,457.2L808.6,461.8L807.8,468.2L803.8,487.4L800.8,497.4L798.8,501.2L796.8,504.1L794.8,505.5ZM478.8,517.3L475.2,517.6L471.8,516.9L468.2,515.2L465.2,512.8L463.2,510.2L461.7,507.2L458.8,497.4L456.7,484.2L456.7,477.8L457.2,472.2L458.4,466.2L460.4,459.8L462.5,456.2L464.8,454.6L466.8,454.7L468.8,455.9L475.8,462.3L481.8,468.8L486.3,475.8L489.9,485.2L491,495.8L490.2,502.8L489,507.8L487.2,511.4L485,514.2L482.2,516.2Z"/>
<path fill="rgb(222,28,20)" d="M792.8,502.4L791.2,501.6L790.2,500.2L788.8,495.2L788.6,489.8L789.6,482.2L791.8,474.5L795.8,465L800.2,456.3L801.8,454.7L802.8,454.6L804.4,456.2L805.7,460.2L805.7,463.8L804.7,469.8L801.2,486L798.6,495.2L795.8,500.8L794.2,502.1ZM478.2,512.3L475.8,512.6L473.8,512.3L471.2,511.2L469.2,509.7L466.4,505.8L464.1,498.8L461.9,486.8L461.6,477.8L463.4,466.8L464.8,463.2L466.2,461.9L467.8,462.2L470.8,464.4L478.7,472.8L482.2,478.7L485.1,486.2L486.1,495.2L484.9,504.2L483.8,507.4L482.3,509.8L480.7,511.2Z"/></g></g>
<polyline points="442.4,359.9 629.6,362.3 840.1,365.1" fill="none" stroke="#14781e" stroke-width="1.9"/>
<circle cx="442.4" cy="359.9" r="13.90" fill="none" stroke="#f0901e" stroke-width="1.9"/><circle cx="442.4" cy="359.9" r="9.20" fill="#fff" stroke="#f0901e" stroke-width="1.9"/><text x="442.4" y="363.5" text-anchor="middle" font-size="12" font-weight="bold" fill="#000">I</text>
<circle cx="629.6" cy="362.3" r="13.90" fill="none" stroke="#14781e" stroke-width="1.9"/><circle cx="629.6" cy="362.3" r="9.20" fill="#fff" stroke="#14781e" stroke-width="1.9"/><text x="629.6" y="365.9" text-anchor="middle" font-size="12" font-weight="normal" fill="#000" textLength="7.4" lengthAdjust="spacingAndGlyphs">C</text>
<circle cx="840.1" cy="365.1" r="13.90" fill="none" stroke="#2d7de0" stroke-width="1.9"/><circle cx="840.1" cy="365.1" r="9.20" fill="#fff" stroke="#2d7de0" stroke-width="1.9"/><text x="840.1" y="368.7" text-anchor="middle" font-size="12" font-weight="bold" fill="#000">D</text>
<circle cx="465.5" cy="448.7" r="14.10" fill="none" stroke="#ffdc00" stroke-width="2.2"/><circle cx="465.5" cy="448.7" r="9.60" fill="#fff" stroke="#ffdc00" stroke-width="2.2"/><text x="465.5" y="451.9" text-anchor="middle" font-size="12" font-weight="bold" fill="#000" textLength="10.2" lengthAdjust="spacingAndGlyphs">M</text>
<circle cx="788.8" cy="486.6" r="14.10" fill="none" stroke="#ffdc00" stroke-width="2.2"/><circle cx="788.8" cy="486.6" r="9.60" fill="#fff" stroke="#ffdc00" stroke-width="2.2"/><text x="788.8" y="489.8" text-anchor="middle" font-size="12" font-weight="bold" fill="#000" textLength="10.2" lengthAdjust="spacingAndGlyphs">M</text>
<rect x="213.6" y="690" width="882.4" height="16.2" fill="url(#cb)"/>
<g>
<defs><linearGradient id="lfg" x1="0.95" y1="0.05" x2="0.1" y2="0.95"><stop offset="0" stop-color="#ff9a3a"/><stop offset="0.4" stop-color="#f6771a"/><stop offset="1" stop-color="#e5520a"/></linearGradient><radialGradient id="lfh" cx="0.5" cy="0.5" r="0.5"><stop offset="0" stop-color="#ffc080" stop-opacity="0.85"/><stop offset="1" stop-color="#ffc080" stop-opacity="0"/></radialGradient><radialGradient id="lfs" cx="0.5" cy="0.5" r="0.5"><stop offset="0" stop-color="#4c5560" stop-opacity="0.85"/><stop offset="0.55" stop-color="#707880" stop-opacity="0.5"/><stop offset="1" stop-color="#999" stop-opacity="0"/></radialGradient></defs>
<ellipse cx="124.5" cy="175.9" rx="22" ry="3.4" fill="url(#lfs)"/>
<path d="M123.9,83.0L126.6,83.0L129.3,83.3L131.8,84.1L134.2,85.3L136.2,87.1L137.9,89.2L139.1,91.6L139.7,94.2L139.5,96.9L138.8,99.5L137.6,101.9L136.1,104.1L134.4,106.1L132.4,107.9L130.3,109.6L128.3,111.3L126.3,113.0L124.4,114.9L122.6,116.9L120.8,118.9L119.3,121.1L118.0,123.5L117.3,126.0L117.1,128.7L117.4,131.4L118.2,134.0L119.3,136.4L120.8,138.7L122.5,140.7L124.4,142.6L126.4,144.4L128.4,146.1L130.3,148.0L132.1,149.9L133.8,152.1L135.1,154.4L135.9,156.9L136.2,159.5L136.1,162.2L135.6,164.9L134.8,167.4L133.8,169.9L132.3,172.2L130.5,174.2L128.3,175.7L125.8,176.5L123.1,176.8L120.4,176.6L117.8,175.9L115.5,174.5L113.7,172.6L112.2,170.3L111.1,167.8L110.2,165.3L109.5,162.7L109.0,160.1L108.6,157.5L108.3,154.9L108.0,152.2L107.6,149.6L107.2,146.9L106.8,144.3L106.4,141.7L105.9,139.1L105.4,136.4L104.8,133.8L104.3,131.2L103.8,128.6L103.2,126.0L102.5,123.5L101.8,120.9L100.9,118.3L100.1,115.8L99.5,113.2L99.3,110.6L99.5,107.9L100.1,105.3L100.9,102.7L101.9,100.3L103.1,97.9L104.5,95.6L106.0,93.4L107.7,91.3L109.5,89.4L111.6,87.7L113.8,86.1L116.1,84.9L118.6,84.0L121.2,83.3Z" fill="url(#lfg)" stroke="#c8640f" stroke-width="0.6"/>
<ellipse cx="129" cy="96" rx="9" ry="11" transform="rotate(35 129 96)" fill="url(#lfh)"/>
<ellipse cx="128.9" cy="69.9" rx="6.0" ry="8.1" transform="rotate(8 128.9 69.9)" fill="url(#lfg)" stroke="#c8640f" stroke-width="0.6"/>
<ellipse cx="130.4" cy="68.3" rx="3.3" ry="4.9" transform="rotate(8 128.9 69.9)" fill="url(#lfh)"/>
<ellipse cx="117.0" cy="71.4" rx="3.9" ry="5.9" transform="rotate(14 117.0 71.4)" fill="url(#lfg)" stroke="#c8640f" stroke-width="0.6"/>
<ellipse cx="118.0" cy="70.2" rx="2.1" ry="3.5" transform="rotate(14 117.0 71.4)" fill="url(#lfh)"/>
<ellipse cx="110.7" cy="77.6" rx="2.9" ry="4.4" transform="rotate(20 110.7 77.6)" fill="url(#lfg)" stroke="#c8640f" stroke-width="0.6"/>
<ellipse cx="111.4" cy="76.7" rx="1.6" ry="2.6" transform="rotate(20 110.7 77.6)" fill="url(#lfh)"/>
<ellipse cx="105.4" cy="83.9" rx="2.6" ry="4.0" transform="rotate(24 105.4 83.9)" fill="url(#lfg)" stroke="#c8640f" stroke-width="0.6"/>
<ellipse cx="106.1" cy="83.1" rx="1.4" ry="2.4" transform="rotate(24 105.4 83.9)" fill="url(#lfh)"/>
<ellipse cx="100.5" cy="90.2" rx="2.6" ry="3.8" transform="rotate(26 100.5 90.2)" fill="url(#lfg)" stroke="#c8640f" stroke-width="0.6"/>
<ellipse cx="101.2" cy="89.4" rx="1.4" ry="2.3" transform="rotate(26 100.5 90.2)" fill="url(#lfh)"/>
</g>
<defs><radialGradient id="lb" cx="0.5" cy="0.5" r="0.5"><stop offset="0" stop-color="#4a5a52" stop-opacity="0.8"/><stop offset="0.55" stop-color="#6a7a72" stop-opacity="0.5"/><stop offset="1" stop-color="#999" stop-opacity="0"/></radialGradient></defs><ellipse cx="187.2" cy="174.3" rx="25" ry="4" fill="url(#lb)"/><rect x="174.2" y="167.7" width="26" height="4.5" fill="#fff"/><rect x="174.2" y="90.0" width="25.8" height="77.7" fill="#ff8c00"/>
<g transform="translate(1150.4,0) scale(-0.975,1) translate(-119.8,0)">
<defs><linearGradient id="rfg" x1="0.95" y1="0.05" x2="0.1" y2="0.95"><stop offset="0" stop-color="#58cfe0"/><stop offset="0.4" stop-color="#2fb0cc"/><stop offset="1" stop-color="#1c96b8"/></linearGradient><radialGradient id="rfh" cx="0.5" cy="0.5" r="0.5"><stop offset="0" stop-color="#b0ecf6" stop-opacity="0.85"/><stop offset="1" stop-color="#b0ecf6" stop-opacity="0"/></radialGradient><radialGradient id="rfs" cx="0.5" cy="0.5" r="0.5"><stop offset="0" stop-color="#4c5560" stop-opacity="0.85"/><stop offset="0.55" stop-color="#707880" stop-opacity="0.5"/><stop offset="1" stop-color="#999" stop-opacity="0"/></radialGradient></defs>
<ellipse cx="124.5" cy="175.9" rx="22" ry="3.4" fill="url(#rfs)"/>
<path d="M123.9,83.0L126.6,83.0L129.3,83.3L131.8,84.1L134.2,85.3L136.2,87.1L137.9,89.2L139.1,91.6L139.7,94.2L139.5,96.9L138.8,99.5L137.6,101.9L136.1,104.1L134.4,106.1L132.4,107.9L130.3,109.6L128.3,111.3L126.3,113.0L124.4,114.9L122.6,116.9L120.8,118.9L119.3,121.1L118.0,123.5L117.3,126.0L117.1,128.7L117.4,131.4L118.2,134.0L119.3,136.4L120.8,138.7L122.5,140.7L124.4,142.6L126.4,144.4L128.4,146.1L130.3,148.0L132.1,149.9L133.8,152.1L135.1,154.4L135.9,156.9L136.2,159.5L136.1,162.2L135.6,164.9L134.8,167.4L133.8,169.9L132.3,172.2L130.5,174.2L128.3,175.7L125.8,176.5L123.1,176.8L120.4,176.6L117.8,175.9L115.5,174.5L113.7,172.6L112.2,170.3L111.1,167.8L110.2,165.3L109.5,162.7L109.0,160.1L108.6,157.5L108.3,154.9L108.0,152.2L107.6,149.6L107.2,146.9L106.8,144.3L106.4,141.7L105.9,139.1L105.4,136.4L104.8,133.8L104.3,131.2L103.8,128.6L103.2,126.0L102.5,123.5L101.8,120.9L100.9,118.3L100.1,115.8L99.5,113.2L99.3,110.6L99.5,107.9L100.1,105.3L100.9,102.7L101.9,100.3L103.1,97.9L104.5,95.6L106.0,93.4L107.7,91.3L109.5,89.4L111.6,87.7L113.8,86.1L116.1,84.9L118.6,84.0L121.2,83.3Z" fill="url(#rfg)" stroke="#1a8aa4" stroke-width="0.6"/>
<ellipse cx="129" cy="96" rx="9" ry="11" transform="rotate(35 129 96)" fill="url(#rfh)"/>
<ellipse cx="128.9" cy="69.9" rx="6.0" ry="8.1" transform="rotate(8 128.9 69.9)" fill="url(#rfg)" stroke="#1a8aa4" stroke-width="0.6"/>
<ellipse cx="130.4" cy="68.3" rx="3.3" ry="4.9" transform="rotate(8 128.9 69.9)" fill="url(#rfh)"/>
<ellipse cx="117.0" cy="71.4" rx="3.9" ry="5.9" transform="rotate(14 117.0 71.4)" fill="url(#rfg)" stroke="#1a8aa4" stroke-width="0.6"/>
<ellipse cx="118.0" cy="70.2" rx="2.1" ry="3.5" transform="rotate(14 117.0 71.4)" fill="url(#rfh)"/>
<ellipse cx="110.7" cy="77.6" rx="2.9" ry="4.4" transform="rotate(20 110.7 77.6)" fill="url(#rfg)" stroke="#1a8aa4" stroke-width="0.6"/>
<ellipse cx="111.4" cy="76.7" rx="1.6" ry="2.6" transform="rotate(20 110.7 77.6)" fill="url(#rfh)"/>
<ellipse cx="105.4" cy="83.9" rx="2.6" ry="4.0" transform="rotate(24 105.4 83.9)" fill="url(#rfg)" stroke="#1a8aa4" stroke-width="0.6"/>
<ellipse cx="106.1" cy="83.1" rx="1.4" ry="2.4" transform="rotate(24 105.4 83.9)" fill="url(#rfh)"/>
<ellipse cx="100.5" cy="90.2" rx="2.6" ry="3.8" transform="rotate(26 100.5 90.2)" fill="url(#rfg)" stroke="#1a8aa4" stroke-width="0.6"/>
<ellipse cx="101.2" cy="89.4" rx="1.4" ry="2.3" transform="rotate(26 100.5 90.2)" fill="url(#rfh)"/>
</g>
<defs><radialGradient id="rb" cx="0.5" cy="0.5" r="0.5"><stop offset="0" stop-color="#4a5a52" stop-opacity="0.8"/><stop offset="0.55" stop-color="#6a7a72" stop-opacity="0.5"/><stop offset="1" stop-color="#999" stop-opacity="0"/></radialGradient></defs><ellipse cx="1217.0" cy="174.3" rx="25" ry="4" fill="url(#rb)"/><rect x="1204.0" y="167.7" width="26" height="4.5" fill="#fff"/><rect x="1204.0" y="98.2" width="25.8" height="69.5" fill="#1e90ff"/>
</svg>
<span class="t b" style="left:530.26px;top:1px;font-size:16.1px;transform:scaleX(0.9941);">Analisis Estática:</span>
<div class="sel"><span class="t " style="left:1.90px;top:7px;font-size:11.5px;transform:scaleX(0.9726);">Presiones Medias</span><svg style="left:115px;top:9.5px" width="10" height="6" viewBox="0 0 10 6"><path d="M0.8,0.6 L5,4.8 L9.2,0.6" fill="none" stroke="#555" stroke-width="1"/></svg></div>
<span class="t " style="left:275.17px;top:71px;font-size:15.5px;transform:scaleX(0.9199);color:#929292;">27,0 %</span>
<span class="t " style="left:986.27px;top:71px;font-size:15.5px;transform:scaleX(0.9220);color:#929292;">23,1 %</span>
<span class="t " style="left:275.27px;top:620px;font-size:15.5px;transform:scaleX(0.9158);color:#929292;">25,9 %</span>
<span class="t " style="left:986.17px;top:620px;font-size:15.5px;transform:scaleX(0.9220);color:#929292;">24,0 %</span>
<span class="t b" style="left:633.22px;top:92px;font-size:13.8px;">50,1 %</span>
<span class="t b" style="left:633.22px;top:602px;font-size:13.8px;transform:scaleX(0.9914);">49,9 %</span>
<span class="t b" style="left:296.82px;top:347px;font-size:13.8px;transform:scaleX(0.9775);color:#f0941e;">52,9 %</span>
<span class="t b" style="left:969.32px;top:347px;font-size:13.8px;transform:scaleX(0.9868);color:#2d85e0;">47,1 %</span>
<span class="t b" style="left:142.30px;top:29px;font-size:14px;transform:scaleX(0.9244);">52,9 %</span>
<span class="t b" style="left:1172.00px;top:29px;font-size:14px;transform:scaleX(0.9428);">47,1 %</span>
<div class="panel" style="left:70px"><div class="hd" style="top:212px;height:19px;color:#f28c1e"><span class="t b" style="left:24.81px;top:4px;font-size:14.3px;transform:scaleX(1.0204);">Pie Izquierdo</span></div>
<div class="lb" style="top:232px"><span class="t " style="left:25.58px;top:3px;font-size:11px;transform:scaleX(1.0167);">Presiones Medias</span></div>
<div class="vl" style="top:247px"><span class="t " style="left:44.53px;top:3px;font-size:11px;transform:scaleX(0.9466);">125,8 kPa</span></div>
<div class="lb" style="top:262px"><span class="t " style="left:21.31px;top:3px;font-size:11px;">Presiones Máximas</span></div>
<div class="vl" style="top:277px"><span class="t " style="left:44.53px;top:3px;font-size:11px;transform:scaleX(0.9708);">246,1 kPa</span></div>
<div class="lb" style="top:292px"><span class="t " style="left:44.84px;top:3px;font-size:11px;transform:scaleX(1.0323);">Superficie</span></div>
<div class="vl" style="top:307px"><span class="t " style="left:43.61px;top:3px;font-size:11px;transform:scaleX(0.9674);">132,0 cm2</span></div>
<div class="lb" style="top:322px"><span class="t " style="left:54.32px;top:3px;font-size:11px;transform:scaleX(0.9877);">Carga</span></div>
<div class="vl" style="top:337px"><span class="t " style="left:28.02px;top:3px;font-size:11px;transform:scaleX(0.9593);">52,9 % (27,0 Kg)</span></div>
<div class="lb" style="top:352px"><span class="t " style="left:32.91px;top:3px;font-size:11px;transform:scaleX(1.0429);">Angulo Del Pie</span></div>
<div class="vl" style="top:367px"><span class="t " style="left:57.92px;top:3px;font-size:11px;transform:scaleX(0.9846);">9,3 °</span></div>
<div class="lb" style="top:382px"><span class="t " style="left:38.72px;top:3px;font-size:11px;transform:scaleX(1.0138);">Eje Podálico</span></div>
<div class="vl" style="top:397px"><span class="t " style="left:57.92px;top:3px;font-size:11px;transform:scaleX(0.9846);">9,2 °</span></div>
<div class="lb" style="top:412px"><span class="t " style="left:61.96px;top:3px;font-size:11px;">I-C</span></div>
<div class="vl" style="top:427px"><span class="t " style="left:47.90px;top:3px;font-size:11px;transform:scaleX(0.9790);">98,5 mm</span></div>
<div class="hd" style="top:458px;height:16px;overflow:hidden;color:#f28c1e"><span class="t b" style="left:43.08px;top:4px;font-size:14.3px;transform:scaleX(1.1023);">Antepie</span></div>
<div class="lb" style="top:474px"><span class="t " style="left:44.84px;top:3px;font-size:11px;transform:scaleX(1.0323);">Superficie</span></div>
<div class="vl" style="top:489px"><span class="t " style="left:46.67px;top:3px;font-size:11px;transform:scaleX(0.9702);">71,0 cm2</span></div>
<div class="lb" style="top:504px"><span class="t " style="left:54.32px;top:3px;font-size:11px;transform:scaleX(0.9877);">Carga</span></div>
<div class="vl" style="top:519px"><span class="t " style="left:28.02px;top:3px;font-size:11px;transform:scaleX(0.9569);">27,0 % (13,8 Kg)</span></div>
<div class="lb" style="top:534px"><span class="t " style="left:60.13px;top:3px;font-size:11px;transform:scaleX(0.9704);">R/A</span></div>
<div class="vl" style="top:549px"><span class="t " style="left:52.17px;top:3px;font-size:11px;transform:scaleX(0.9810);">51,0 %</span></div>
<div class="hd" style="top:578px;height:16px;overflow:hidden;color:#f28c1e"><span class="t b" style="left:40.30px;top:4px;font-size:14.3px;transform:scaleX(1.1207);">Retropie</span></div>
<div class="lb" style="top:594px"><span class="t " style="left:44.84px;top:3px;font-size:11px;transform:scaleX(1.0323);">Superficie</span></div>
<div class="vl" style="top:609px"><span class="t " style="left:46.67px;top:3px;font-size:11px;transform:scaleX(0.9702);">61,0 cm2</span></div>
<div class="lb" style="top:624px"><span class="t " style="left:54.32px;top:3px;font-size:11px;transform:scaleX(0.9877);">Carga</span></div>
<div class="vl" style="top:639px"><span class="t " style="left:28.02px;top:3px;font-size:11px;transform:scaleX(0.9593);">25,9 % (13,2 Kg)</span></div>
<div class="lb" style="top:654px"><span class="t " style="left:60.13px;top:3px;font-size:11px;transform:scaleX(0.9704);">R/A</span></div>
<div class="vl" style="top:669px"><span class="t " style="left:52.17px;top:3px;font-size:11px;transform:scaleX(0.9810);">49,0 %</span></div></div>
<div class="panel" style="left:1100px"><div class="hd" style="top:212px;height:19px;color:#2d8ae2"><span class="t b" style="left:27.98px;top:4px;font-size:14.3px;transform:scaleX(1.0043);">Pie Derecho</span></div>
<div class="lb" style="top:232px"><span class="t " style="left:25.58px;top:3px;font-size:11px;transform:scaleX(1.0167);">Presiones Medias</span></div>
<div class="vl" style="top:247px"><span class="t " style="left:44.93px;top:3px;font-size:11px;transform:scaleX(0.9706);">118,0 kPa</span></div>
<div class="lb" style="top:262px"><span class="t " style="left:21.31px;top:3px;font-size:11px;">Presiones Máximas</span></div>
<div class="vl" style="top:277px"><span class="t " style="left:44.53px;top:3px;font-size:11px;transform:scaleX(0.9708);">246,1 kPa</span></div>
<div class="lb" style="top:292px"><span class="t " style="left:44.84px;top:3px;font-size:11px;transform:scaleX(1.0323);">Superficie</span></div>
<div class="vl" style="top:307px"><span class="t " style="left:43.61px;top:3px;font-size:11px;transform:scaleX(0.9693);">125,0 cm2</span></div>
<div class="lb" style="top:322px"><span class="t " style="left:54.32px;top:3px;font-size:11px;transform:scaleX(0.9877);">Carga</span></div>
<div class="vl" style="top:337px"><span class="t " style="left:28.02px;top:3px;font-size:11px;transform:scaleX(0.9617);">47,1 % (24,0 Kg)</span></div>
<div class="lb" style="top:352px"><span class="t " style="left:32.91px;top:3px;font-size:11px;transform:scaleX(1.0429);">Angulo Del Pie</span></div>
<div class="vl" style="top:367px"><span class="t " style="left:54.86px;top:3px;font-size:11px;transform:scaleX(0.9732);">10,6 °</span></div>
<div class="lb" style="top:382px"><span class="t " style="left:38.72px;top:3px;font-size:11px;transform:scaleX(1.0138);">Eje Podálico</span></div>
<div class="vl" style="top:397px"><span class="t " style="left:55.27px;top:3px;font-size:11px;">11,2 °</span></div>
<div class="lb" style="top:412px"><span class="t " style="left:59.52px;top:3px;font-size:11px;transform:scaleX(0.9712);">C-D</span></div>
<div class="vl" style="top:427px"><span class="t " style="left:45.25px;top:3px;font-size:11px;">110,8 mm</span></div>
<div class="hd" style="top:458px;height:16px;overflow:hidden;color:#2d8ae2"><span class="t b" style="left:43.08px;top:4px;font-size:14.3px;transform:scaleX(1.1023);">Antepie</span></div>
<div class="lb" style="top:474px"><span class="t " style="left:44.84px;top:3px;font-size:11px;transform:scaleX(1.0323);">Superficie</span></div>
<div class="vl" style="top:489px"><span class="t " style="left:46.67px;top:3px;font-size:11px;transform:scaleX(0.9702);">64,0 cm2</span></div>
<div class="lb" style="top:504px"><span class="t " style="left:54.32px;top:3px;font-size:11px;transform:scaleX(0.9877);">Carga</span></div>
<div class="vl" style="top:519px"><span class="t " style="left:28.43px;top:3px;font-size:11px;transform:scaleX(0.9653);">23,1 % (11,8 Kg)</span></div>
<div class="lb" style="top:534px"><span class="t " style="left:60.13px;top:3px;font-size:11px;transform:scaleX(0.9704);">R/A</span></div>
<div class="vl" style="top:549px"><span class="t " style="left:52.17px;top:3px;font-size:11px;transform:scaleX(0.9810);">49,0 %</span></div>
<div class="hd" style="top:578px;height:16px;overflow:hidden;color:#2d8ae2"><span class="t b" style="left:40.30px;top:4px;font-size:14.3px;transform:scaleX(1.1207);">Retropie</span></div>
<div class="lb" style="top:594px"><span class="t " style="left:44.84px;top:3px;font-size:11px;transform:scaleX(1.0323);">Superficie</span></div>
<div class="vl" style="top:609px"><span class="t " style="left:46.67px;top:3px;font-size:11px;transform:scaleX(0.9702);">61,0 cm2</span></div>
<div class="lb" style="top:624px"><span class="t " style="left:54.32px;top:3px;font-size:11px;transform:scaleX(0.9877);">Carga</span></div>
<div class="vl" style="top:639px"><span class="t " style="left:28.02px;top:3px;font-size:11px;transform:scaleX(0.9593);">24,0 % (12,2 Kg)</span></div>
<div class="lb" style="top:654px"><span class="t " style="left:60.13px;top:3px;font-size:11px;transform:scaleX(0.9704);">R/A</span></div>
<div class="vl" style="top:669px"><span class="t " style="left:52.17px;top:3px;font-size:11px;transform:scaleX(0.9810);">51,0 %</span></div></div>
<span class="t " style="left:190.73px;top:693px;font-size:11.5px;transform:scaleX(1.0577);">Min</span>
<span class="t " style="left:1099.93px;top:693px;font-size:11.5px;transform:scaleX(0.9616);">Max</span>
</body></html>
